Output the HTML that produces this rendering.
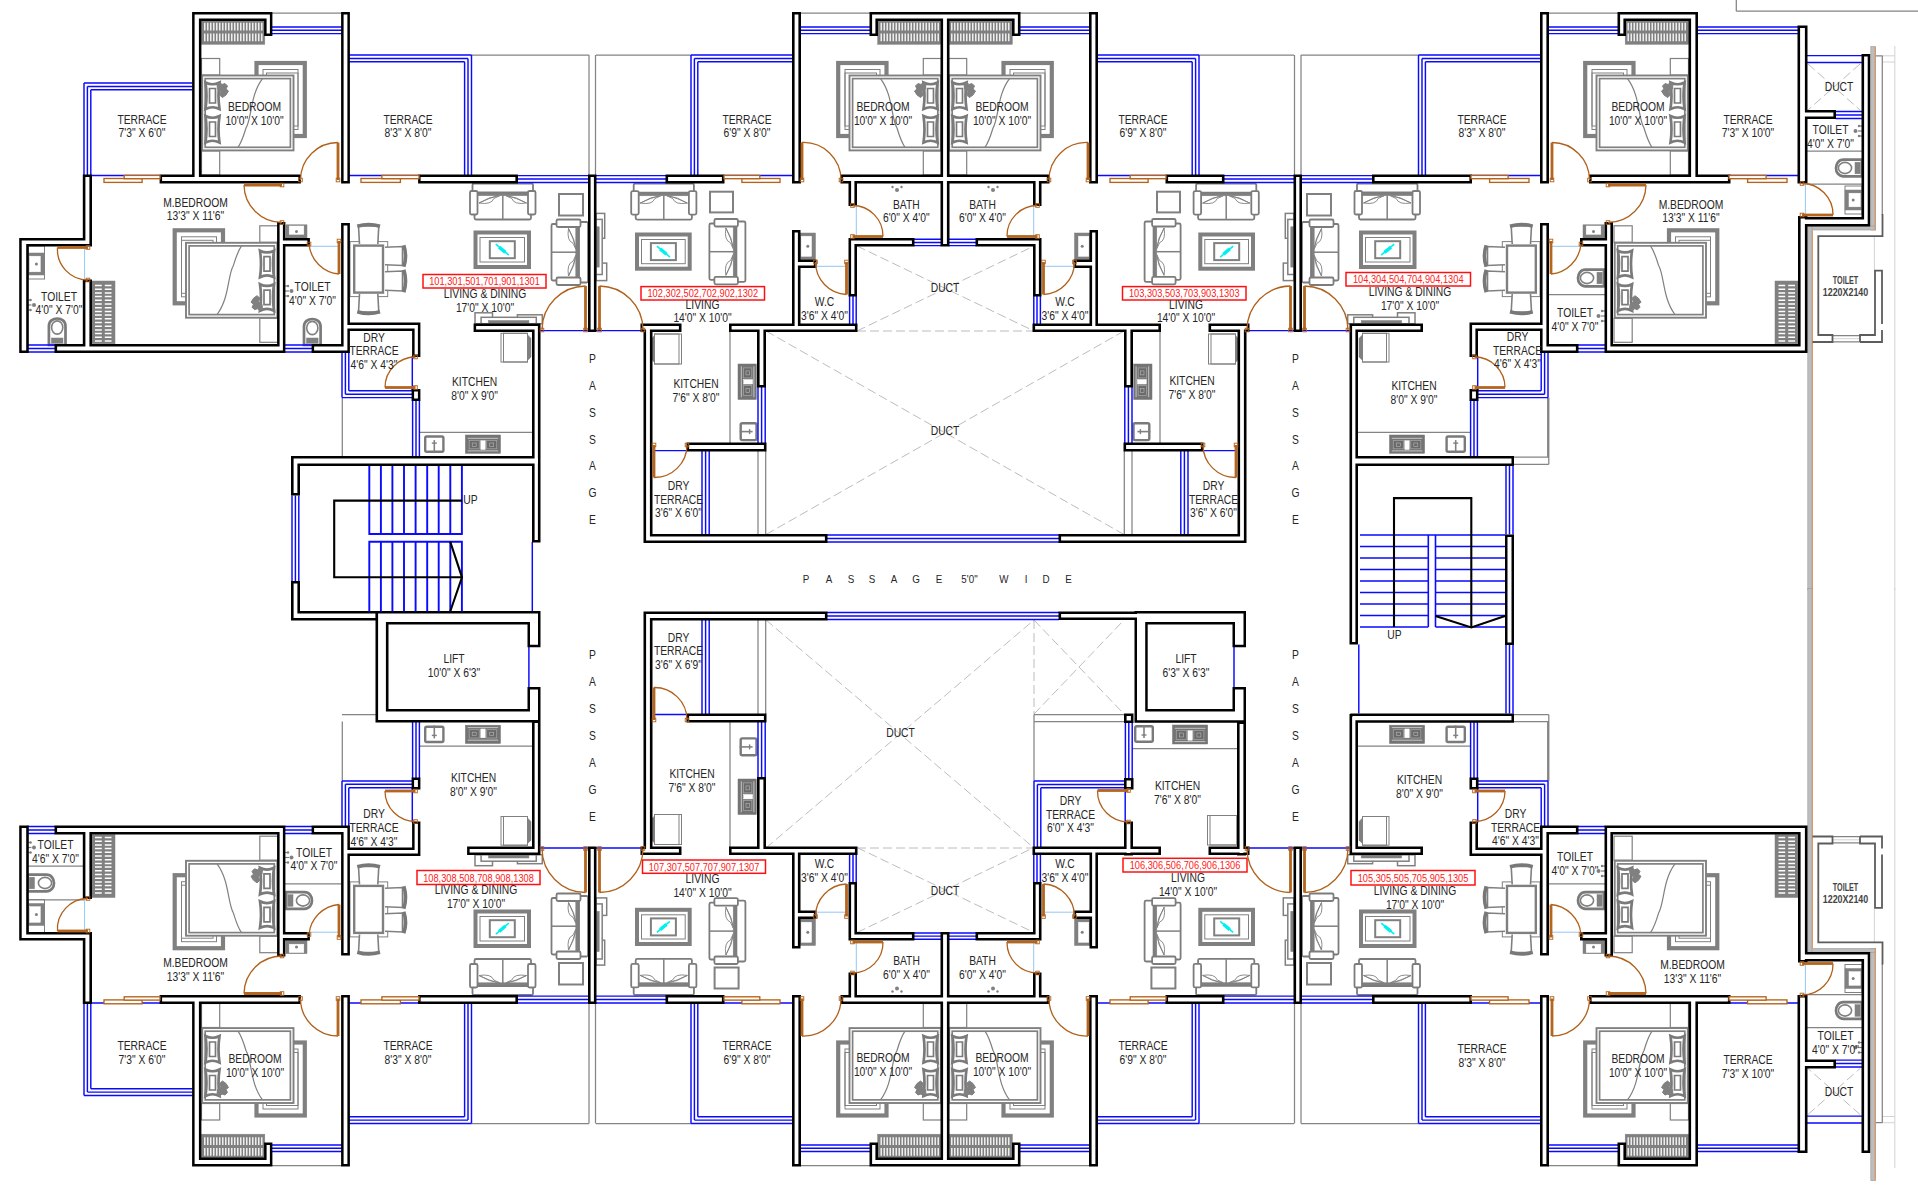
<!DOCTYPE html><html><head><meta charset="utf-8"><title>Floor Plan</title>
<style>html,body{margin:0;padding:0;background:#fff;overflow:hidden}svg{display:block}text{font-family:"Liberation Sans",Arial,Helvetica,sans-serif}</style></head><body>
<svg width="1918" height="1200" viewBox="0 0 1918 1200">
<rect width="1918" height="1200" fill="#fff"/>
<path d="M1882 55.8L1894.6 55.8M1882 62L1894.6 62M1894.8 46L1894.8 590M1874.4 236L1874.4 270M1832.5 338.7L1860 338.7M1882 1122.7L1894.6 1122.7M1882 1116.5L1894.6 1116.5M1894.8 1168L1894.8 588.5M1874.4 942.5L1874.4 908.5M1832.5 839.8L1860 839.8" fill="none" stroke="#c8c8c8" stroke-width="0.8"/>
<path d="M272 13L342 13M471.5 55L589 55M589 55L589 175M595.5 55L595.5 175M342.3 397.6L342.3 457M419.5 432.3L532.5 432.3M272 1165.5L342 1165.5M471.5 1123.5L589 1123.5M589 1123.5L589 1003.5M595.5 1123.5L595.5 1003.5M342.3 780.9L342.3 721.5M419.5 746.2L532.5 746.2M1618 13L1548 13M1418.5 55L1301 55M1301 55L1301 175M1294.5 55L1294.5 175M1547.7 397.6L1547.7 457M1470.5 432.3L1357.5 432.3M1862 151L1807 151M1862 184L1807 184M1618 1165.5L1548 1165.5M1418.5 1123.5L1301 1123.5M1301 1123.5L1301 1003.5M1294.5 1123.5L1294.5 1003.5M1547.7 780.9L1547.7 721.5M1470.5 746.2L1357.5 746.2M1862 1027.5L1807 1027.5M1862 994.5L1807 994.5M596 55L691 55M800 13L870 13M758 451L758 534.5M765.7 451L765.7 534.5M730 331L730 443M1294 55L1199 55M1090 13L1020 13M1132 451L1132 534.5M1124.3 451L1124.3 534.5M1160 331L1160 443M596 1123.5L691 1123.5M800 1165.5L870 1165.5M758 714L758 620M765.7 714L765.7 620M730 847.5L730 722M1294 1123.5L1199 1123.5M1090 1165.5L1020 1165.5M342 714.5L376 714.5M1514 457.2L1548.8 457.2M1514 464.3L1548.8 464.3M1548.8 397.6L1548.8 464.3M1514 714.7L1548.8 714.7M1514 721.7L1548.8 721.7M1548.8 714.7L1548.8 781M1034 714.5L1125 714.5M1034 721.5L1125 721.5M1034 714.5L1034 781M1132.5 748.5L1237.5 748.5M1874.5 55.8L1882.3 55.8M1882.3 55.8L1882.3 215M1832.5 335.6L1860 335.6M1832.5 341.9L1860 341.9M1874.5 1122.7L1882.3 1122.7M1882.3 1122.7L1882.3 963.5M1832.5 842.9L1860 842.9M1832.5 836.6L1860 836.6M1736.3 0L1736.3 11.2M1736.3 11.2L1918 11.2M285 883.8L341.5 883.8M27.5 866L84 866M27.5 899.8L84 899.8M1605 294.7L1548.5 294.7M1605 883.8L1548.5 883.8" fill="none" stroke="#848484" stroke-width="1.25"/>
<g><path d="M1860 64L1808 110" stroke="#b4b4b4" stroke-width="0.9" stroke-dasharray="9 4" fill="none"/><path d="M1808 64L1860 110" stroke="#b4b4b4" stroke-width="0.9" stroke-dasharray="9 4" fill="none"/><path d="M1860 1114.5L1808 1068.5" stroke="#b4b4b4" stroke-width="0.9" stroke-dasharray="9 4" fill="none"/><path d="M1808 1114.5L1860 1068.5" stroke="#b4b4b4" stroke-width="0.9" stroke-dasharray="9 4" fill="none"/><path d="M857 246L1034 331" stroke="#b4b4b4" stroke-width="0.9" stroke-dasharray="9 4" fill="none"/><path d="M857 331L1034 246" stroke="#b4b4b4" stroke-width="0.9" stroke-dasharray="9 4" fill="none"/><path d="M857 932.5L1034 847.5" stroke="#b4b4b4" stroke-width="0.9" stroke-dasharray="9 4" fill="none"/><path d="M857 847.5L1034 932.5" stroke="#b4b4b4" stroke-width="0.9" stroke-dasharray="9 4" fill="none"/><path d="M766 331L1124 534.5" stroke="#b4b4b4" stroke-width="0.9" stroke-dasharray="9 4" fill="none"/><path d="M766 534.5L1124 331" stroke="#b4b4b4" stroke-width="0.9" stroke-dasharray="9 4" fill="none"/><path d="M766 620L1034 848" stroke="#b4b4b4" stroke-width="0.9" stroke-dasharray="9 4" fill="none"/><path d="M766 848L1034 620" stroke="#b4b4b4" stroke-width="0.9" stroke-dasharray="9 4" fill="none"/><path d="M1034 620L1034 714" stroke="#b4b4b4" stroke-width="0.9" stroke-dasharray="9 4" fill="none"/><path d="M1034 620L1124 714" stroke="#b4b4b4" stroke-width="0.9" stroke-dasharray="9 4" fill="none"/><path d="M1034 714L1124 620" stroke="#b4b4b4" stroke-width="0.9" stroke-dasharray="9 4" fill="none"/><path d="M857 331L1034 331" stroke="#b4b4b4" stroke-width="0.9" stroke-dasharray="9 4" fill="none"/><path d="M857 848L1034 848" stroke="#b4b4b4" stroke-width="0.9" stroke-dasharray="9 4" fill="none"/><rect x="1870.8" y="46.5" width="4.2" height="183.5" fill="#bdbdbd" stroke="#9a9a9a" stroke-width="0.6"/><rect x="1811" y="226" width="64" height="4" fill="#bdbdbd" stroke="#9a9a9a" stroke-width="0.6"/><rect x="1807.8" y="226" width="4.2" height="364" fill="#bdbdbd" stroke="#9a9a9a" stroke-width="0.6"/><path d="M1875.5 46.5L1875.5 230.5" stroke="#e09050" stroke-width="0.9"/><path d="M1812.5 230.5L1812.5 590" stroke="#e09050" stroke-width="0.9"/><path d="M1882.5 214L1882.5 236.2L1818.3 236.2L1818.3 335L1832.5 335L1832.5 342L1812.5 342" fill="none" stroke="#5c5c5c" stroke-width="1.8"/><path d="M1860 342L1860 335L1875 335L1875 270.6L1882 270.6L1882 324" fill="none" stroke="#5c5c5c" stroke-width="1.8"/><path d="M1860 342L1882 342L1882 330" fill="none" stroke="#5c5c5c" stroke-width="1.8"/><rect x="1870.8" y="948.5" width="4.2" height="232.2" fill="#bdbdbd" stroke="#9a9a9a" stroke-width="0.6"/><rect x="1811" y="948.5" width="64" height="4" fill="#bdbdbd" stroke="#9a9a9a" stroke-width="0.6"/><rect x="1807.8" y="588.5" width="4.2" height="364" fill="#bdbdbd" stroke="#9a9a9a" stroke-width="0.6"/><path d="M1875.5 1180.7L1875.5 948" stroke="#e09050" stroke-width="0.9"/><path d="M1812.5 948L1812.5 588.5" stroke="#e09050" stroke-width="0.9"/><path d="M1882.5 964.5L1882.5 942.3L1818.3 942.3L1818.3 843.5L1832.5 843.5L1832.5 836.5L1812.5 836.5" fill="none" stroke="#5c5c5c" stroke-width="1.8"/><path d="M1860 836.5L1860 843.5L1875 843.5L1875 907.9L1882 907.9L1882 854.5" fill="none" stroke="#5c5c5c" stroke-width="1.8"/><path d="M1860 836.5L1882 836.5L1882 848.5" fill="none" stroke="#5c5c5c" stroke-width="1.8"/><rect x="256.5" y="63" width="48.3" height="73" fill="#fff" stroke="#808080" stroke-width="4.2"/><rect x="263" y="69.5" width="35" height="60" fill="none" stroke="#808080" stroke-width="1"/><rect x="266.5" y="73" width="31.5" height="53" fill="none" stroke="#808080" stroke-width="1"/><rect x="201.5" y="58.5" width="18.2" height="16.5" fill="#fff" stroke="#808080" stroke-width="1.2"/><rect x="201.5" y="151" width="18.2" height="24" fill="#fff" stroke="#808080" stroke-width="1.2"/><rect x="202.2" y="75.5" width="91.3" height="74.9" fill="#fff" stroke="#808080" stroke-width="1.9"/><rect x="205.2" y="78.6" width="85.2" height="68.7" fill="none" stroke="#808080" stroke-width="1.7"/><path d="M262.5 78.6C250 95 252 118 246 128C243 138 241 143 238 147.3" fill="none" stroke="#808080" stroke-width="1.2" /><path d="M205.5 82.5Q212.5 86 219.5 82.5Q217.5 95.8 219.5 109Q212.5 105.5 205.5 109Q207.5 95.8 205.5 82.5Z" fill="#fff" stroke="#7a7a7a" stroke-width="2.7" /><path d="M209.5 88.5L215.5 88.5 215.5 103 209.5 103Z" fill="#fff" stroke="#7a7a7a" stroke-width="1.7" /><path d="M205.5 116Q212.5 119.5 219.5 116Q217.5 129.2 219.5 142.5Q212.5 139 205.5 142.5Q207.5 129.2 205.5 116Z" fill="#fff" stroke="#7a7a7a" stroke-width="2.7" /><path d="M209.5 122L215.5 122 215.5 136.5 209.5 136.5Z" fill="#fff" stroke="#7a7a7a" stroke-width="1.7" /><path d="M217 84L220 82.5 222 84.5 225 83.5 227.5 86 226 89 228.5 91 226 95 222.5 97.5 219.5 95 221 91.5 217.5 89Z" fill="#808080" stroke="#808080" stroke-width="1" /><rect x="201.3" y="19.7" width="63.5" height="24.6" fill="#808080" stroke="#808080" stroke-width="0.5"/><path d="M204.8 22.7L204.8 30.5M207.8 22.7L207.8 30.5M210.8 22.7L210.8 30.5M213.8 22.7L213.8 30.5M216.8 22.7L216.8 30.5M219.8 22.7L219.8 30.5M222.8 22.7L222.8 30.5M225.8 22.7L225.8 30.5M228.8 22.7L228.8 30.5M231.8 22.7L231.8 30.5M234.8 22.7L234.8 30.5M237.8 22.7L237.8 30.5M240.8 22.7L240.8 30.5M243.8 22.7L243.8 30.5M246.8 22.7L246.8 30.5M249.8 22.7L249.8 30.5M252.8 22.7L252.8 30.5M255.8 22.7L255.8 30.5M258.8 22.7L258.8 30.5M261.8 22.7L261.8 30.5" stroke="#fff" stroke-width="1.3"/><path d="M204.8 33.5L204.8 41.3M207.8 33.5L207.8 41.3M210.8 33.5L210.8 41.3M213.8 33.5L213.8 41.3M216.8 33.5L216.8 41.3M219.8 33.5L219.8 41.3M222.8 33.5L222.8 41.3M225.8 33.5L225.8 41.3M228.8 33.5L228.8 41.3M231.8 33.5L231.8 41.3M234.8 33.5L234.8 41.3M237.8 33.5L237.8 41.3M240.8 33.5L240.8 41.3M243.8 33.5L243.8 41.3M246.8 33.5L246.8 41.3M249.8 33.5L249.8 41.3M252.8 33.5L252.8 41.3M255.8 33.5L255.8 41.3M258.8 33.5L258.8 41.3M261.8 33.5L261.8 41.3" stroke="#fff" stroke-width="1.3"/><rect x="174.7" y="230.3" width="48.3" height="73" fill="#fff" stroke="#808080" stroke-width="4.2"/><rect x="181.5" y="236.8" width="35" height="60" fill="none" stroke="#808080" stroke-width="1"/><rect x="181.5" y="240.3" width="31.5" height="53" fill="none" stroke="#808080" stroke-width="1"/><rect x="259.8" y="225.8" width="18.2" height="16.5" fill="#fff" stroke="#808080" stroke-width="1.2"/><rect x="259.8" y="318.3" width="18.2" height="24" fill="#fff" stroke="#808080" stroke-width="1.2"/><rect x="186" y="242.8" width="91.3" height="74.9" fill="#fff" stroke="#808080" stroke-width="1.9"/><rect x="189.1" y="245.9" width="85.2" height="68.7" fill="none" stroke="#808080" stroke-width="1.7"/><path d="M217 314.6C229.5 298.2 227.5 275.2 233.5 265.2C236.5 255.2 238.5 250.2 241.5 245.9" fill="none" stroke="#808080" stroke-width="1.2" /><path d="M274 310.7Q267 307.2 260 310.7Q262 297.5 260 284.2Q267 287.7 274 284.2Q272 297.5 274 310.7Z" fill="#fff" stroke="#7a7a7a" stroke-width="2.7" /><path d="M270 304.7L264 304.7 264 290.2 270 290.2Z" fill="#fff" stroke="#7a7a7a" stroke-width="1.7" /><path d="M274 277.2Q267 273.7 260 277.2Q262 264 260 250.7Q267 254.2 274 250.7Q272 264 274 277.2Z" fill="#fff" stroke="#7a7a7a" stroke-width="2.7" /><path d="M270 271.2L264 271.2 264 256.7 270 256.7Z" fill="#fff" stroke="#7a7a7a" stroke-width="1.7" /><path d="M262.5 309.2L259.5 310.7 257.5 308.7 254.5 309.7 252 307.2 253.5 304.2 251 302.2 253.5 298.2 257 295.7 260 298.2 258.5 301.7 262 304.2Z" fill="#808080" stroke="#808080" stroke-width="1" /><rect x="91.5" y="281" width="23.5" height="62.8" fill="#808080" stroke="#808080" stroke-width="0.5"/><path d="M95 285.5L101.8 285.5M95 289.2L101.8 289.2M95 292.9L101.8 292.9M95 296.6L101.8 296.6M95 300.3L101.8 300.3M95 304L101.8 304M95 307.7L101.8 307.7M95 311.4L101.8 311.4M95 315.1L101.8 315.1M95 318.8L101.8 318.8M95 322.5L101.8 322.5M95 326.2L101.8 326.2M95 329.9L101.8 329.9M95 333.6L101.8 333.6M95 337.3L101.8 337.3M95 341L101.8 341" stroke="#fff" stroke-width="1.5"/><path d="M104.8 285.5L111.5 285.5M104.8 289.2L111.5 289.2M104.8 292.9L111.5 292.9M104.8 296.6L111.5 296.6M104.8 300.3L111.5 300.3M104.8 304L111.5 304M104.8 307.7L111.5 307.7M104.8 311.4L111.5 311.4M104.8 315.1L111.5 315.1M104.8 318.8L111.5 318.8M104.8 322.5L111.5 322.5M104.8 326.2L111.5 326.2M104.8 329.9L111.5 329.9M104.8 333.6L111.5 333.6M104.8 337.3L111.5 337.3M104.8 341L111.5 341" stroke="#fff" stroke-width="1.5"/><rect x="350" y="241.6" width="37.7" height="55" fill="#fff" stroke="#808080" stroke-width="1"/><path d="M359.5 244L358.5 226 378.8 226 377.8 244" fill="#fff" stroke="#808080" stroke-width="1.6" /><path d="M357.3 226.2Q368.6 222.7 380 226.2" fill="none" stroke="#787878" stroke-width="3.6" /><path d="M359.5 294L358.5 312 378.8 312 377.8 294" fill="#fff" stroke="#808080" stroke-width="1.6" /><path d="M357.3 311.8Q368.6 315.3 380 311.8" fill="none" stroke="#787878" stroke-width="3.6" /><path d="M385 247.3L402.5 246.5 402.5 265.5 385 264.7" fill="#fff" stroke="#808080" stroke-width="1.6" /><path d="M403.8 245.3Q407.3 256 403.8 266.7" fill="none" stroke="#787878" stroke-width="3.6" /><path d="M385 271.8L402.5 271 402.5 291 385 290.2" fill="#fff" stroke="#808080" stroke-width="1.6" /><path d="M403.8 269.8Q407.3 281 403.8 292.2" fill="none" stroke="#787878" stroke-width="3.6" /><rect x="354.2" y="245.6" width="28.8" height="47" fill="#fff" stroke="#808080" stroke-width="2.4"/><rect x="286" y="224.8" width="21" height="13.5" fill="#808080" stroke="#808080" stroke-width="0.5"/><rect x="289.2" y="226" width="14.6" height="8.3" fill="#fff" stroke="#fff" stroke-width="0.5"/><circle cx="296.5" cy="231.6" r="1.5" fill="#808080"/><path d="M304 345L304 326.5C304 316.5 320.6 316.5 320.6 326.5L320.6 345Z" fill="#fff" stroke="#7a7a7a" stroke-width="2.7" /><ellipse cx="312.3" cy="328" rx="5.6" ry="6.6" fill="#fff" stroke="#808080" stroke-width="1.6"/><rect x="306.5" y="338" width="11.6" height="5.2" fill="#808080" stroke="#808080" stroke-width="0.5"/><circle cx="288" cy="286" r="1.2" fill="#808080"/><circle cx="291.5" cy="291" r="2" fill="#808080"/><circle cx="288" cy="296" r="1.2" fill="#808080"/><path d="M285 286L289 286" stroke="#808080" stroke-width="1.2"/><path d="M285 291L289 291" stroke="#808080" stroke-width="1.2"/><path d="M285 296L289 296" stroke="#808080" stroke-width="1.2"/><rect x="474.5" y="191.5" width="56.5" height="28" rx="1.5" fill="#fff" stroke="#7c7c7c" stroke-width="1.8"/><path d="M502.8 195.5L502.8 219.5" fill="none" stroke="#808080" stroke-width="1.5"/><rect x="477.5" y="192.5" width="50.5" height="3.2" fill="#808080" stroke="#7c7c7c" stroke-width="0.5"/><path d="M499.8 195.7Q489.4 196.5 479 203Q491.4 205 493.8 198.5L499.8 195.7Z" fill="#fff" stroke="#808080" stroke-width="0.9"/><path d="M497.8 195.7Q489.4 198 479 203" fill="none" stroke="#808080" stroke-width="0.9"/><path d="M505.8 195.7Q516.1 196.5 526.5 203Q514.1 205 511.8 198.5L505.8 195.7Z" fill="#fff" stroke="#808080" stroke-width="0.9"/><path d="M507.8 195.7Q516.1 198 526.5 203" fill="none" stroke="#808080" stroke-width="0.9"/><rect x="472.5" y="183.5" width="60.5" height="9" rx="1.5" fill="#fff" stroke="#7c7c7c" stroke-width="1.8"/><rect x="470" y="191" width="7.5" height="23.5" rx="1.5" fill="#fff" stroke="#7c7c7c" stroke-width="1.8"/><rect x="528" y="191" width="7.5" height="23.5" rx="1.5" fill="#fff" stroke="#7c7c7c" stroke-width="1.8"/><rect x="559" y="194" width="24" height="21.5" fill="#fff" stroke="#808080" stroke-width="2"/><rect x="551.5" y="224" width="28.5" height="56.5" rx="1.5" fill="#fff" stroke="#7c7c7c" stroke-width="1.8"/><path d="M576 252.2L551.5 252.2" fill="none" stroke="#808080" stroke-width="1.5"/><rect x="575.8" y="227" width="3.2" height="50.5" fill="#808080" stroke="#7c7c7c" stroke-width="0.5"/><path d="M575.8 249.2Q575 238.9 568.5 228.5Q566.5 240.9 573 243.2L575.8 249.2Z" fill="#fff" stroke="#808080" stroke-width="0.9"/><path d="M575.8 247.2Q573.5 238.9 568.5 228.5" fill="none" stroke="#808080" stroke-width="0.9"/><path d="M575.8 255.2Q575 265.6 568.5 276Q566.5 263.6 573 261.2L575.8 255.2Z" fill="#fff" stroke="#808080" stroke-width="0.9"/><path d="M575.8 257.2Q573.5 265.6 568.5 276" fill="none" stroke="#808080" stroke-width="0.9"/><rect x="579" y="222" width="9" height="60.5" rx="1.5" fill="#fff" stroke="#7c7c7c" stroke-width="1.8"/><rect x="556.5" y="219.5" width="24" height="7.5" rx="1.5" fill="#fff" stroke="#7c7c7c" stroke-width="1.8"/><rect x="556.5" y="277.5" width="24" height="7.5" rx="1.5" fill="#fff" stroke="#7c7c7c" stroke-width="1.8"/><rect x="475.5" y="232.5" width="53.5" height="34.5" fill="#fff" stroke="#808080" stroke-width="4"/><rect x="480" y="237.5" width="44.5" height="24.5" fill="none" stroke="#808080" stroke-width="1"/><rect x="489.8" y="241.2" width="25" height="17" fill="none" stroke="#808080" stroke-width="2"/><path d="M495.8 244.2L508.8 255.2" stroke="#00f0f0" stroke-width="1.6"/><path d="M499.1 247.1L505.4 252.4" stroke="#00f0f0" stroke-width="3.4"/><rect x="475" y="312.8" width="17.5" height="10.9" fill="#fff" stroke="#808080" stroke-width="1.5"/><rect x="517.4" y="314.8" width="24.9" height="8.9" fill="#fff" stroke="#808080" stroke-width="1.5"/><rect x="481.1" y="317.3" width="55.2" height="6.4" fill="#fff" stroke="#808080" stroke-width="1.5"/><rect x="488.5" y="320.5" width="40.4" height="3.2" fill="#808080" stroke="#808080" stroke-width="0.5"/><rect x="425.2" y="436.5" width="18.2" height="15.2" rx="1.5" fill="#fff" stroke="#7a7a7a" stroke-width="2.4"/><path d="M434.3 440.1L434.3 453.1" fill="none" stroke="#808080" stroke-width="1.6" /><path d="M431.8 443.1L436.8 443.1" fill="none" stroke="#808080" stroke-width="1.4" /><rect x="465.4" y="435" width="35.1" height="18.3" fill="#747474" stroke="#747474" stroke-width="0.5"/><path d="M467.7 438.3L498.2 438.3" fill="none" stroke="#e8e8e8" stroke-width="0.7" /><path d="M467.7 450.9L498.2 450.9" fill="none" stroke="#e8e8e8" stroke-width="0.7" /><rect x="469.2" y="440.5" width="10" height="8.3" fill="#6a6a6a" stroke="#a8a8a8" stroke-width="0.7"/><rect x="472.2" y="443" width="4" height="3.3" fill="#6a6a6a" stroke="#b8b8b8" stroke-width="0.6"/><rect x="486.7" y="440.5" width="10" height="8.3" fill="#6a6a6a" stroke="#a8a8a8" stroke-width="0.7"/><rect x="489.7" y="443" width="4" height="3.3" fill="#6a6a6a" stroke="#b8b8b8" stroke-width="0.6"/><rect x="480.8" y="440.7" width="4.4" height="8.8" fill="#fff" stroke="#fff" stroke-width="0.5"/><rect x="501" y="333.3" width="26.5" height="28.7" fill="#fff" stroke="#808080" stroke-width="1"/><rect x="503.5" y="333.3" width="24" height="28.7" fill="none" stroke="#808080" stroke-width="1"/><path d="M527.5 334.8L531 338.3 531 357 527.5 360.5Z" fill="#808080" stroke="#808080" stroke-width="0.5" /><rect x="28" y="246" width="16.5" height="33" fill="none" stroke="#808080" stroke-width="1"/><rect x="28.5" y="253" width="15.8" height="22" fill="#808080" stroke="#808080" stroke-width="0.5"/><rect x="29.7" y="256.2" width="10.6" height="15.6" fill="#fff" stroke="#fff" stroke-width="0.5"/><circle cx="36.4" cy="264" r="1.5" fill="#808080"/><path d="M48.9 345L48.9 326C48.9 316 65.5 316 65.5 326L65.5 345Z" fill="#fff" stroke="#7a7a7a" stroke-width="2.7" /><ellipse cx="57.2" cy="327.5" rx="5.6" ry="6.6" fill="#fff" stroke="#808080" stroke-width="1.6"/><rect x="51.4" y="338" width="11.6" height="5.2" fill="#808080" stroke="#808080" stroke-width="0.5"/><circle cx="30.5" cy="300" r="1.2" fill="#808080"/><circle cx="34" cy="305" r="2" fill="#808080"/><circle cx="30.5" cy="310" r="1.2" fill="#808080"/><path d="M27.5 300L31.5 300" stroke="#808080" stroke-width="1.2"/><path d="M27.5 305L31.5 305" stroke="#808080" stroke-width="1.2"/><path d="M27.5 310L31.5 310" stroke="#808080" stroke-width="1.2"/><rect x="256.5" y="1042.5" width="48.3" height="73" fill="#fff" stroke="#808080" stroke-width="4.2"/><rect x="263" y="1049" width="35" height="60" fill="none" stroke="#808080" stroke-width="1"/><rect x="266.5" y="1052.5" width="31.5" height="53" fill="none" stroke="#808080" stroke-width="1"/><rect x="201.5" y="1103.5" width="18.2" height="16.5" fill="#fff" stroke="#808080" stroke-width="1.2"/><rect x="201.5" y="1003.5" width="18.2" height="24" fill="#fff" stroke="#808080" stroke-width="1.2"/><rect x="202.2" y="1028.1" width="91.3" height="74.9" fill="#fff" stroke="#808080" stroke-width="1.9"/><rect x="205.2" y="1031.2" width="85.2" height="68.7" fill="none" stroke="#808080" stroke-width="1.7"/><path d="M262.5 1099.9C250 1083.5 252 1060.5 246 1050.5C243 1040.5 241 1035.5 238 1031.2" fill="none" stroke="#808080" stroke-width="1.2" /><path d="M205.5 1096Q212.5 1092.5 219.5 1096Q217.5 1082.8 219.5 1069.5Q212.5 1073 205.5 1069.5Q207.5 1082.8 205.5 1096Z" fill="#fff" stroke="#7a7a7a" stroke-width="2.7" /><path d="M209.5 1090L215.5 1090 215.5 1075.5 209.5 1075.5Z" fill="#fff" stroke="#7a7a7a" stroke-width="1.7" /><path d="M205.5 1062.5Q212.5 1059 219.5 1062.5Q217.5 1049.2 219.5 1036Q212.5 1039.5 205.5 1036Q207.5 1049.2 205.5 1062.5Z" fill="#fff" stroke="#7a7a7a" stroke-width="2.7" /><path d="M209.5 1056.5L215.5 1056.5 215.5 1042 209.5 1042Z" fill="#fff" stroke="#7a7a7a" stroke-width="1.7" /><path d="M217 1094.5L220 1096 222 1094 225 1095 227.5 1092.5 226 1089.5 228.5 1087.5 226 1083.5 222.5 1081 219.5 1083.5 221 1087 217.5 1089.5Z" fill="#808080" stroke="#808080" stroke-width="1" /><rect x="201.3" y="1134.2" width="63.5" height="24.6" fill="#808080" stroke="#808080" stroke-width="0.5"/><path d="M204.8 1155.8L204.8 1148M207.8 1155.8L207.8 1148M210.8 1155.8L210.8 1148M213.8 1155.8L213.8 1148M216.8 1155.8L216.8 1148M219.8 1155.8L219.8 1148M222.8 1155.8L222.8 1148M225.8 1155.8L225.8 1148M228.8 1155.8L228.8 1148M231.8 1155.8L231.8 1148M234.8 1155.8L234.8 1148M237.8 1155.8L237.8 1148M240.8 1155.8L240.8 1148M243.8 1155.8L243.8 1148M246.8 1155.8L246.8 1148M249.8 1155.8L249.8 1148M252.8 1155.8L252.8 1148M255.8 1155.8L255.8 1148M258.8 1155.8L258.8 1148M261.8 1155.8L261.8 1148" stroke="#fff" stroke-width="1.3"/><path d="M204.8 1145L204.8 1137.2M207.8 1145L207.8 1137.2M210.8 1145L210.8 1137.2M213.8 1145L213.8 1137.2M216.8 1145L216.8 1137.2M219.8 1145L219.8 1137.2M222.8 1145L222.8 1137.2M225.8 1145L225.8 1137.2M228.8 1145L228.8 1137.2M231.8 1145L231.8 1137.2M234.8 1145L234.8 1137.2M237.8 1145L237.8 1137.2M240.8 1145L240.8 1137.2M243.8 1145L243.8 1137.2M246.8 1145L246.8 1137.2M249.8 1145L249.8 1137.2M252.8 1145L252.8 1137.2M255.8 1145L255.8 1137.2M258.8 1145L258.8 1137.2M261.8 1145L261.8 1137.2" stroke="#fff" stroke-width="1.3"/><rect x="174.7" y="875.2" width="48.3" height="73" fill="#fff" stroke="#808080" stroke-width="4.2"/><rect x="181.5" y="881.7" width="35" height="60" fill="none" stroke="#808080" stroke-width="1"/><rect x="181.5" y="885.2" width="31.5" height="53" fill="none" stroke="#808080" stroke-width="1"/><rect x="259.8" y="936.2" width="18.2" height="16.5" fill="#fff" stroke="#808080" stroke-width="1.2"/><rect x="259.8" y="836.2" width="18.2" height="24" fill="#fff" stroke="#808080" stroke-width="1.2"/><rect x="186" y="860.8" width="91.3" height="74.9" fill="#fff" stroke="#808080" stroke-width="1.9"/><rect x="189.1" y="863.9" width="85.2" height="68.7" fill="none" stroke="#808080" stroke-width="1.7"/><path d="M217 863.9C229.5 880.3 227.5 903.3 233.5 913.3C236.5 923.3 238.5 928.3 241.5 932.6" fill="none" stroke="#808080" stroke-width="1.2" /><path d="M274 867.8Q267 871.3 260 867.8Q262 881.1 260 894.3Q267 890.8 274 894.3Q272 881.1 274 867.8Z" fill="#fff" stroke="#7a7a7a" stroke-width="2.7" /><path d="M270 873.8L264 873.8 264 888.3 270 888.3Z" fill="#fff" stroke="#7a7a7a" stroke-width="1.7" /><path d="M274 901.3Q267 904.8 260 901.3Q262 914.6 260 927.8Q267 924.3 274 927.8Q272 914.6 274 901.3Z" fill="#fff" stroke="#7a7a7a" stroke-width="2.7" /><path d="M270 907.3L264 907.3 264 921.8 270 921.8Z" fill="#fff" stroke="#7a7a7a" stroke-width="1.7" /><path d="M262.5 869.3L259.5 867.8 257.5 869.8 254.5 868.8 252 871.3 253.5 874.3 251 876.3 253.5 880.3 257 882.8 260 880.3 258.5 876.8 262 874.3Z" fill="#808080" stroke="#808080" stroke-width="1" /><rect x="91.5" y="834.7" width="23.5" height="62.8" fill="#808080" stroke="#808080" stroke-width="0.5"/><path d="M95 893L101.8 893M95 889.3L101.8 889.3M95 885.6L101.8 885.6M95 881.9L101.8 881.9M95 878.2L101.8 878.2M95 874.5L101.8 874.5M95 870.8L101.8 870.8M95 867.1L101.8 867.1M95 863.4L101.8 863.4M95 859.7L101.8 859.7M95 856L101.8 856M95 852.3L101.8 852.3M95 848.6L101.8 848.6M95 844.9L101.8 844.9M95 841.2L101.8 841.2M95 837.5L101.8 837.5" stroke="#fff" stroke-width="1.5"/><path d="M104.8 893L111.5 893M104.8 889.3L111.5 889.3M104.8 885.6L111.5 885.6M104.8 881.9L111.5 881.9M104.8 878.2L111.5 878.2M104.8 874.5L111.5 874.5M104.8 870.8L111.5 870.8M104.8 867.1L111.5 867.1M104.8 863.4L111.5 863.4M104.8 859.7L111.5 859.7M104.8 856L111.5 856M104.8 852.3L111.5 852.3M104.8 848.6L111.5 848.6M104.8 844.9L111.5 844.9M104.8 841.2L111.5 841.2M104.8 837.5L111.5 837.5" stroke="#fff" stroke-width="1.5"/><rect x="350" y="881.9" width="37.7" height="55" fill="#fff" stroke="#808080" stroke-width="1"/><path d="M359.5 934.5L358.5 952.5 378.8 952.5 377.8 934.5" fill="#fff" stroke="#808080" stroke-width="1.6" /><path d="M357.3 952.3Q368.6 955.8 380 952.3" fill="none" stroke="#787878" stroke-width="3.6" /><path d="M359.5 884.5L358.5 866.5 378.8 866.5 377.8 884.5" fill="#fff" stroke="#808080" stroke-width="1.6" /><path d="M357.3 866.7Q368.6 863.2 380 866.7" fill="none" stroke="#787878" stroke-width="3.6" /><path d="M385 931.2L402.5 932 402.5 913 385 913.8" fill="#fff" stroke="#808080" stroke-width="1.6" /><path d="M403.8 933.2Q407.3 922.5 403.8 911.8" fill="none" stroke="#787878" stroke-width="3.6" /><path d="M385 906.7L402.5 907.5 402.5 887.5 385 888.3" fill="#fff" stroke="#808080" stroke-width="1.6" /><path d="M403.8 908.7Q407.3 897.5 403.8 886.3" fill="none" stroke="#787878" stroke-width="3.6" /><rect x="354.2" y="885.9" width="28.8" height="47" fill="#fff" stroke="#808080" stroke-width="2.4"/><rect x="286" y="940.2" width="21" height="13.5" fill="#808080" stroke="#808080" stroke-width="0.5"/><rect x="289.2" y="944.2" width="14.6" height="8.3" fill="#fff" stroke="#fff" stroke-width="0.5"/><circle cx="296.5" cy="947" r="1.5" fill="#808080"/><path d="M286 908.8L304.5 908.8C314.5 908.8 314.5 892.2 304.5 892.2L286 892.2Z" fill="#fff" stroke="#7a7a7a" stroke-width="2.7" /><ellipse cx="303" cy="900.5" rx="6.6" ry="5.6" fill="#fff" stroke="#808080" stroke-width="1.6"/><rect x="287.8" y="894.7" width="5.2" height="11.6" fill="#808080" stroke="#808080" stroke-width="0.5"/><circle cx="288" cy="862.5" r="1.2" fill="#808080"/><circle cx="291.5" cy="857.5" r="2" fill="#808080"/><circle cx="288" cy="852.5" r="1.2" fill="#808080"/><path d="M285 862.5L289 862.5" stroke="#808080" stroke-width="1.2"/><path d="M285 857.5L289 857.5" stroke="#808080" stroke-width="1.2"/><path d="M285 852.5L289 852.5" stroke="#808080" stroke-width="1.2"/><rect x="474.5" y="959" width="56.5" height="28" rx="1.5" fill="#fff" stroke="#7c7c7c" stroke-width="1.8"/><path d="M502.8 983L502.8 959" fill="none" stroke="#808080" stroke-width="1.5"/><rect x="477.5" y="982.8" width="50.5" height="3.2" fill="#808080" stroke="#7c7c7c" stroke-width="0.5"/><path d="M499.8 982.8Q489.4 982 479 975.5Q491.4 973.5 493.8 980L499.8 982.8Z" fill="#fff" stroke="#808080" stroke-width="0.9"/><path d="M497.8 982.8Q489.4 980.5 479 975.5" fill="none" stroke="#808080" stroke-width="0.9"/><path d="M505.8 982.8Q516.1 982 526.5 975.5Q514.1 973.5 511.8 980L505.8 982.8Z" fill="#fff" stroke="#808080" stroke-width="0.9"/><path d="M507.8 982.8Q516.1 980.5 526.5 975.5" fill="none" stroke="#808080" stroke-width="0.9"/><rect x="472.5" y="986" width="60.5" height="9" rx="1.5" fill="#fff" stroke="#7c7c7c" stroke-width="1.8"/><rect x="470" y="964" width="7.5" height="23.5" rx="1.5" fill="#fff" stroke="#7c7c7c" stroke-width="1.8"/><rect x="528" y="964" width="7.5" height="23.5" rx="1.5" fill="#fff" stroke="#7c7c7c" stroke-width="1.8"/><rect x="559" y="963" width="24" height="21.5" fill="#fff" stroke="#808080" stroke-width="2"/><rect x="551.5" y="898" width="28.5" height="56.5" rx="1.5" fill="#fff" stroke="#7c7c7c" stroke-width="1.8"/><path d="M576 926.2L551.5 926.2" fill="none" stroke="#808080" stroke-width="1.5"/><rect x="575.8" y="901" width="3.2" height="50.5" fill="#808080" stroke="#7c7c7c" stroke-width="0.5"/><path d="M575.8 929.2Q575 939.6 568.5 950Q566.5 937.6 573 935.2L575.8 929.2Z" fill="#fff" stroke="#808080" stroke-width="0.9"/><path d="M575.8 931.2Q573.5 939.6 568.5 950" fill="none" stroke="#808080" stroke-width="0.9"/><path d="M575.8 923.2Q575 912.9 568.5 902.5Q566.5 914.9 573 917.2L575.8 923.2Z" fill="#fff" stroke="#808080" stroke-width="0.9"/><path d="M575.8 921.2Q573.5 912.9 568.5 902.5" fill="none" stroke="#808080" stroke-width="0.9"/><rect x="579" y="896" width="9" height="60.5" rx="1.5" fill="#fff" stroke="#7c7c7c" stroke-width="1.8"/><rect x="556.5" y="951.5" width="24" height="7.5" rx="1.5" fill="#fff" stroke="#7c7c7c" stroke-width="1.8"/><rect x="556.5" y="893.5" width="24" height="7.5" rx="1.5" fill="#fff" stroke="#7c7c7c" stroke-width="1.8"/><rect x="475.5" y="911.5" width="53.5" height="34.5" fill="#fff" stroke="#808080" stroke-width="4"/><rect x="480" y="916.5" width="44.5" height="24.5" fill="none" stroke="#808080" stroke-width="1"/><rect x="489.8" y="920.2" width="25" height="17" fill="none" stroke="#808080" stroke-width="2"/><path d="M495.8 934.2L508.8 923.2" stroke="#00f0f0" stroke-width="1.6"/><path d="M499.1 931.5L505.4 926" stroke="#00f0f0" stroke-width="3.4"/><rect x="475" y="854.8" width="17.5" height="10.9" fill="#fff" stroke="#808080" stroke-width="1.5"/><rect x="517.4" y="854.8" width="24.9" height="8.9" fill="#fff" stroke="#808080" stroke-width="1.5"/><rect x="481.1" y="854.8" width="55.2" height="6.4" fill="#fff" stroke="#808080" stroke-width="1.5"/><rect x="488.5" y="854.8" width="40.4" height="3.2" fill="#808080" stroke="#808080" stroke-width="0.5"/><rect x="425.2" y="726.8" width="18.2" height="15.2" rx="1.5" fill="#fff" stroke="#7a7a7a" stroke-width="2.4"/><path d="M434.3 738.4L434.3 725.4" fill="none" stroke="#808080" stroke-width="1.6" /><path d="M431.8 735.4L436.8 735.4" fill="none" stroke="#808080" stroke-width="1.4" /><rect x="465.4" y="725.2" width="35.1" height="18.3" fill="#747474" stroke="#747474" stroke-width="0.5"/><path d="M467.7 740.2L498.2 740.2" fill="none" stroke="#e8e8e8" stroke-width="0.7" /><path d="M467.7 727.6L498.2 727.6" fill="none" stroke="#e8e8e8" stroke-width="0.7" /><rect x="469.2" y="729.7" width="10" height="8.3" fill="#6a6a6a" stroke="#a8a8a8" stroke-width="0.7"/><rect x="472.2" y="732.2" width="4" height="3.3" fill="#6a6a6a" stroke="#b8b8b8" stroke-width="0.6"/><rect x="486.7" y="729.7" width="10" height="8.3" fill="#6a6a6a" stroke="#a8a8a8" stroke-width="0.7"/><rect x="489.7" y="732.2" width="4" height="3.3" fill="#6a6a6a" stroke="#b8b8b8" stroke-width="0.6"/><rect x="480.8" y="729" width="4.4" height="8.8" fill="#fff" stroke="#fff" stroke-width="0.5"/><rect x="501" y="816.5" width="26.5" height="28.7" fill="#fff" stroke="#808080" stroke-width="1"/><rect x="503.5" y="816.5" width="24" height="28.7" fill="none" stroke="#808080" stroke-width="1"/><path d="M527.5 843.7L531 840.2 531 821.5 527.5 818Z" fill="#808080" stroke="#808080" stroke-width="0.5" /><rect x="28" y="899.5" width="16.5" height="33" fill="none" stroke="#808080" stroke-width="1"/><rect x="28.5" y="903.5" width="15.8" height="22" fill="#808080" stroke="#808080" stroke-width="0.5"/><rect x="29.7" y="906.7" width="10.6" height="15.6" fill="#fff" stroke="#fff" stroke-width="0.5"/><circle cx="36.4" cy="914.5" r="1.5" fill="#808080"/><path d="M27.5 891.3L46.5 891.3C56.5 891.3 56.5 874.7 46.5 874.7L27.5 874.7Z" fill="#fff" stroke="#7a7a7a" stroke-width="2.7" /><ellipse cx="45" cy="883" rx="6.6" ry="5.6" fill="#fff" stroke="#808080" stroke-width="1.6"/><rect x="29.3" y="877.2" width="5.2" height="11.6" fill="#808080" stroke="#808080" stroke-width="0.5"/><circle cx="30.5" cy="852.5" r="1.2" fill="#808080"/><circle cx="34" cy="847.5" r="2" fill="#808080"/><circle cx="30.5" cy="842.5" r="1.2" fill="#808080"/><path d="M27.5 852.5L31.5 852.5" stroke="#808080" stroke-width="1.2"/><path d="M27.5 847.5L31.5 847.5" stroke="#808080" stroke-width="1.2"/><path d="M27.5 842.5L31.5 842.5" stroke="#808080" stroke-width="1.2"/><rect x="1585.2" y="63" width="48.3" height="73" fill="#fff" stroke="#808080" stroke-width="4.2"/><rect x="1592" y="69.5" width="35" height="60" fill="none" stroke="#808080" stroke-width="1"/><rect x="1592" y="73" width="31.5" height="53" fill="none" stroke="#808080" stroke-width="1"/><rect x="1670.3" y="58.5" width="18.2" height="16.5" fill="#fff" stroke="#808080" stroke-width="1.2"/><rect x="1670.3" y="151" width="18.2" height="24" fill="#fff" stroke="#808080" stroke-width="1.2"/><rect x="1596.5" y="75.5" width="91.3" height="74.9" fill="#fff" stroke="#808080" stroke-width="1.9"/><rect x="1599.6" y="78.6" width="85.2" height="68.7" fill="none" stroke="#808080" stroke-width="1.7"/><path d="M1627.5 78.6C1640 95 1638 118 1644 128C1647 138 1649 143 1652 147.3" fill="none" stroke="#808080" stroke-width="1.2" /><path d="M1684.5 82.5Q1677.5 86 1670.5 82.5Q1672.5 95.8 1670.5 109Q1677.5 105.5 1684.5 109Q1682.5 95.8 1684.5 82.5Z" fill="#fff" stroke="#7a7a7a" stroke-width="2.7" /><path d="M1680.5 88.5L1674.5 88.5 1674.5 103 1680.5 103Z" fill="#fff" stroke="#7a7a7a" stroke-width="1.7" /><path d="M1684.5 116Q1677.5 119.5 1670.5 116Q1672.5 129.2 1670.5 142.5Q1677.5 139 1684.5 142.5Q1682.5 129.2 1684.5 116Z" fill="#fff" stroke="#7a7a7a" stroke-width="2.7" /><path d="M1680.5 122L1674.5 122 1674.5 136.5 1680.5 136.5Z" fill="#fff" stroke="#7a7a7a" stroke-width="1.7" /><path d="M1673 84L1670 82.5 1668 84.5 1665 83.5 1662.5 86 1664 89 1661.5 91 1664 95 1667.5 97.5 1670.5 95 1669 91.5 1672.5 89Z" fill="#808080" stroke="#808080" stroke-width="1" /><rect x="1625.2" y="19.7" width="63.5" height="24.6" fill="#808080" stroke="#808080" stroke-width="0.5"/><path d="M1685.2 22.7L1685.2 30.5M1682.2 22.7L1682.2 30.5M1679.2 22.7L1679.2 30.5M1676.2 22.7L1676.2 30.5M1673.2 22.7L1673.2 30.5M1670.2 22.7L1670.2 30.5M1667.2 22.7L1667.2 30.5M1664.2 22.7L1664.2 30.5M1661.2 22.7L1661.2 30.5M1658.2 22.7L1658.2 30.5M1655.2 22.7L1655.2 30.5M1652.2 22.7L1652.2 30.5M1649.2 22.7L1649.2 30.5M1646.2 22.7L1646.2 30.5M1643.2 22.7L1643.2 30.5M1640.2 22.7L1640.2 30.5M1637.2 22.7L1637.2 30.5M1634.2 22.7L1634.2 30.5M1631.2 22.7L1631.2 30.5M1628.2 22.7L1628.2 30.5" stroke="#fff" stroke-width="1.3"/><path d="M1685.2 33.5L1685.2 41.3M1682.2 33.5L1682.2 41.3M1679.2 33.5L1679.2 41.3M1676.2 33.5L1676.2 41.3M1673.2 33.5L1673.2 41.3M1670.2 33.5L1670.2 41.3M1667.2 33.5L1667.2 41.3M1664.2 33.5L1664.2 41.3M1661.2 33.5L1661.2 41.3M1658.2 33.5L1658.2 41.3M1655.2 33.5L1655.2 41.3M1652.2 33.5L1652.2 41.3M1649.2 33.5L1649.2 41.3M1646.2 33.5L1646.2 41.3M1643.2 33.5L1643.2 41.3M1640.2 33.5L1640.2 41.3M1637.2 33.5L1637.2 41.3M1634.2 33.5L1634.2 41.3M1631.2 33.5L1631.2 41.3M1628.2 33.5L1628.2 41.3" stroke="#fff" stroke-width="1.3"/><rect x="1669" y="230.3" width="48.3" height="73" fill="#fff" stroke="#808080" stroke-width="4.2"/><rect x="1675.5" y="236.8" width="35" height="60" fill="none" stroke="#808080" stroke-width="1"/><rect x="1679" y="240.3" width="31.5" height="53" fill="none" stroke="#808080" stroke-width="1"/><rect x="1614" y="225.8" width="18.2" height="16.5" fill="#fff" stroke="#808080" stroke-width="1.2"/><rect x="1614" y="318.3" width="18.2" height="24" fill="#fff" stroke="#808080" stroke-width="1.2"/><rect x="1614.7" y="242.8" width="91.3" height="74.9" fill="#fff" stroke="#808080" stroke-width="1.9"/><rect x="1617.7" y="245.9" width="85.2" height="68.7" fill="none" stroke="#808080" stroke-width="1.7"/><path d="M1675 314.6C1662.5 298.2 1664.5 275.2 1658.5 265.2C1655.5 255.2 1653.5 250.2 1650.5 245.9" fill="none" stroke="#808080" stroke-width="1.2" /><path d="M1618 310.7Q1625 307.2 1632 310.7Q1630 297.5 1632 284.2Q1625 287.7 1618 284.2Q1620 297.5 1618 310.7Z" fill="#fff" stroke="#7a7a7a" stroke-width="2.7" /><path d="M1622 304.7L1628 304.7 1628 290.2 1622 290.2Z" fill="#fff" stroke="#7a7a7a" stroke-width="1.7" /><path d="M1618 277.2Q1625 273.7 1632 277.2Q1630 264 1632 250.7Q1625 254.2 1618 250.7Q1620 264 1618 277.2Z" fill="#fff" stroke="#7a7a7a" stroke-width="2.7" /><path d="M1622 271.2L1628 271.2 1628 256.7 1622 256.7Z" fill="#fff" stroke="#7a7a7a" stroke-width="1.7" /><path d="M1629.5 309.2L1632.5 310.7 1634.5 308.7 1637.5 309.7 1640 307.2 1638.5 304.2 1641 302.2 1638.5 298.2 1635 295.7 1632 298.2 1633.5 301.7 1630 304.2Z" fill="#808080" stroke="#808080" stroke-width="1" /><rect x="1775" y="281" width="23.5" height="62.8" fill="#808080" stroke="#808080" stroke-width="0.5"/><path d="M1795 285.5L1788.2 285.5M1795 289.2L1788.2 289.2M1795 292.9L1788.2 292.9M1795 296.6L1788.2 296.6M1795 300.3L1788.2 300.3M1795 304L1788.2 304M1795 307.7L1788.2 307.7M1795 311.4L1788.2 311.4M1795 315.1L1788.2 315.1M1795 318.8L1788.2 318.8M1795 322.5L1788.2 322.5M1795 326.2L1788.2 326.2M1795 329.9L1788.2 329.9M1795 333.6L1788.2 333.6M1795 337.3L1788.2 337.3M1795 341L1788.2 341" stroke="#fff" stroke-width="1.5"/><path d="M1785.2 285.5L1778.5 285.5M1785.2 289.2L1778.5 289.2M1785.2 292.9L1778.5 292.9M1785.2 296.6L1778.5 296.6M1785.2 300.3L1778.5 300.3M1785.2 304L1778.5 304M1785.2 307.7L1778.5 307.7M1785.2 311.4L1778.5 311.4M1785.2 315.1L1778.5 315.1M1785.2 318.8L1778.5 318.8M1785.2 322.5L1778.5 322.5M1785.2 326.2L1778.5 326.2M1785.2 329.9L1778.5 329.9M1785.2 333.6L1778.5 333.6M1785.2 337.3L1778.5 337.3M1785.2 341L1778.5 341" stroke="#fff" stroke-width="1.5"/><rect x="1502.3" y="241.6" width="37.7" height="55" fill="#fff" stroke="#808080" stroke-width="1"/><path d="M1530.5 244L1531.5 226 1511.2 226 1512.2 244" fill="#fff" stroke="#808080" stroke-width="1.6" /><path d="M1532.7 226.2Q1521.4 222.7 1510 226.2" fill="none" stroke="#787878" stroke-width="3.6" /><path d="M1530.5 294L1531.5 312 1511.2 312 1512.2 294" fill="#fff" stroke="#808080" stroke-width="1.6" /><path d="M1532.7 311.8Q1521.4 315.3 1510 311.8" fill="none" stroke="#787878" stroke-width="3.6" /><path d="M1505 247.3L1487.5 246.5 1487.5 265.5 1505 264.7" fill="#fff" stroke="#808080" stroke-width="1.6" /><path d="M1486.2 245.3Q1482.7 256 1486.2 266.7" fill="none" stroke="#787878" stroke-width="3.6" /><path d="M1505 271.8L1487.5 271 1487.5 291 1505 290.2" fill="#fff" stroke="#808080" stroke-width="1.6" /><path d="M1486.2 269.8Q1482.7 281 1486.2 292.2" fill="none" stroke="#787878" stroke-width="3.6" /><rect x="1507" y="245.6" width="28.8" height="47" fill="#fff" stroke="#808080" stroke-width="2.4"/><rect x="1583" y="224.8" width="21" height="13.5" fill="#808080" stroke="#808080" stroke-width="0.5"/><rect x="1586.2" y="226" width="14.6" height="8.3" fill="#fff" stroke="#fff" stroke-width="0.5"/><circle cx="1593.5" cy="231.6" r="1.5" fill="#808080"/><path d="M1604 269.7L1585.5 269.7C1575.5 269.7 1575.5 286.3 1585.5 286.3L1604 286.3Z" fill="#fff" stroke="#7a7a7a" stroke-width="2.7" /><ellipse cx="1587" cy="278" rx="6.6" ry="5.6" fill="#fff" stroke="#808080" stroke-width="1.6"/><rect x="1597" y="272.2" width="5.2" height="11.6" fill="#808080" stroke="#808080" stroke-width="0.5"/><circle cx="1602" cy="311" r="1.2" fill="#808080"/><circle cx="1598.5" cy="316" r="2" fill="#808080"/><circle cx="1602" cy="321" r="1.2" fill="#808080"/><path d="M1605 311L1601 311" stroke="#808080" stroke-width="1.2"/><path d="M1605 316L1601 316" stroke="#808080" stroke-width="1.2"/><path d="M1605 321L1601 321" stroke="#808080" stroke-width="1.2"/><rect x="1359" y="191.5" width="56.5" height="28" rx="1.5" fill="#fff" stroke="#7c7c7c" stroke-width="1.8"/><path d="M1387.2 195.5L1387.2 219.5" fill="none" stroke="#808080" stroke-width="1.5"/><rect x="1362" y="192.5" width="50.5" height="3.2" fill="#808080" stroke="#7c7c7c" stroke-width="0.5"/><path d="M1390.2 195.7Q1400.6 196.5 1411 203Q1398.6 205 1396.2 198.5L1390.2 195.7Z" fill="#fff" stroke="#808080" stroke-width="0.9"/><path d="M1392.2 195.7Q1400.6 198 1411 203" fill="none" stroke="#808080" stroke-width="0.9"/><path d="M1384.2 195.7Q1373.9 196.5 1363.5 203Q1375.9 205 1378.2 198.5L1384.2 195.7Z" fill="#fff" stroke="#808080" stroke-width="0.9"/><path d="M1382.2 195.7Q1373.9 198 1363.5 203" fill="none" stroke="#808080" stroke-width="0.9"/><rect x="1357" y="183.5" width="60.5" height="9" rx="1.5" fill="#fff" stroke="#7c7c7c" stroke-width="1.8"/><rect x="1412.5" y="191" width="7.5" height="23.5" rx="1.5" fill="#fff" stroke="#7c7c7c" stroke-width="1.8"/><rect x="1354.5" y="191" width="7.5" height="23.5" rx="1.5" fill="#fff" stroke="#7c7c7c" stroke-width="1.8"/><rect x="1307" y="194" width="24" height="21.5" fill="#fff" stroke="#808080" stroke-width="2"/><rect x="1310" y="224" width="28.5" height="56.5" rx="1.5" fill="#fff" stroke="#7c7c7c" stroke-width="1.8"/><path d="M1314 252.2L1338.5 252.2" fill="none" stroke="#808080" stroke-width="1.5"/><rect x="1311" y="227" width="3.2" height="50.5" fill="#808080" stroke="#7c7c7c" stroke-width="0.5"/><path d="M1314.2 249.2Q1315 238.9 1321.5 228.5Q1323.5 240.9 1317 243.2L1314.2 249.2Z" fill="#fff" stroke="#808080" stroke-width="0.9"/><path d="M1314.2 247.2Q1316.5 238.9 1321.5 228.5" fill="none" stroke="#808080" stroke-width="0.9"/><path d="M1314.2 255.2Q1315 265.6 1321.5 276Q1323.5 263.6 1317 261.2L1314.2 255.2Z" fill="#fff" stroke="#808080" stroke-width="0.9"/><path d="M1314.2 257.2Q1316.5 265.6 1321.5 276" fill="none" stroke="#808080" stroke-width="0.9"/><rect x="1302" y="222" width="9" height="60.5" rx="1.5" fill="#fff" stroke="#7c7c7c" stroke-width="1.8"/><rect x="1309.5" y="219.5" width="24" height="7.5" rx="1.5" fill="#fff" stroke="#7c7c7c" stroke-width="1.8"/><rect x="1309.5" y="277.5" width="24" height="7.5" rx="1.5" fill="#fff" stroke="#7c7c7c" stroke-width="1.8"/><rect x="1361" y="232.5" width="53.5" height="34.5" fill="#fff" stroke="#808080" stroke-width="4"/><rect x="1365.5" y="237.5" width="44.5" height="24.5" fill="none" stroke="#808080" stroke-width="1"/><rect x="1375.2" y="241.2" width="25" height="17" fill="none" stroke="#808080" stroke-width="2"/><path d="M1394.2 244.2L1381.2 255.2" stroke="#00f0f0" stroke-width="1.6"/><path d="M1391 247.1L1384.5 252.4" stroke="#00f0f0" stroke-width="3.4"/><rect x="1397.5" y="312.8" width="17.5" height="10.9" fill="#fff" stroke="#808080" stroke-width="1.5"/><rect x="1347.7" y="314.8" width="24.9" height="8.9" fill="#fff" stroke="#808080" stroke-width="1.5"/><rect x="1353.8" y="317.3" width="55.2" height="6.4" fill="#fff" stroke="#808080" stroke-width="1.5"/><rect x="1361.2" y="320.5" width="40.4" height="3.2" fill="#808080" stroke="#808080" stroke-width="0.5"/><rect x="1446.6" y="436.5" width="18.2" height="15.2" rx="1.5" fill="#fff" stroke="#7a7a7a" stroke-width="2.4"/><path d="M1455.7 440.1L1455.7 453.1" fill="none" stroke="#808080" stroke-width="1.6" /><path d="M1458.2 443.1L1453.2 443.1" fill="none" stroke="#808080" stroke-width="1.4" /><rect x="1389.5" y="435" width="35.1" height="18.3" fill="#747474" stroke="#747474" stroke-width="0.5"/><path d="M1422.3 438.3L1391.8 438.3" fill="none" stroke="#e8e8e8" stroke-width="0.7" /><path d="M1422.3 450.9L1391.8 450.9" fill="none" stroke="#e8e8e8" stroke-width="0.7" /><rect x="1410.8" y="440.5" width="10" height="8.3" fill="#6a6a6a" stroke="#a8a8a8" stroke-width="0.7"/><rect x="1413.8" y="443" width="4" height="3.3" fill="#6a6a6a" stroke="#b8b8b8" stroke-width="0.6"/><rect x="1393.3" y="440.5" width="10" height="8.3" fill="#6a6a6a" stroke="#a8a8a8" stroke-width="0.7"/><rect x="1396.3" y="443" width="4" height="3.3" fill="#6a6a6a" stroke="#b8b8b8" stroke-width="0.6"/><rect x="1404.8" y="440.7" width="4.4" height="8.8" fill="#fff" stroke="#fff" stroke-width="0.5"/><rect x="1362.5" y="333.3" width="26.5" height="28.7" fill="#fff" stroke="#808080" stroke-width="1"/><rect x="1362.5" y="333.3" width="24" height="28.7" fill="none" stroke="#808080" stroke-width="1"/><path d="M1362.5 334.8L1359 338.3 1359 357 1362.5 360.5Z" fill="#808080" stroke="#808080" stroke-width="0.5" /><path d="M1862 159.7L1843.5 159.7C1833.5 159.7 1833.5 176.3 1843.5 176.3L1862 176.3Z" fill="#fff" stroke="#7a7a7a" stroke-width="2.7" /><ellipse cx="1845" cy="168" rx="6.6" ry="5.6" fill="#fff" stroke="#808080" stroke-width="1.6"/><rect x="1855" y="162.2" width="5.2" height="11.6" fill="#808080" stroke="#808080" stroke-width="0.5"/><rect x="1845" y="186" width="17" height="28" fill="none" stroke="#808080" stroke-width="1"/><rect x="1845" y="190" width="16.5" height="20" fill="#808080" stroke="#808080" stroke-width="0.5"/><rect x="1849" y="193.2" width="11.3" height="13.6" fill="#fff" stroke="#fff" stroke-width="0.5"/><circle cx="1853.2" cy="200" r="1.5" fill="#808080"/><circle cx="1859" cy="126" r="1.2" fill="#808080"/><circle cx="1855.5" cy="131" r="2" fill="#808080"/><circle cx="1859" cy="136" r="1.2" fill="#808080"/><path d="M1862 126L1858 126" stroke="#808080" stroke-width="1.2"/><path d="M1862 131L1858 131" stroke="#808080" stroke-width="1.2"/><path d="M1862 136L1858 136" stroke="#808080" stroke-width="1.2"/><rect x="1585.2" y="1042.5" width="48.3" height="73" fill="#fff" stroke="#808080" stroke-width="4.2"/><rect x="1592" y="1049" width="35" height="60" fill="none" stroke="#808080" stroke-width="1"/><rect x="1592" y="1052.5" width="31.5" height="53" fill="none" stroke="#808080" stroke-width="1"/><rect x="1670.3" y="1103.5" width="18.2" height="16.5" fill="#fff" stroke="#808080" stroke-width="1.2"/><rect x="1670.3" y="1003.5" width="18.2" height="24" fill="#fff" stroke="#808080" stroke-width="1.2"/><rect x="1596.5" y="1028.1" width="91.3" height="74.9" fill="#fff" stroke="#808080" stroke-width="1.9"/><rect x="1599.6" y="1031.2" width="85.2" height="68.7" fill="none" stroke="#808080" stroke-width="1.7"/><path d="M1627.5 1099.9C1640 1083.5 1638 1060.5 1644 1050.5C1647 1040.5 1649 1035.5 1652 1031.2" fill="none" stroke="#808080" stroke-width="1.2" /><path d="M1684.5 1096Q1677.5 1092.5 1670.5 1096Q1672.5 1082.8 1670.5 1069.5Q1677.5 1073 1684.5 1069.5Q1682.5 1082.8 1684.5 1096Z" fill="#fff" stroke="#7a7a7a" stroke-width="2.7" /><path d="M1680.5 1090L1674.5 1090 1674.5 1075.5 1680.5 1075.5Z" fill="#fff" stroke="#7a7a7a" stroke-width="1.7" /><path d="M1684.5 1062.5Q1677.5 1059 1670.5 1062.5Q1672.5 1049.2 1670.5 1036Q1677.5 1039.5 1684.5 1036Q1682.5 1049.2 1684.5 1062.5Z" fill="#fff" stroke="#7a7a7a" stroke-width="2.7" /><path d="M1680.5 1056.5L1674.5 1056.5 1674.5 1042 1680.5 1042Z" fill="#fff" stroke="#7a7a7a" stroke-width="1.7" /><path d="M1673 1094.5L1670 1096 1668 1094 1665 1095 1662.5 1092.5 1664 1089.5 1661.5 1087.5 1664 1083.5 1667.5 1081 1670.5 1083.5 1669 1087 1672.5 1089.5Z" fill="#808080" stroke="#808080" stroke-width="1" /><rect x="1625.2" y="1134.2" width="63.5" height="24.6" fill="#808080" stroke="#808080" stroke-width="0.5"/><path d="M1685.2 1155.8L1685.2 1148M1682.2 1155.8L1682.2 1148M1679.2 1155.8L1679.2 1148M1676.2 1155.8L1676.2 1148M1673.2 1155.8L1673.2 1148M1670.2 1155.8L1670.2 1148M1667.2 1155.8L1667.2 1148M1664.2 1155.8L1664.2 1148M1661.2 1155.8L1661.2 1148M1658.2 1155.8L1658.2 1148M1655.2 1155.8L1655.2 1148M1652.2 1155.8L1652.2 1148M1649.2 1155.8L1649.2 1148M1646.2 1155.8L1646.2 1148M1643.2 1155.8L1643.2 1148M1640.2 1155.8L1640.2 1148M1637.2 1155.8L1637.2 1148M1634.2 1155.8L1634.2 1148M1631.2 1155.8L1631.2 1148M1628.2 1155.8L1628.2 1148" stroke="#fff" stroke-width="1.3"/><path d="M1685.2 1145L1685.2 1137.2M1682.2 1145L1682.2 1137.2M1679.2 1145L1679.2 1137.2M1676.2 1145L1676.2 1137.2M1673.2 1145L1673.2 1137.2M1670.2 1145L1670.2 1137.2M1667.2 1145L1667.2 1137.2M1664.2 1145L1664.2 1137.2M1661.2 1145L1661.2 1137.2M1658.2 1145L1658.2 1137.2M1655.2 1145L1655.2 1137.2M1652.2 1145L1652.2 1137.2M1649.2 1145L1649.2 1137.2M1646.2 1145L1646.2 1137.2M1643.2 1145L1643.2 1137.2M1640.2 1145L1640.2 1137.2M1637.2 1145L1637.2 1137.2M1634.2 1145L1634.2 1137.2M1631.2 1145L1631.2 1137.2M1628.2 1145L1628.2 1137.2" stroke="#fff" stroke-width="1.3"/><rect x="1669" y="875.2" width="48.3" height="73" fill="#fff" stroke="#808080" stroke-width="4.2"/><rect x="1675.5" y="881.7" width="35" height="60" fill="none" stroke="#808080" stroke-width="1"/><rect x="1679" y="885.2" width="31.5" height="53" fill="none" stroke="#808080" stroke-width="1"/><rect x="1614" y="936.2" width="18.2" height="16.5" fill="#fff" stroke="#808080" stroke-width="1.2"/><rect x="1614" y="836.2" width="18.2" height="24" fill="#fff" stroke="#808080" stroke-width="1.2"/><rect x="1614.7" y="860.8" width="91.3" height="74.9" fill="#fff" stroke="#808080" stroke-width="1.9"/><rect x="1617.7" y="863.9" width="85.2" height="68.7" fill="none" stroke="#808080" stroke-width="1.7"/><path d="M1675 863.9C1662.5 880.3 1664.5 903.3 1658.5 913.3C1655.5 923.3 1653.5 928.3 1650.5 932.6" fill="none" stroke="#808080" stroke-width="1.2" /><path d="M1618 867.8Q1625 871.3 1632 867.8Q1630 881.1 1632 894.3Q1625 890.8 1618 894.3Q1620 881.1 1618 867.8Z" fill="#fff" stroke="#7a7a7a" stroke-width="2.7" /><path d="M1622 873.8L1628 873.8 1628 888.3 1622 888.3Z" fill="#fff" stroke="#7a7a7a" stroke-width="1.7" /><path d="M1618 901.3Q1625 904.8 1632 901.3Q1630 914.6 1632 927.8Q1625 924.3 1618 927.8Q1620 914.6 1618 901.3Z" fill="#fff" stroke="#7a7a7a" stroke-width="2.7" /><path d="M1622 907.3L1628 907.3 1628 921.8 1622 921.8Z" fill="#fff" stroke="#7a7a7a" stroke-width="1.7" /><path d="M1629.5 869.3L1632.5 867.8 1634.5 869.8 1637.5 868.8 1640 871.3 1638.5 874.3 1641 876.3 1638.5 880.3 1635 882.8 1632 880.3 1633.5 876.8 1630 874.3Z" fill="#808080" stroke="#808080" stroke-width="1" /><rect x="1775" y="834.7" width="23.5" height="62.8" fill="#808080" stroke="#808080" stroke-width="0.5"/><path d="M1795 893L1788.2 893M1795 889.3L1788.2 889.3M1795 885.6L1788.2 885.6M1795 881.9L1788.2 881.9M1795 878.2L1788.2 878.2M1795 874.5L1788.2 874.5M1795 870.8L1788.2 870.8M1795 867.1L1788.2 867.1M1795 863.4L1788.2 863.4M1795 859.7L1788.2 859.7M1795 856L1788.2 856M1795 852.3L1788.2 852.3M1795 848.6L1788.2 848.6M1795 844.9L1788.2 844.9M1795 841.2L1788.2 841.2M1795 837.5L1788.2 837.5" stroke="#fff" stroke-width="1.5"/><path d="M1785.2 893L1778.5 893M1785.2 889.3L1778.5 889.3M1785.2 885.6L1778.5 885.6M1785.2 881.9L1778.5 881.9M1785.2 878.2L1778.5 878.2M1785.2 874.5L1778.5 874.5M1785.2 870.8L1778.5 870.8M1785.2 867.1L1778.5 867.1M1785.2 863.4L1778.5 863.4M1785.2 859.7L1778.5 859.7M1785.2 856L1778.5 856M1785.2 852.3L1778.5 852.3M1785.2 848.6L1778.5 848.6M1785.2 844.9L1778.5 844.9M1785.2 841.2L1778.5 841.2M1785.2 837.5L1778.5 837.5" stroke="#fff" stroke-width="1.5"/><rect x="1502.3" y="881.9" width="37.7" height="55" fill="#fff" stroke="#808080" stroke-width="1"/><path d="M1530.5 934.5L1531.5 952.5 1511.2 952.5 1512.2 934.5" fill="#fff" stroke="#808080" stroke-width="1.6" /><path d="M1532.7 952.3Q1521.4 955.8 1510 952.3" fill="none" stroke="#787878" stroke-width="3.6" /><path d="M1530.5 884.5L1531.5 866.5 1511.2 866.5 1512.2 884.5" fill="#fff" stroke="#808080" stroke-width="1.6" /><path d="M1532.7 866.7Q1521.4 863.2 1510 866.7" fill="none" stroke="#787878" stroke-width="3.6" /><path d="M1505 931.2L1487.5 932 1487.5 913 1505 913.8" fill="#fff" stroke="#808080" stroke-width="1.6" /><path d="M1486.2 933.2Q1482.7 922.5 1486.2 911.8" fill="none" stroke="#787878" stroke-width="3.6" /><path d="M1505 906.7L1487.5 907.5 1487.5 887.5 1505 888.3" fill="#fff" stroke="#808080" stroke-width="1.6" /><path d="M1486.2 908.7Q1482.7 897.5 1486.2 886.3" fill="none" stroke="#787878" stroke-width="3.6" /><rect x="1507" y="885.9" width="28.8" height="47" fill="#fff" stroke="#808080" stroke-width="2.4"/><rect x="1583" y="940.2" width="21" height="13.5" fill="#808080" stroke="#808080" stroke-width="0.5"/><rect x="1586.2" y="944.2" width="14.6" height="8.3" fill="#fff" stroke="#fff" stroke-width="0.5"/><circle cx="1593.5" cy="947" r="1.5" fill="#808080"/><path d="M1604 908.8L1585.5 908.8C1575.5 908.8 1575.5 892.2 1585.5 892.2L1604 892.2Z" fill="#fff" stroke="#7a7a7a" stroke-width="2.7" /><ellipse cx="1587" cy="900.5" rx="6.6" ry="5.6" fill="#fff" stroke="#808080" stroke-width="1.6"/><rect x="1597" y="894.7" width="5.2" height="11.6" fill="#808080" stroke="#808080" stroke-width="0.5"/><circle cx="1602" cy="876" r="1.2" fill="#808080"/><circle cx="1598.5" cy="871" r="2" fill="#808080"/><circle cx="1602" cy="866" r="1.2" fill="#808080"/><path d="M1605 876L1601 876" stroke="#808080" stroke-width="1.2"/><path d="M1605 871L1601 871" stroke="#808080" stroke-width="1.2"/><path d="M1605 866L1601 866" stroke="#808080" stroke-width="1.2"/><rect x="1359" y="959" width="56.5" height="28" rx="1.5" fill="#fff" stroke="#7c7c7c" stroke-width="1.8"/><path d="M1387.2 983L1387.2 959" fill="none" stroke="#808080" stroke-width="1.5"/><rect x="1362" y="982.8" width="50.5" height="3.2" fill="#808080" stroke="#7c7c7c" stroke-width="0.5"/><path d="M1390.2 982.8Q1400.6 982 1411 975.5Q1398.6 973.5 1396.2 980L1390.2 982.8Z" fill="#fff" stroke="#808080" stroke-width="0.9"/><path d="M1392.2 982.8Q1400.6 980.5 1411 975.5" fill="none" stroke="#808080" stroke-width="0.9"/><path d="M1384.2 982.8Q1373.9 982 1363.5 975.5Q1375.9 973.5 1378.2 980L1384.2 982.8Z" fill="#fff" stroke="#808080" stroke-width="0.9"/><path d="M1382.2 982.8Q1373.9 980.5 1363.5 975.5" fill="none" stroke="#808080" stroke-width="0.9"/><rect x="1357" y="986" width="60.5" height="9" rx="1.5" fill="#fff" stroke="#7c7c7c" stroke-width="1.8"/><rect x="1412.5" y="964" width="7.5" height="23.5" rx="1.5" fill="#fff" stroke="#7c7c7c" stroke-width="1.8"/><rect x="1354.5" y="964" width="7.5" height="23.5" rx="1.5" fill="#fff" stroke="#7c7c7c" stroke-width="1.8"/><rect x="1307" y="963" width="24" height="21.5" fill="#fff" stroke="#808080" stroke-width="2"/><rect x="1310" y="898" width="28.5" height="56.5" rx="1.5" fill="#fff" stroke="#7c7c7c" stroke-width="1.8"/><path d="M1314 926.2L1338.5 926.2" fill="none" stroke="#808080" stroke-width="1.5"/><rect x="1311" y="901" width="3.2" height="50.5" fill="#808080" stroke="#7c7c7c" stroke-width="0.5"/><path d="M1314.2 929.2Q1315 939.6 1321.5 950Q1323.5 937.6 1317 935.2L1314.2 929.2Z" fill="#fff" stroke="#808080" stroke-width="0.9"/><path d="M1314.2 931.2Q1316.5 939.6 1321.5 950" fill="none" stroke="#808080" stroke-width="0.9"/><path d="M1314.2 923.2Q1315 912.9 1321.5 902.5Q1323.5 914.9 1317 917.2L1314.2 923.2Z" fill="#fff" stroke="#808080" stroke-width="0.9"/><path d="M1314.2 921.2Q1316.5 912.9 1321.5 902.5" fill="none" stroke="#808080" stroke-width="0.9"/><rect x="1302" y="896" width="9" height="60.5" rx="1.5" fill="#fff" stroke="#7c7c7c" stroke-width="1.8"/><rect x="1309.5" y="951.5" width="24" height="7.5" rx="1.5" fill="#fff" stroke="#7c7c7c" stroke-width="1.8"/><rect x="1309.5" y="893.5" width="24" height="7.5" rx="1.5" fill="#fff" stroke="#7c7c7c" stroke-width="1.8"/><rect x="1361" y="911.5" width="53.5" height="34.5" fill="#fff" stroke="#808080" stroke-width="4"/><rect x="1365.5" y="916.5" width="44.5" height="24.5" fill="none" stroke="#808080" stroke-width="1"/><rect x="1375.2" y="920.2" width="25" height="17" fill="none" stroke="#808080" stroke-width="2"/><path d="M1394.2 934.2L1381.2 923.2" stroke="#00f0f0" stroke-width="1.6"/><path d="M1391 931.5L1384.5 926" stroke="#00f0f0" stroke-width="3.4"/><rect x="1397.5" y="854.8" width="17.5" height="10.9" fill="#fff" stroke="#808080" stroke-width="1.5"/><rect x="1347.7" y="854.8" width="24.9" height="8.9" fill="#fff" stroke="#808080" stroke-width="1.5"/><rect x="1353.8" y="854.8" width="55.2" height="6.4" fill="#fff" stroke="#808080" stroke-width="1.5"/><rect x="1361.2" y="854.8" width="40.4" height="3.2" fill="#808080" stroke="#808080" stroke-width="0.5"/><rect x="1446.6" y="726.8" width="18.2" height="15.2" rx="1.5" fill="#fff" stroke="#7a7a7a" stroke-width="2.4"/><path d="M1455.7 738.4L1455.7 725.4" fill="none" stroke="#808080" stroke-width="1.6" /><path d="M1458.2 735.4L1453.2 735.4" fill="none" stroke="#808080" stroke-width="1.4" /><rect x="1389.5" y="725.2" width="35.1" height="18.3" fill="#747474" stroke="#747474" stroke-width="0.5"/><path d="M1422.3 740.2L1391.8 740.2" fill="none" stroke="#e8e8e8" stroke-width="0.7" /><path d="M1422.3 727.6L1391.8 727.6" fill="none" stroke="#e8e8e8" stroke-width="0.7" /><rect x="1410.8" y="729.7" width="10" height="8.3" fill="#6a6a6a" stroke="#a8a8a8" stroke-width="0.7"/><rect x="1413.8" y="732.2" width="4" height="3.3" fill="#6a6a6a" stroke="#b8b8b8" stroke-width="0.6"/><rect x="1393.3" y="729.7" width="10" height="8.3" fill="#6a6a6a" stroke="#a8a8a8" stroke-width="0.7"/><rect x="1396.3" y="732.2" width="4" height="3.3" fill="#6a6a6a" stroke="#b8b8b8" stroke-width="0.6"/><rect x="1404.8" y="729" width="4.4" height="8.8" fill="#fff" stroke="#fff" stroke-width="0.5"/><rect x="1362.5" y="816.5" width="26.5" height="28.7" fill="#fff" stroke="#808080" stroke-width="1"/><rect x="1362.5" y="816.5" width="24" height="28.7" fill="none" stroke="#808080" stroke-width="1"/><path d="M1362.5 843.7L1359 840.2 1359 821.5 1362.5 818Z" fill="#808080" stroke="#808080" stroke-width="0.5" /><path d="M1862 1018.8L1843.5 1018.8C1833.5 1018.8 1833.5 1002.2 1843.5 1002.2L1862 1002.2Z" fill="#fff" stroke="#7a7a7a" stroke-width="2.7" /><ellipse cx="1845" cy="1010.5" rx="6.6" ry="5.6" fill="#fff" stroke="#808080" stroke-width="1.6"/><rect x="1855" y="1004.7" width="5.2" height="11.6" fill="#808080" stroke="#808080" stroke-width="0.5"/><rect x="1845" y="964.5" width="17" height="28" fill="none" stroke="#808080" stroke-width="1"/><rect x="1845" y="968.5" width="16.5" height="20" fill="#808080" stroke="#808080" stroke-width="0.5"/><rect x="1849" y="971.7" width="11.3" height="13.6" fill="#fff" stroke="#fff" stroke-width="0.5"/><circle cx="1853.2" cy="978.5" r="1.5" fill="#808080"/><circle cx="1859" cy="1052.5" r="1.2" fill="#808080"/><circle cx="1855.5" cy="1047.5" r="2" fill="#808080"/><circle cx="1859" cy="1042.5" r="1.2" fill="#808080"/><path d="M1862 1052.5L1858 1052.5" stroke="#808080" stroke-width="1.2"/><path d="M1862 1047.5L1858 1047.5" stroke="#808080" stroke-width="1.2"/><path d="M1862 1042.5L1858 1042.5" stroke="#808080" stroke-width="1.2"/><rect x="838.2" y="63" width="48.3" height="73" fill="#fff" stroke="#808080" stroke-width="4.2"/><rect x="845" y="69.5" width="35" height="60" fill="none" stroke="#808080" stroke-width="1"/><rect x="845" y="73" width="31.5" height="53" fill="none" stroke="#808080" stroke-width="1"/><rect x="923.3" y="58.5" width="18.2" height="16.5" fill="#fff" stroke="#808080" stroke-width="1.2"/><rect x="923.3" y="151" width="18.2" height="24" fill="#fff" stroke="#808080" stroke-width="1.2"/><rect x="849.5" y="75.5" width="91.3" height="74.9" fill="#fff" stroke="#808080" stroke-width="1.9"/><rect x="852.6" y="78.6" width="85.2" height="68.7" fill="none" stroke="#808080" stroke-width="1.7"/><path d="M880.5 78.6C893 95 891 118 897 128C900 138 902 143 905 147.3" fill="none" stroke="#808080" stroke-width="1.2" /><path d="M937.5 82.5Q930.5 86 923.5 82.5Q925.5 95.8 923.5 109Q930.5 105.5 937.5 109Q935.5 95.8 937.5 82.5Z" fill="#fff" stroke="#7a7a7a" stroke-width="2.7" /><path d="M933.5 88.5L927.5 88.5 927.5 103 933.5 103Z" fill="#fff" stroke="#7a7a7a" stroke-width="1.7" /><path d="M937.5 116Q930.5 119.5 923.5 116Q925.5 129.2 923.5 142.5Q930.5 139 937.5 142.5Q935.5 129.2 937.5 116Z" fill="#fff" stroke="#7a7a7a" stroke-width="2.7" /><path d="M933.5 122L927.5 122 927.5 136.5 933.5 136.5Z" fill="#fff" stroke="#7a7a7a" stroke-width="1.7" /><path d="M926 84L923 82.5 921 84.5 918 83.5 915.5 86 917 89 914.5 91 917 95 920.5 97.5 923.5 95 922 91.5 925.5 89Z" fill="#808080" stroke="#808080" stroke-width="1" /><rect x="877.7" y="19.7" width="63" height="24.6" fill="#808080" stroke="#808080" stroke-width="0.5"/><path d="M881.2 22.7L881.2 30.5M884.2 22.7L884.2 30.5M887.2 22.7L887.2 30.5M890.2 22.7L890.2 30.5M893.2 22.7L893.2 30.5M896.2 22.7L896.2 30.5M899.2 22.7L899.2 30.5M902.2 22.7L902.2 30.5M905.2 22.7L905.2 30.5M908.2 22.7L908.2 30.5M911.2 22.7L911.2 30.5M914.2 22.7L914.2 30.5M917.2 22.7L917.2 30.5M920.2 22.7L920.2 30.5M923.2 22.7L923.2 30.5M926.2 22.7L926.2 30.5M929.2 22.7L929.2 30.5M932.2 22.7L932.2 30.5M935.2 22.7L935.2 30.5M938.2 22.7L938.2 30.5" stroke="#fff" stroke-width="1.3"/><path d="M881.2 33.5L881.2 41.3M884.2 33.5L884.2 41.3M887.2 33.5L887.2 41.3M890.2 33.5L890.2 41.3M893.2 33.5L893.2 41.3M896.2 33.5L896.2 41.3M899.2 33.5L899.2 41.3M902.2 33.5L902.2 41.3M905.2 33.5L905.2 41.3M908.2 33.5L908.2 41.3M911.2 33.5L911.2 41.3M914.2 33.5L914.2 41.3M917.2 33.5L917.2 41.3M920.2 33.5L920.2 41.3M923.2 33.5L923.2 41.3M926.2 33.5L926.2 41.3M929.2 33.5L929.2 41.3M932.2 33.5L932.2 41.3M935.2 33.5L935.2 41.3M938.2 33.5L938.2 41.3" stroke="#fff" stroke-width="1.3"/><rect x="635.7" y="191.6" width="56.2" height="28" rx="1.5" fill="#fff" stroke="#7c7c7c" stroke-width="1.8"/><path d="M663.8 195.6L663.8 219.6" fill="none" stroke="#808080" stroke-width="1.5"/><rect x="638.7" y="192.6" width="50.2" height="3.2" fill="#808080" stroke="#7c7c7c" stroke-width="0.5"/><path d="M660.8 195.8Q650.5 196.6 640.2 203.1Q652.5 205.1 654.8 198.6L660.8 195.8Z" fill="#fff" stroke="#808080" stroke-width="0.9"/><path d="M658.8 195.8Q650.5 198.1 640.2 203.1" fill="none" stroke="#808080" stroke-width="0.9"/><path d="M666.8 195.8Q677.1 196.6 687.4 203.1Q675.1 205.1 672.8 198.6L666.8 195.8Z" fill="#fff" stroke="#808080" stroke-width="0.9"/><path d="M668.8 195.8Q677.1 198.1 687.4 203.1" fill="none" stroke="#808080" stroke-width="0.9"/><rect x="633.7" y="183.6" width="60.2" height="9" rx="1.5" fill="#fff" stroke="#7c7c7c" stroke-width="1.8"/><rect x="631.2" y="191.1" width="7.5" height="23.5" rx="1.5" fill="#fff" stroke="#7c7c7c" stroke-width="1.8"/><rect x="688.9" y="191.1" width="7.5" height="23.5" rx="1.5" fill="#fff" stroke="#7c7c7c" stroke-width="1.8"/><rect x="710" y="191.7" width="23" height="20.7" fill="#fff" stroke="#808080" stroke-width="2"/><rect x="709.4" y="223.5" width="28" height="56.3" rx="1.5" fill="#fff" stroke="#7c7c7c" stroke-width="1.8"/><path d="M733.4 251.7L709.4 251.7" fill="none" stroke="#808080" stroke-width="1.5"/><rect x="733.2" y="226.5" width="3.2" height="50.3" fill="#808080" stroke="#7c7c7c" stroke-width="0.5"/><path d="M733.2 248.7Q732.4 238.3 725.9 228Q723.9 240.3 730.4 242.7L733.2 248.7Z" fill="#fff" stroke="#808080" stroke-width="0.9"/><path d="M733.2 246.7Q730.9 238.3 725.9 228" fill="none" stroke="#808080" stroke-width="0.9"/><path d="M733.2 254.7Q732.4 265 725.9 275.3Q723.9 263 730.4 260.6L733.2 254.7Z" fill="#fff" stroke="#808080" stroke-width="0.9"/><path d="M733.2 256.6Q730.9 265 725.9 275.3" fill="none" stroke="#808080" stroke-width="0.9"/><rect x="736.4" y="221.5" width="9" height="60.3" rx="1.5" fill="#fff" stroke="#7c7c7c" stroke-width="1.8"/><rect x="714.4" y="219" width="23.5" height="7.5" rx="1.5" fill="#fff" stroke="#7c7c7c" stroke-width="1.8"/><rect x="714.4" y="276.8" width="23.5" height="7.5" rx="1.5" fill="#fff" stroke="#7c7c7c" stroke-width="1.8"/><rect x="637" y="234.5" width="52.7" height="34.2" fill="#fff" stroke="#808080" stroke-width="4"/><rect x="641.5" y="239.5" width="43.7" height="24.2" fill="none" stroke="#808080" stroke-width="1"/><rect x="650.9" y="243.1" width="25" height="17" fill="none" stroke="#808080" stroke-width="2"/><path d="M656.9 246.1L669.9 257.1" stroke="#00f0f0" stroke-width="1.6"/><path d="M660.1 248.9L666.6 254.3" stroke="#00f0f0" stroke-width="3.4"/><rect x="596" y="213.4" width="8.7" height="24.9" fill="#fff" stroke="#808080" stroke-width="1.5"/><rect x="596" y="263.1" width="10.7" height="17.5" fill="#fff" stroke="#808080" stroke-width="1.5"/><rect x="596" y="219.4" width="6.2" height="55.1" fill="#fff" stroke="#808080" stroke-width="1.5"/><rect x="596" y="226.8" width="3.2" height="40.3" fill="#808080" stroke="#808080" stroke-width="0.5"/><rect x="800" y="233" width="15.5" height="26.5" fill="#808080" stroke="#808080" stroke-width="0.5"/><rect x="801.2" y="236.2" width="10.3" height="20.1" fill="#fff" stroke="#fff" stroke-width="0.5"/><circle cx="807.8" cy="246.2" r="1.5" fill="#808080"/><circle cx="892.5" cy="187" r="1.2" fill="#808080"/><circle cx="897" cy="190" r="2" fill="#808080"/><circle cx="901.5" cy="187" r="1.2" fill="#808080"/><rect x="738" y="364" width="18.3" height="35.5" fill="#747474" stroke="#747474" stroke-width="0.5"/><path d="M741.3 366.3L741.3 397.2" fill="none" stroke="#e8e8e8" stroke-width="0.7" /><path d="M753.9 366.3L753.9 397.2" fill="none" stroke="#e8e8e8" stroke-width="0.7" /><rect x="743.5" y="367.9" width="8.3" height="10" fill="#6a6a6a" stroke="#a8a8a8" stroke-width="0.7"/><rect x="746" y="370.9" width="3.3" height="4" fill="#6a6a6a" stroke="#b8b8b8" stroke-width="0.6"/><rect x="743.5" y="385.6" width="8.3" height="10" fill="#6a6a6a" stroke="#a8a8a8" stroke-width="0.7"/><rect x="746" y="388.6" width="3.3" height="4" fill="#6a6a6a" stroke="#b8b8b8" stroke-width="0.6"/><rect x="743.7" y="379.6" width="8.8" height="4.4" fill="#fff" stroke="#fff" stroke-width="0.5"/><rect x="740.7" y="423.2" width="15.8" height="16.9" rx="1.5" fill="#fff" stroke="#7a7a7a" stroke-width="2.4"/><path d="M752.6 431.6L739.6 431.6" fill="none" stroke="#808080" stroke-width="1.6" /><path d="M749.6 429.1L749.6 434.1" fill="none" stroke="#808080" stroke-width="1.4" /><rect x="654.5" y="334" width="27" height="30" fill="#fff" stroke="#808080" stroke-width="1"/><rect x="654.5" y="334" width="24.5" height="30" fill="none" stroke="#808080" stroke-width="1"/><path d="M654.5 335.5L651 339 651 359 654.5 362.5Z" fill="#808080" stroke="#808080" stroke-width="0.5" /><rect x="1003.5" y="63" width="48.3" height="73" fill="#fff" stroke="#808080" stroke-width="4.2"/><rect x="1010" y="69.5" width="35" height="60" fill="none" stroke="#808080" stroke-width="1"/><rect x="1013.5" y="73" width="31.5" height="53" fill="none" stroke="#808080" stroke-width="1"/><rect x="948.5" y="58.5" width="18.2" height="16.5" fill="#fff" stroke="#808080" stroke-width="1.2"/><rect x="948.5" y="151" width="18.2" height="24" fill="#fff" stroke="#808080" stroke-width="1.2"/><rect x="949.2" y="75.5" width="91.3" height="74.9" fill="#fff" stroke="#808080" stroke-width="1.9"/><rect x="952.2" y="78.6" width="85.2" height="68.7" fill="none" stroke="#808080" stroke-width="1.7"/><path d="M1009.5 78.6C997 95 999 118 993 128C990 138 988 143 985 147.3" fill="none" stroke="#808080" stroke-width="1.2" /><path d="M952.5 82.5Q959.5 86 966.5 82.5Q964.5 95.8 966.5 109Q959.5 105.5 952.5 109Q954.5 95.8 952.5 82.5Z" fill="#fff" stroke="#7a7a7a" stroke-width="2.7" /><path d="M956.5 88.5L962.5 88.5 962.5 103 956.5 103Z" fill="#fff" stroke="#7a7a7a" stroke-width="1.7" /><path d="M952.5 116Q959.5 119.5 966.5 116Q964.5 129.2 966.5 142.5Q959.5 139 952.5 142.5Q954.5 129.2 952.5 116Z" fill="#fff" stroke="#7a7a7a" stroke-width="2.7" /><path d="M956.5 122L962.5 122 962.5 136.5 956.5 136.5Z" fill="#fff" stroke="#7a7a7a" stroke-width="1.7" /><path d="M964 84L967 82.5 969 84.5 972 83.5 974.5 86 973 89 975.5 91 973 95 969.5 97.5 966.5 95 968 91.5 964.5 89Z" fill="#808080" stroke="#808080" stroke-width="1" /><rect x="949.3" y="19.7" width="63" height="24.6" fill="#808080" stroke="#808080" stroke-width="0.5"/><path d="M1008.8 22.7L1008.8 30.5M1005.8 22.7L1005.8 30.5M1002.8 22.7L1002.8 30.5M999.8 22.7L999.8 30.5M996.8 22.7L996.8 30.5M993.8 22.7L993.8 30.5M990.8 22.7L990.8 30.5M987.8 22.7L987.8 30.5M984.8 22.7L984.8 30.5M981.8 22.7L981.8 30.5M978.8 22.7L978.8 30.5M975.8 22.7L975.8 30.5M972.8 22.7L972.8 30.5M969.8 22.7L969.8 30.5M966.8 22.7L966.8 30.5M963.8 22.7L963.8 30.5M960.8 22.7L960.8 30.5M957.8 22.7L957.8 30.5M954.8 22.7L954.8 30.5M951.8 22.7L951.8 30.5" stroke="#fff" stroke-width="1.3"/><path d="M1008.8 33.5L1008.8 41.3M1005.8 33.5L1005.8 41.3M1002.8 33.5L1002.8 41.3M999.8 33.5L999.8 41.3M996.8 33.5L996.8 41.3M993.8 33.5L993.8 41.3M990.8 33.5L990.8 41.3M987.8 33.5L987.8 41.3M984.8 33.5L984.8 41.3M981.8 33.5L981.8 41.3M978.8 33.5L978.8 41.3M975.8 33.5L975.8 41.3M972.8 33.5L972.8 41.3M969.8 33.5L969.8 41.3M966.8 33.5L966.8 41.3M963.8 33.5L963.8 41.3M960.8 33.5L960.8 41.3M957.8 33.5L957.8 41.3M954.8 33.5L954.8 41.3M951.8 33.5L951.8 41.3" stroke="#fff" stroke-width="1.3"/><rect x="1198.1" y="191.6" width="56.2" height="28" rx="1.5" fill="#fff" stroke="#7c7c7c" stroke-width="1.8"/><path d="M1226.2 195.6L1226.2 219.6" fill="none" stroke="#808080" stroke-width="1.5"/><rect x="1201.1" y="192.6" width="50.2" height="3.2" fill="#808080" stroke="#7c7c7c" stroke-width="0.5"/><path d="M1229.2 195.8Q1239.5 196.6 1249.8 203.1Q1237.5 205.1 1235.2 198.6L1229.2 195.8Z" fill="#fff" stroke="#808080" stroke-width="0.9"/><path d="M1231.2 195.8Q1239.5 198.1 1249.8 203.1" fill="none" stroke="#808080" stroke-width="0.9"/><path d="M1223.2 195.8Q1212.9 196.6 1202.6 203.1Q1214.9 205.1 1217.2 198.6L1223.2 195.8Z" fill="#fff" stroke="#808080" stroke-width="0.9"/><path d="M1221.2 195.8Q1212.9 198.1 1202.6 203.1" fill="none" stroke="#808080" stroke-width="0.9"/><rect x="1196.1" y="183.6" width="60.2" height="9" rx="1.5" fill="#fff" stroke="#7c7c7c" stroke-width="1.8"/><rect x="1251.3" y="191.1" width="7.5" height="23.5" rx="1.5" fill="#fff" stroke="#7c7c7c" stroke-width="1.8"/><rect x="1193.6" y="191.1" width="7.5" height="23.5" rx="1.5" fill="#fff" stroke="#7c7c7c" stroke-width="1.8"/><rect x="1157" y="191.7" width="23" height="20.7" fill="#fff" stroke="#808080" stroke-width="2"/><rect x="1152.6" y="223.5" width="28" height="56.3" rx="1.5" fill="#fff" stroke="#7c7c7c" stroke-width="1.8"/><path d="M1156.6 251.7L1180.6 251.7" fill="none" stroke="#808080" stroke-width="1.5"/><rect x="1153.6" y="226.5" width="3.2" height="50.3" fill="#808080" stroke="#7c7c7c" stroke-width="0.5"/><path d="M1156.8 248.7Q1157.6 238.3 1164.1 228Q1166.1 240.3 1159.6 242.7L1156.8 248.7Z" fill="#fff" stroke="#808080" stroke-width="0.9"/><path d="M1156.8 246.7Q1159.1 238.3 1164.1 228" fill="none" stroke="#808080" stroke-width="0.9"/><path d="M1156.8 254.7Q1157.6 265 1164.1 275.3Q1166.1 263 1159.6 260.6L1156.8 254.7Z" fill="#fff" stroke="#808080" stroke-width="0.9"/><path d="M1156.8 256.6Q1159.1 265 1164.1 275.3" fill="none" stroke="#808080" stroke-width="0.9"/><rect x="1144.6" y="221.5" width="9" height="60.3" rx="1.5" fill="#fff" stroke="#7c7c7c" stroke-width="1.8"/><rect x="1152.1" y="219" width="23.5" height="7.5" rx="1.5" fill="#fff" stroke="#7c7c7c" stroke-width="1.8"/><rect x="1152.1" y="276.8" width="23.5" height="7.5" rx="1.5" fill="#fff" stroke="#7c7c7c" stroke-width="1.8"/><rect x="1200.3" y="234.5" width="52.7" height="34.2" fill="#fff" stroke="#808080" stroke-width="4"/><rect x="1204.8" y="239.5" width="43.7" height="24.2" fill="none" stroke="#808080" stroke-width="1"/><rect x="1214.2" y="243.1" width="25" height="17" fill="none" stroke="#808080" stroke-width="2"/><path d="M1233.2 246.1L1220.2 257.1" stroke="#00f0f0" stroke-width="1.6"/><path d="M1229.8 248.9L1223.4 254.3" stroke="#00f0f0" stroke-width="3.4"/><rect x="1285.3" y="213.4" width="8.7" height="24.9" fill="#fff" stroke="#808080" stroke-width="1.5"/><rect x="1283.3" y="263.1" width="10.7" height="17.5" fill="#fff" stroke="#808080" stroke-width="1.5"/><rect x="1287.8" y="219.4" width="6.2" height="55.1" fill="#fff" stroke="#808080" stroke-width="1.5"/><rect x="1290.8" y="226.8" width="3.2" height="40.3" fill="#808080" stroke="#808080" stroke-width="0.5"/><rect x="1074.5" y="233" width="15.5" height="26.5" fill="#808080" stroke="#808080" stroke-width="0.5"/><rect x="1078.5" y="236.2" width="10.3" height="20.1" fill="#fff" stroke="#fff" stroke-width="0.5"/><circle cx="1082.2" cy="246.2" r="1.5" fill="#808080"/><circle cx="997.5" cy="187" r="1.2" fill="#808080"/><circle cx="993" cy="190" r="2" fill="#808080"/><circle cx="988.5" cy="187" r="1.2" fill="#808080"/><rect x="1133.7" y="364" width="18.3" height="35.5" fill="#747474" stroke="#747474" stroke-width="0.5"/><path d="M1148.7 366.3L1148.7 397.2" fill="none" stroke="#e8e8e8" stroke-width="0.7" /><path d="M1136.1 366.3L1136.1 397.2" fill="none" stroke="#e8e8e8" stroke-width="0.7" /><rect x="1138.2" y="367.9" width="8.3" height="10" fill="#6a6a6a" stroke="#a8a8a8" stroke-width="0.7"/><rect x="1140.7" y="370.9" width="3.3" height="4" fill="#6a6a6a" stroke="#b8b8b8" stroke-width="0.6"/><rect x="1138.2" y="385.6" width="8.3" height="10" fill="#6a6a6a" stroke="#a8a8a8" stroke-width="0.7"/><rect x="1140.7" y="388.6" width="3.3" height="4" fill="#6a6a6a" stroke="#b8b8b8" stroke-width="0.6"/><rect x="1137.5" y="379.6" width="8.8" height="4.4" fill="#fff" stroke="#fff" stroke-width="0.5"/><rect x="1133.5" y="423.2" width="15.8" height="16.9" rx="1.5" fill="#fff" stroke="#7a7a7a" stroke-width="2.4"/><path d="M1137.4 431.6L1150.4 431.6" fill="none" stroke="#808080" stroke-width="1.6" /><path d="M1140.4 429.1L1140.4 434.1" fill="none" stroke="#808080" stroke-width="1.4" /><rect x="1208.5" y="334" width="27" height="30" fill="#fff" stroke="#808080" stroke-width="1"/><rect x="1211" y="334" width="24.5" height="30" fill="none" stroke="#808080" stroke-width="1"/><path d="M1235.5 335.5L1239 339 1239 359 1235.5 362.5Z" fill="#808080" stroke="#808080" stroke-width="0.5" /><rect x="838.2" y="1042.5" width="48.3" height="73" fill="#fff" stroke="#808080" stroke-width="4.2"/><rect x="845" y="1049" width="35" height="60" fill="none" stroke="#808080" stroke-width="1"/><rect x="845" y="1052.5" width="31.5" height="53" fill="none" stroke="#808080" stroke-width="1"/><rect x="923.3" y="1103.5" width="18.2" height="16.5" fill="#fff" stroke="#808080" stroke-width="1.2"/><rect x="923.3" y="1003.5" width="18.2" height="24" fill="#fff" stroke="#808080" stroke-width="1.2"/><rect x="849.5" y="1028.1" width="91.3" height="74.9" fill="#fff" stroke="#808080" stroke-width="1.9"/><rect x="852.6" y="1031.2" width="85.2" height="68.7" fill="none" stroke="#808080" stroke-width="1.7"/><path d="M880.5 1099.9C893 1083.5 891 1060.5 897 1050.5C900 1040.5 902 1035.5 905 1031.2" fill="none" stroke="#808080" stroke-width="1.2" /><path d="M937.5 1096Q930.5 1092.5 923.5 1096Q925.5 1082.8 923.5 1069.5Q930.5 1073 937.5 1069.5Q935.5 1082.8 937.5 1096Z" fill="#fff" stroke="#7a7a7a" stroke-width="2.7" /><path d="M933.5 1090L927.5 1090 927.5 1075.5 933.5 1075.5Z" fill="#fff" stroke="#7a7a7a" stroke-width="1.7" /><path d="M937.5 1062.5Q930.5 1059 923.5 1062.5Q925.5 1049.2 923.5 1036Q930.5 1039.5 937.5 1036Q935.5 1049.2 937.5 1062.5Z" fill="#fff" stroke="#7a7a7a" stroke-width="2.7" /><path d="M933.5 1056.5L927.5 1056.5 927.5 1042 933.5 1042Z" fill="#fff" stroke="#7a7a7a" stroke-width="1.7" /><path d="M926 1094.5L923 1096 921 1094 918 1095 915.5 1092.5 917 1089.5 914.5 1087.5 917 1083.5 920.5 1081 923.5 1083.5 922 1087 925.5 1089.5Z" fill="#808080" stroke="#808080" stroke-width="1" /><rect x="877.7" y="1134.2" width="63" height="24.6" fill="#808080" stroke="#808080" stroke-width="0.5"/><path d="M881.2 1155.8L881.2 1148M884.2 1155.8L884.2 1148M887.2 1155.8L887.2 1148M890.2 1155.8L890.2 1148M893.2 1155.8L893.2 1148M896.2 1155.8L896.2 1148M899.2 1155.8L899.2 1148M902.2 1155.8L902.2 1148M905.2 1155.8L905.2 1148M908.2 1155.8L908.2 1148M911.2 1155.8L911.2 1148M914.2 1155.8L914.2 1148M917.2 1155.8L917.2 1148M920.2 1155.8L920.2 1148M923.2 1155.8L923.2 1148M926.2 1155.8L926.2 1148M929.2 1155.8L929.2 1148M932.2 1155.8L932.2 1148M935.2 1155.8L935.2 1148M938.2 1155.8L938.2 1148" stroke="#fff" stroke-width="1.3"/><path d="M881.2 1145L881.2 1137.2M884.2 1145L884.2 1137.2M887.2 1145L887.2 1137.2M890.2 1145L890.2 1137.2M893.2 1145L893.2 1137.2M896.2 1145L896.2 1137.2M899.2 1145L899.2 1137.2M902.2 1145L902.2 1137.2M905.2 1145L905.2 1137.2M908.2 1145L908.2 1137.2M911.2 1145L911.2 1137.2M914.2 1145L914.2 1137.2M917.2 1145L917.2 1137.2M920.2 1145L920.2 1137.2M923.2 1145L923.2 1137.2M926.2 1145L926.2 1137.2M929.2 1145L929.2 1137.2M932.2 1145L932.2 1137.2M935.2 1145L935.2 1137.2M938.2 1145L938.2 1137.2" stroke="#fff" stroke-width="1.3"/><rect x="635.7" y="958.9" width="56.2" height="28" rx="1.5" fill="#fff" stroke="#7c7c7c" stroke-width="1.8"/><path d="M663.8 982.9L663.8 958.9" fill="none" stroke="#808080" stroke-width="1.5"/><rect x="638.7" y="982.7" width="50.2" height="3.2" fill="#808080" stroke="#7c7c7c" stroke-width="0.5"/><path d="M660.8 982.7Q650.5 981.9 640.2 975.4Q652.5 973.4 654.8 979.9L660.8 982.7Z" fill="#fff" stroke="#808080" stroke-width="0.9"/><path d="M658.8 982.7Q650.5 980.4 640.2 975.4" fill="none" stroke="#808080" stroke-width="0.9"/><path d="M666.8 982.7Q677.1 981.9 687.4 975.4Q675.1 973.4 672.8 979.9L666.8 982.7Z" fill="#fff" stroke="#808080" stroke-width="0.9"/><path d="M668.8 982.7Q677.1 980.4 687.4 975.4" fill="none" stroke="#808080" stroke-width="0.9"/><rect x="633.7" y="985.9" width="60.2" height="9" rx="1.5" fill="#fff" stroke="#7c7c7c" stroke-width="1.8"/><rect x="631.2" y="963.9" width="7.5" height="23.5" rx="1.5" fill="#fff" stroke="#7c7c7c" stroke-width="1.8"/><rect x="688.9" y="963.9" width="7.5" height="23.5" rx="1.5" fill="#fff" stroke="#7c7c7c" stroke-width="1.8"/><rect x="714.6" y="967.5" width="24" height="21" fill="#fff" stroke="#808080" stroke-width="2"/><rect x="709.4" y="902.7" width="28" height="56.8" rx="1.5" fill="#fff" stroke="#7c7c7c" stroke-width="1.8"/><path d="M733.4 931.1L709.4 931.1" fill="none" stroke="#808080" stroke-width="1.5"/><rect x="733.2" y="905.7" width="3.2" height="50.8" fill="#808080" stroke="#7c7c7c" stroke-width="0.5"/><path d="M733.2 934.1Q732.4 944.5 725.9 955Q723.9 942.5 730.4 940.1L733.2 934.1Z" fill="#fff" stroke="#808080" stroke-width="0.9"/><path d="M733.2 936.1Q730.9 944.5 725.9 955" fill="none" stroke="#808080" stroke-width="0.9"/><path d="M733.2 928.1Q732.4 917.6 725.9 907.2Q723.9 919.6 730.4 922.1L733.2 928.1Z" fill="#fff" stroke="#808080" stroke-width="0.9"/><path d="M733.2 926.1Q730.9 917.6 725.9 907.2" fill="none" stroke="#808080" stroke-width="0.9"/><rect x="736.4" y="900.7" width="9" height="60.8" rx="1.5" fill="#fff" stroke="#7c7c7c" stroke-width="1.8"/><rect x="714.4" y="956.5" width="23.5" height="7.5" rx="1.5" fill="#fff" stroke="#7c7c7c" stroke-width="1.8"/><rect x="714.4" y="898.2" width="23.5" height="7.5" rx="1.5" fill="#fff" stroke="#7c7c7c" stroke-width="1.8"/><rect x="637" y="909.8" width="52.7" height="34.2" fill="#fff" stroke="#808080" stroke-width="4"/><rect x="641.5" y="914.8" width="43.7" height="24.2" fill="none" stroke="#808080" stroke-width="1"/><rect x="650.9" y="918.4" width="25" height="17" fill="none" stroke="#808080" stroke-width="2"/><path d="M656.9 932.4L669.9 921.4" stroke="#00f0f0" stroke-width="1.6"/><path d="M660.1 929.6L666.6 924.2" stroke="#00f0f0" stroke-width="3.4"/><rect x="596" y="940.2" width="8.7" height="24.9" fill="#fff" stroke="#808080" stroke-width="1.5"/><rect x="596" y="897.9" width="10.7" height="17.5" fill="#fff" stroke="#808080" stroke-width="1.5"/><rect x="596" y="903.9" width="6.2" height="55.1" fill="#fff" stroke="#808080" stroke-width="1.5"/><rect x="596" y="911.3" width="3.2" height="40.3" fill="#808080" stroke="#808080" stroke-width="0.5"/><rect x="800" y="919" width="15.5" height="26.5" fill="#808080" stroke="#808080" stroke-width="0.5"/><rect x="801.2" y="922.2" width="10.3" height="20.1" fill="#fff" stroke="#fff" stroke-width="0.5"/><circle cx="807.8" cy="932.2" r="1.5" fill="#808080"/><circle cx="892.5" cy="991.5" r="1.2" fill="#808080"/><circle cx="897" cy="988.5" r="2" fill="#808080"/><circle cx="901.5" cy="991.5" r="1.2" fill="#808080"/><rect x="738" y="779" width="18.3" height="35.5" fill="#747474" stroke="#747474" stroke-width="0.5"/><path d="M741.3 812.2L741.3 781.3" fill="none" stroke="#e8e8e8" stroke-width="0.7" /><path d="M753.9 812.2L753.9 781.3" fill="none" stroke="#e8e8e8" stroke-width="0.7" /><rect x="743.5" y="800.6" width="8.3" height="10" fill="#6a6a6a" stroke="#a8a8a8" stroke-width="0.7"/><rect x="746" y="803.6" width="3.3" height="4" fill="#6a6a6a" stroke="#b8b8b8" stroke-width="0.6"/><rect x="743.5" y="782.9" width="8.3" height="10" fill="#6a6a6a" stroke="#a8a8a8" stroke-width="0.7"/><rect x="746" y="785.9" width="3.3" height="4" fill="#6a6a6a" stroke="#b8b8b8" stroke-width="0.6"/><rect x="743.7" y="794.5" width="8.8" height="4.4" fill="#fff" stroke="#fff" stroke-width="0.5"/><rect x="740.7" y="738.4" width="15.8" height="16.9" rx="1.5" fill="#fff" stroke="#7a7a7a" stroke-width="2.4"/><path d="M752.6 746.9L739.6 746.9" fill="none" stroke="#808080" stroke-width="1.6" /><path d="M749.6 749.4L749.6 744.4" fill="none" stroke="#808080" stroke-width="1.4" /><rect x="654.5" y="814.5" width="27" height="30" fill="#fff" stroke="#808080" stroke-width="1"/><rect x="654.5" y="814.5" width="24.5" height="30" fill="none" stroke="#808080" stroke-width="1"/><path d="M654.5 843L651 839.5 651 819.5 654.5 816Z" fill="#808080" stroke="#808080" stroke-width="0.5" /><rect x="1003.5" y="1042.5" width="48.3" height="73" fill="#fff" stroke="#808080" stroke-width="4.2"/><rect x="1010" y="1049" width="35" height="60" fill="none" stroke="#808080" stroke-width="1"/><rect x="1013.5" y="1052.5" width="31.5" height="53" fill="none" stroke="#808080" stroke-width="1"/><rect x="948.5" y="1103.5" width="18.2" height="16.5" fill="#fff" stroke="#808080" stroke-width="1.2"/><rect x="948.5" y="1003.5" width="18.2" height="24" fill="#fff" stroke="#808080" stroke-width="1.2"/><rect x="949.2" y="1028.1" width="91.3" height="74.9" fill="#fff" stroke="#808080" stroke-width="1.9"/><rect x="952.2" y="1031.2" width="85.2" height="68.7" fill="none" stroke="#808080" stroke-width="1.7"/><path d="M1009.5 1099.9C997 1083.5 999 1060.5 993 1050.5C990 1040.5 988 1035.5 985 1031.2" fill="none" stroke="#808080" stroke-width="1.2" /><path d="M952.5 1096Q959.5 1092.5 966.5 1096Q964.5 1082.8 966.5 1069.5Q959.5 1073 952.5 1069.5Q954.5 1082.8 952.5 1096Z" fill="#fff" stroke="#7a7a7a" stroke-width="2.7" /><path d="M956.5 1090L962.5 1090 962.5 1075.5 956.5 1075.5Z" fill="#fff" stroke="#7a7a7a" stroke-width="1.7" /><path d="M952.5 1062.5Q959.5 1059 966.5 1062.5Q964.5 1049.2 966.5 1036Q959.5 1039.5 952.5 1036Q954.5 1049.2 952.5 1062.5Z" fill="#fff" stroke="#7a7a7a" stroke-width="2.7" /><path d="M956.5 1056.5L962.5 1056.5 962.5 1042 956.5 1042Z" fill="#fff" stroke="#7a7a7a" stroke-width="1.7" /><path d="M964 1094.5L967 1096 969 1094 972 1095 974.5 1092.5 973 1089.5 975.5 1087.5 973 1083.5 969.5 1081 966.5 1083.5 968 1087 964.5 1089.5Z" fill="#808080" stroke="#808080" stroke-width="1" /><rect x="949.3" y="1134.2" width="63" height="24.6" fill="#808080" stroke="#808080" stroke-width="0.5"/><path d="M1008.8 1155.8L1008.8 1148M1005.8 1155.8L1005.8 1148M1002.8 1155.8L1002.8 1148M999.8 1155.8L999.8 1148M996.8 1155.8L996.8 1148M993.8 1155.8L993.8 1148M990.8 1155.8L990.8 1148M987.8 1155.8L987.8 1148M984.8 1155.8L984.8 1148M981.8 1155.8L981.8 1148M978.8 1155.8L978.8 1148M975.8 1155.8L975.8 1148M972.8 1155.8L972.8 1148M969.8 1155.8L969.8 1148M966.8 1155.8L966.8 1148M963.8 1155.8L963.8 1148M960.8 1155.8L960.8 1148M957.8 1155.8L957.8 1148M954.8 1155.8L954.8 1148M951.8 1155.8L951.8 1148" stroke="#fff" stroke-width="1.3"/><path d="M1008.8 1145L1008.8 1137.2M1005.8 1145L1005.8 1137.2M1002.8 1145L1002.8 1137.2M999.8 1145L999.8 1137.2M996.8 1145L996.8 1137.2M993.8 1145L993.8 1137.2M990.8 1145L990.8 1137.2M987.8 1145L987.8 1137.2M984.8 1145L984.8 1137.2M981.8 1145L981.8 1137.2M978.8 1145L978.8 1137.2M975.8 1145L975.8 1137.2M972.8 1145L972.8 1137.2M969.8 1145L969.8 1137.2M966.8 1145L966.8 1137.2M963.8 1145L963.8 1137.2M960.8 1145L960.8 1137.2M957.8 1145L957.8 1137.2M954.8 1145L954.8 1137.2M951.8 1145L951.8 1137.2" stroke="#fff" stroke-width="1.3"/><rect x="1198.1" y="958.9" width="56.2" height="28" rx="1.5" fill="#fff" stroke="#7c7c7c" stroke-width="1.8"/><path d="M1226.2 982.9L1226.2 958.9" fill="none" stroke="#808080" stroke-width="1.5"/><rect x="1201.1" y="982.7" width="50.2" height="3.2" fill="#808080" stroke="#7c7c7c" stroke-width="0.5"/><path d="M1229.2 982.7Q1239.5 981.9 1249.8 975.4Q1237.5 973.4 1235.2 979.9L1229.2 982.7Z" fill="#fff" stroke="#808080" stroke-width="0.9"/><path d="M1231.2 982.7Q1239.5 980.4 1249.8 975.4" fill="none" stroke="#808080" stroke-width="0.9"/><path d="M1223.2 982.7Q1212.9 981.9 1202.6 975.4Q1214.9 973.4 1217.2 979.9L1223.2 982.7Z" fill="#fff" stroke="#808080" stroke-width="0.9"/><path d="M1221.2 982.7Q1212.9 980.4 1202.6 975.4" fill="none" stroke="#808080" stroke-width="0.9"/><rect x="1196.1" y="985.9" width="60.2" height="9" rx="1.5" fill="#fff" stroke="#7c7c7c" stroke-width="1.8"/><rect x="1251.3" y="963.9" width="7.5" height="23.5" rx="1.5" fill="#fff" stroke="#7c7c7c" stroke-width="1.8"/><rect x="1193.6" y="963.9" width="7.5" height="23.5" rx="1.5" fill="#fff" stroke="#7c7c7c" stroke-width="1.8"/><rect x="1151.4" y="967.5" width="24" height="21" fill="#fff" stroke="#808080" stroke-width="2"/><rect x="1152.6" y="902.7" width="28" height="56.8" rx="1.5" fill="#fff" stroke="#7c7c7c" stroke-width="1.8"/><path d="M1156.6 931.1L1180.6 931.1" fill="none" stroke="#808080" stroke-width="1.5"/><rect x="1153.6" y="905.7" width="3.2" height="50.8" fill="#808080" stroke="#7c7c7c" stroke-width="0.5"/><path d="M1156.8 934.1Q1157.6 944.5 1164.1 955Q1166.1 942.5 1159.6 940.1L1156.8 934.1Z" fill="#fff" stroke="#808080" stroke-width="0.9"/><path d="M1156.8 936.1Q1159.1 944.5 1164.1 955" fill="none" stroke="#808080" stroke-width="0.9"/><path d="M1156.8 928.1Q1157.6 917.6 1164.1 907.2Q1166.1 919.6 1159.6 922.1L1156.8 928.1Z" fill="#fff" stroke="#808080" stroke-width="0.9"/><path d="M1156.8 926.1Q1159.1 917.6 1164.1 907.2" fill="none" stroke="#808080" stroke-width="0.9"/><rect x="1144.6" y="900.7" width="9" height="60.8" rx="1.5" fill="#fff" stroke="#7c7c7c" stroke-width="1.8"/><rect x="1152.1" y="956.5" width="23.5" height="7.5" rx="1.5" fill="#fff" stroke="#7c7c7c" stroke-width="1.8"/><rect x="1152.1" y="898.2" width="23.5" height="7.5" rx="1.5" fill="#fff" stroke="#7c7c7c" stroke-width="1.8"/><rect x="1200.3" y="909.8" width="52.7" height="34.2" fill="#fff" stroke="#808080" stroke-width="4"/><rect x="1204.8" y="914.8" width="43.7" height="24.2" fill="none" stroke="#808080" stroke-width="1"/><rect x="1214.2" y="918.4" width="25" height="17" fill="none" stroke="#808080" stroke-width="2"/><path d="M1233.2 932.4L1220.2 921.4" stroke="#00f0f0" stroke-width="1.6"/><path d="M1229.8 929.6L1223.4 924.2" stroke="#00f0f0" stroke-width="3.4"/><rect x="1285.3" y="940.2" width="8.7" height="24.9" fill="#fff" stroke="#808080" stroke-width="1.5"/><rect x="1283.3" y="897.9" width="10.7" height="17.5" fill="#fff" stroke="#808080" stroke-width="1.5"/><rect x="1287.8" y="903.9" width="6.2" height="55.1" fill="#fff" stroke="#808080" stroke-width="1.5"/><rect x="1290.8" y="911.3" width="3.2" height="40.3" fill="#808080" stroke="#808080" stroke-width="0.5"/><rect x="1074.5" y="919" width="15.5" height="26.5" fill="#808080" stroke="#808080" stroke-width="0.5"/><rect x="1078.5" y="922.2" width="10.3" height="20.1" fill="#fff" stroke="#fff" stroke-width="0.5"/><circle cx="1082.2" cy="932.2" r="1.5" fill="#808080"/><circle cx="997.5" cy="991.5" r="1.2" fill="#808080"/><circle cx="993" cy="988.5" r="2" fill="#808080"/><circle cx="988.5" cy="991.5" r="1.2" fill="#808080"/><rect x="1135.2" y="726.2" width="17.6" height="15.6" rx="1.5" fill="#fff" stroke="#7a7a7a" stroke-width="2.4"/><path d="M1144 738L1144 725" fill="none" stroke="#808080" stroke-width="1.6" /><path d="M1141.5 735L1146.5 735" fill="none" stroke="#808080" stroke-width="1.4" /><rect x="1172.5" y="725" width="35.2" height="19" fill="#747474" stroke="#747474" stroke-width="0.5"/><path d="M1174.8 728.3L1205.4 728.3" fill="none" stroke="#e8e8e8" stroke-width="0.7" /><path d="M1174.8 741.6L1205.4 741.6" fill="none" stroke="#e8e8e8" stroke-width="0.7" /><rect x="1176.3" y="730.5" width="10" height="9" fill="#6a6a6a" stroke="#a8a8a8" stroke-width="0.7"/><rect x="1179.3" y="733" width="4" height="4" fill="#6a6a6a" stroke="#b8b8b8" stroke-width="0.6"/><rect x="1193.9" y="730.5" width="10" height="9" fill="#6a6a6a" stroke="#a8a8a8" stroke-width="0.7"/><rect x="1196.9" y="733" width="4" height="4" fill="#6a6a6a" stroke="#b8b8b8" stroke-width="0.6"/><rect x="1187.9" y="730.7" width="4.4" height="9.5" fill="#fff" stroke="#fff" stroke-width="0.5"/><rect x="1207.5" y="815.5" width="29.5" height="29.5" fill="#fff" stroke="#808080" stroke-width="1"/><rect x="1210" y="815.5" width="27" height="29.5" fill="none" stroke="#808080" stroke-width="1"/><path d="M1237 817L1240.5 820.5 1240.5 840 1237 843.5Z" fill="#808080" stroke="#808080" stroke-width="0.5" /></g>
<path d="M272 27L342 27M272 30.3L342 30.3M272 33.6L342 33.6M517.5 175.6L589 175.6M517.5 179L589 179M517.5 182.4L589 182.4M349 55L471.5 55M349 58.4L468 58.4M349 61.8L464.6 61.8M471.5 55L471.5 175M468 58.4L468 175M464.6 61.8L464.6 175M349 175.5L419 175.5M285 345L312 345M285 348.5L312 348.5M285 352L312 352M342 352L342 397.6M345.4 352L345.4 394.2M348.8 352L348.8 390.8M342 397.6L412.5 397.6M345.4 394.2L412.5 394.2M348.8 390.8L412.5 390.8M412.3 356L412.3 390M412.6 400L412.6 457M416 400L416 457M419.4 400L419.4 457M540 330.6L589 330.6M27 345L55 345M27 348.5L55 348.5M27 352L55 352M84 83L84 175M87.4 86.4L87.4 175M90.8 89.8L90.8 175M84 83L192.5 83M87.4 86.4L192.5 86.4M90.8 89.8L192.5 89.8M91 175.5L160 175.5M272 1151.5L342 1151.5M272 1148.2L342 1148.2M272 1144.9L342 1144.9M517.5 1002.9L589 1002.9M517.5 999.5L589 999.5M517.5 996.1L589 996.1M349 1123.5L471.5 1123.5M349 1120.1L468 1120.1M349 1116.7L464.6 1116.7M471.5 1123.5L471.5 1003.5M468 1120.1L468 1003.5M464.6 1116.7L464.6 1003.5M349 1003L419 1003M285 833.5L312 833.5M285 830L312 830M285 826.5L312 826.5M342 826.5L342 780.9M345.4 826.5L345.4 784.3M348.8 826.5L348.8 787.7M342 780.9L412.5 780.9M345.4 784.3L412.5 784.3M348.8 787.7L412.5 787.7M412.3 822.5L412.3 788.5M412.6 778.5L412.6 721.5M416 778.5L416 721.5M419.4 778.5L419.4 721.5M540 847.9L589 847.9M27 833.5L55 833.5M27 830L55 830M27 826.5L55 826.5M84 1095.5L84 1003.5M87.4 1092.1L87.4 1003.5M90.8 1088.7L90.8 1003.5M84 1095.5L192.5 1095.5M87.4 1092.1L192.5 1092.1M90.8 1088.7L192.5 1088.7M91 1003L160 1003M1618 27L1548 27M1618 30.3L1548 30.3M1618 33.6L1548 33.6M1372.5 175.6L1301 175.6M1372.5 179L1301 179M1372.5 182.4L1301 182.4M1541 55L1418.5 55M1541 58.4L1422 58.4M1541 61.8L1425.4 61.8M1418.5 55L1418.5 175M1422 58.4L1422 175M1425.4 61.8L1425.4 175M1541 175.5L1471 175.5M1605 345L1578 345M1605 348.5L1578 348.5M1605 352L1578 352M1548 352L1548 397.6M1544.6 352L1544.6 394.2M1541.2 352L1541.2 390.8M1548 397.6L1477.5 397.6M1544.6 394.2L1477.5 394.2M1541.2 390.8L1477.5 390.8M1477.7 356L1477.7 390M1477.4 400L1477.4 457M1474 400L1474 457M1470.6 400L1470.6 457M1350 330.6L1301 330.6M1798 27L1697.5 27M1798 30.3L1697.5 30.3M1798 33.6L1697.5 33.6M1798 175.5L1729 175.5M1862 55.6L1807 55.6M1862 62.4L1807 62.4M1862 111.5L1835.5 111.5M1862 115L1835.5 115M1862 118.4L1835.5 118.4M1618 1151.5L1548 1151.5M1618 1148.2L1548 1148.2M1618 1144.9L1548 1144.9M1372.5 1002.9L1301 1002.9M1372.5 999.5L1301 999.5M1372.5 996.1L1301 996.1M1541 1123.5L1418.5 1123.5M1541 1120.1L1422 1120.1M1541 1116.7L1425.4 1116.7M1418.5 1123.5L1418.5 1003.5M1422 1120.1L1422 1003.5M1425.4 1116.7L1425.4 1003.5M1541 1003L1471 1003M1605 833.5L1578 833.5M1605 830L1578 830M1605 826.5L1578 826.5M1548 826.5L1548 780.9M1544.6 826.5L1544.6 784.3M1541.2 826.5L1541.2 787.7M1548 780.9L1477.5 780.9M1544.6 784.3L1477.5 784.3M1541.2 787.7L1477.5 787.7M1477.7 822.5L1477.7 788.5M1477.4 778.5L1477.4 721.5M1474 778.5L1474 721.5M1470.6 778.5L1470.6 721.5M1350 847.9L1301 847.9M1798 1151.5L1697.5 1151.5M1798 1148.2L1697.5 1148.2M1798 1144.9L1697.5 1144.9M1798 1003L1729 1003M1862 1122.9L1807 1122.9M1862 1116.1L1807 1116.1M1862 1067L1835.5 1067M1862 1063.5L1835.5 1063.5M1862 1060.1L1835.5 1060.1M596 175.6L666 175.6M596 179L666 179M596 182.4L666 182.4M691 55L691 175M694.4 58.4L694.4 175M697.8 61.8L697.8 175M691 55L792.5 55M694.4 58.4L792.5 58.4M697.8 61.8L792.5 61.8M724 175.5L792.5 175.5M800.5 27L870 27M800.5 30.3L870 30.3M800.5 33.6L870 33.6M914 239.2L941 239.2M914 242.4L941 242.4M914 245.6L941 245.6M849.6 296L849.6 324M853 296L853 324M856.2 296L856.2 324M596 330.6L644 330.6M758 387L758 443M761.6 387L761.6 443M765.2 387L765.2 443M827 535L945 535M827 538.5L945 538.5M827 542L945 542M702 451L702 534.5M705.6 451L705.6 534.5M709.2 451L709.2 534.5M654 450.6L687 450.6M1294 175.6L1224 175.6M1294 179L1224 179M1294 182.4L1224 182.4M1199 55L1199 175M1195.6 58.4L1195.6 175M1192.2 61.8L1192.2 175M1199 55L1097.5 55M1195.6 58.4L1097.5 58.4M1192.2 61.8L1097.5 61.8M1166 175.5L1097.5 175.5M1089.5 27L1020 27M1089.5 30.3L1020 30.3M1089.5 33.6L1020 33.6M976 239.2L949 239.2M976 242.4L949 242.4M976 245.6L949 245.6M1040.4 296L1040.4 324M1037 296L1037 324M1033.8 296L1033.8 324M1294 330.6L1246 330.6M1132 387L1132 443M1128.4 387L1128.4 443M1124.8 387L1124.8 443M1059 535L945 535M1059 538.5L945 538.5M1059 542L945 542M1188 451L1188 534.5M1184.4 451L1184.4 534.5M1180.8 451L1180.8 534.5M1236 450.6L1203 450.6M596 1002.9L666 1002.9M596 999.5L666 999.5M596 996.1L666 996.1M691 1123.5L691 1003.5M694.4 1120.1L694.4 1003.5M697.8 1116.7L697.8 1003.5M691 1123.5L792.5 1123.5M694.4 1120.1L792.5 1120.1M697.8 1116.7L792.5 1116.7M724 1003L792.5 1003M800.5 1151.5L870 1151.5M800.5 1148.2L870 1148.2M800.5 1144.9L870 1144.9M914 939.3L941 939.3M914 936.1L941 936.1M914 932.9L941 932.9M849.6 882.5L849.6 854.5M853 882.5L853 854.5M856.2 882.5L856.2 854.5M596 847.9L644 847.9M758 778L758 722M761.6 778L761.6 722M765.2 778L765.2 722M827 619.5L945 619.5M827 616L945 616M827 612.5L945 612.5M702 714L702 620M705.6 714L705.6 620M709.2 714L709.2 620M654 714.4L687 714.4M1294 1002.9L1224 1002.9M1294 999.5L1224 999.5M1294 996.1L1224 996.1M1199 1123.5L1199 1003.5M1195.6 1120.1L1195.6 1003.5M1192.2 1116.7L1192.2 1003.5M1199 1123.5L1097.5 1123.5M1195.6 1120.1L1097.5 1120.1M1192.2 1116.7L1097.5 1116.7M1166 1003L1097.5 1003M1089.5 1151.5L1020 1151.5M1089.5 1148.2L1020 1148.2M1089.5 1144.9L1020 1144.9M976 939.3L949 939.3M976 936.1L949 936.1M976 932.9L949 932.9M1040.4 882.5L1040.4 854.5M1037 882.5L1037 854.5M1033.8 882.5L1033.8 854.5M1294 847.9L1246 847.9M292 495.5L292 581M295.4 495.5L295.4 581M298.8 495.5L298.8 581M532.3 542L532.3 611M528.9 647L528.9 687M1506 466L1506 534.6M1509.5 466L1509.5 534.6M1513 466L1513 534.6M1506 645L1506 713.5M1509.5 645L1509.5 713.5M1513 645L1513 713.5M1358.8 644.5L1358.8 713.5M1234 647L1234 687M1125.4 722L1125.4 779M1128.8 722L1128.8 779M1132.2 722L1132.2 779M1125.2 788L1125.2 822.5M1034 781L1125 781M1037.4 784.4L1125 784.4M1040.8 787.8L1125 787.8M1034 781L1034 847.5M1037.4 784.4L1037.4 847.5M1040.8 787.8L1040.8 847.5M945 612.5L1059 612.5M945 616L1059 616M945 619.4L1059 619.4" fill="none" stroke="#0a0aff" stroke-width="1.45"/>
<path d="M192.1 12.1H272.4V20.9H192.1ZM264.1 12.1H272.4V36H264.1ZM192.1 12.1H201.4V183.4H192.1ZM341.1 12.1H349.9V183.4H341.1ZM159.6 174.6H300.9V183.4H159.6ZM418.1 174.6H518V183.4H418.1ZM588 174.6H596.5V331.9H588ZM277.1 222.1H285.4V352.9H277.1ZM277.1 238.1H309.9V246.4H277.1ZM311.6 344.1H349.9V352.9H311.6ZM341.1 223.1H349.9V352.9H341.1ZM341.1 322.6H420.4V330.9H341.1ZM412.1 322.6H420.4V356.9H412.1ZM411.6 389.1H420.4V400.9H411.6ZM473.6 323.6H540.5V331.9H473.6ZM532 323.6H540.5V542.5H532ZM82.8 174.6H92V246.4H82.8ZM19.2 238.1H92V246.4H19.2ZM19.2 238.1H28.8V352.9H19.2ZM54.5 344.1H285.4V352.9H54.5ZM82.8 279.6H92V352.9H82.8ZM192.1 1157.5H272.4V1166.5H192.1ZM264.1 1142.5H272.4V1166.5H264.1ZM192.1 995H201.4V1166.5H192.1ZM341.1 995H349.9V1166.5H341.1ZM159.6 995H300.9V1004H159.6ZM418.1 995H518V1004H418.1ZM588 846.5H596.5V1004H588ZM277.1 825.5H285.4V956.5H277.1ZM277.1 932H309.9V940.5H277.1ZM311.6 825.5H349.9V834.5H311.6ZM341.1 825.5H349.9V955.5H341.1ZM341.1 847.5H420.4V856H341.1ZM412.1 821.5H420.4V856H412.1ZM411.6 777.5H420.4V789.5H411.6ZM467.1 846.5H540.5V855H467.1ZM532 720.5H540.5V855H532ZM82.8 932H92V1004H82.8ZM19.2 932H92V940.5H19.2ZM19.2 825.5H28.8V940.5H19.2ZM54.5 825.5H285.4V834.5H54.5ZM82.8 825.5H92V899H82.8ZM1617.5 12.1H1698V20.9H1617.5ZM1617.5 12.1H1626V36H1617.5ZM1688.5 12.1H1698V183.4H1688.5ZM1540 12.1H1549V183.4H1540ZM1589 174.6H1730.5V183.4H1589ZM1372 174.6H1472V183.4H1372ZM1293.5 174.6H1302V331.9H1293.5ZM1604.5 222.1H1613V352.9H1604.5ZM1580 238.1H1613V246.4H1580ZM1540 344.1H1578.5V352.9H1540ZM1540 223.1H1549V352.9H1540ZM1469.5 322.6H1549V330.9H1469.5ZM1469.5 322.6H1478V356.9H1469.5ZM1469.5 389.1H1478.5V400.9H1469.5ZM1349.5 323.6H1423V331.9H1349.5ZM1349.5 323.6H1358V644.5H1349.5ZM1797.5 25.6H1807.5V183.4H1797.5ZM1798 216.1H1807.5V352.9H1798ZM1604.5 344.1H1807.5V352.9H1604.5ZM1798 217.1H1870.2V226.4H1798ZM1861.5 54H1870.2V226.4H1861.5ZM1797.5 110H1836V119H1797.5ZM1617.5 1157.5H1698V1166.5H1617.5ZM1617.5 1142.5H1626V1166.5H1617.5ZM1688.5 995H1698V1166.5H1688.5ZM1540 995H1549V1166.5H1540ZM1589 995H1730.5V1004H1589ZM1372 995H1472V1004H1372ZM1293.5 846.5H1302V1004H1293.5ZM1604.5 825.5H1613V956.5H1604.5ZM1580 932H1613V940.5H1580ZM1540 825.5H1578.5V834.5H1540ZM1540 825.5H1549V955.5H1540ZM1469.5 847.5H1549V856H1469.5ZM1469.5 821.5H1478V856H1469.5ZM1469.5 777.5H1478.5V789.5H1469.5ZM1349.5 846.5H1423V855H1349.5ZM1349.5 714H1358V855H1349.5ZM1797.5 995H1807.5V1153H1797.5ZM1798 825.5H1807.5V962.5H1798ZM1604.5 825.5H1807.5V834.5H1604.5ZM1798 952H1870.2V961.5H1798ZM1861.5 952H1870.2V1153H1861.5ZM1797.5 1059.5H1836V1068.5H1797.5ZM665.5 174.6H724.5V183.4H665.5ZM792 12.1H801V183.4H792ZM869.5 12.1H949.5V20.9H869.5ZM869.5 12.1H878V36H869.5ZM940.5 12.1H949.5V246.4H940.5ZM840.5 174.6H949.5V183.4H840.5ZM848.5 174.6H857V205.9H848.5ZM848.5 238.1H857V296.4H848.5ZM848.5 238.1H914.5V246.4H848.5ZM792 230.1H800.5V331.9H792ZM792 259.6H816.5V267.9H792ZM729 323.6H857.5V331.9H729ZM640.5 323.6H681.5V331.9H640.5ZM757 323.6H766V387.4H757ZM686.5 442.6H766.5V451.4H686.5ZM643.5 323.6H652.5V543H643.5ZM643.5 534H827.5V543H643.5ZM1165.5 174.6H1224.5V183.4H1165.5ZM1089 12.1H1098V183.4H1089ZM940.5 12.1H1020.5V20.9H940.5ZM1012 12.1H1020.5V36H1012ZM940.5 12.1H949.5V246.4H940.5ZM940.5 174.6H1049.5V183.4H940.5ZM1033 174.6H1041.5V205.9H1033ZM1033 238.1H1041.5V296.4H1033ZM975.5 238.1H1041.5V246.4H975.5ZM1089.5 230.1H1098V331.9H1089.5ZM1073.5 259.6H1098V267.9H1073.5ZM1032.5 323.6H1161V331.9H1032.5ZM1208.5 323.6H1249.5V331.9H1208.5ZM1124 323.6H1133V387.4H1124ZM1123.5 442.6H1203.5V451.4H1123.5ZM1237.5 323.6H1246.5V543H1237.5ZM1058.5 534H1246.5V543H1058.5ZM665.5 995H724.5V1004H665.5ZM792 995H801V1166.5H792ZM869.5 1157.5H949.5V1166.5H869.5ZM869.5 1142.5H878V1166.5H869.5ZM940.5 932H949.5V1166.5H940.5ZM840.5 995H949.5V1004H840.5ZM848.5 972.5H857V1004H848.5ZM848.5 882H857V940.5H848.5ZM848.5 932H914.5V940.5H848.5ZM792 846.5H800.5V948.5H792ZM792 910.5H816.5V919H792ZM729 846.5H857.5V855H729ZM640.5 846.5H681.5V855H640.5ZM757 777H766V855H757ZM686.5 713.5H766.5V722.5H686.5ZM643.5 611.5H652.5V855H643.5ZM643.5 611.5H827.5V620.5H643.5ZM1165.5 995H1224.5V1004H1165.5ZM1089 995H1098V1166.5H1089ZM940.5 1157.5H1020.5V1166.5H940.5ZM1012 1142.5H1020.5V1166.5H1012ZM940.5 932H949.5V1166.5H940.5ZM940.5 995H1049.5V1004H940.5ZM1033 972.5H1041.5V1004H1033ZM1033 882H1041.5V940.5H1033ZM975.5 932H1041.5V940.5H975.5ZM1089.5 846.5H1098V948.5H1089.5ZM1073.5 910.5H1098V919H1073.5ZM1032.5 846.5H1161V855H1032.5ZM1208.5 846.5H1249.5V855H1208.5ZM291 456H540.5V466H291ZM291 456H300V495.5H291ZM291 581H300V620.5H291ZM291 611H378V620.5H291ZM375.5 611H388.5V722.5H375.5ZM375.5 611H540.5V624.4H375.5ZM375.5 709H540.5V722.5H375.5ZM527.5 611H540.5V647.2H527.5ZM527.5 687H540.5V722.5H527.5ZM1350.3 456H1514V466H1350.3ZM1505 534.6H1514V645H1505ZM1350.3 713.5H1514V722.7H1350.3ZM1134.5 611H1147.7V722.7H1134.5ZM1134.5 611H1246V624.5H1134.5ZM1134.5 709H1246V722.7H1134.5ZM1232.5 611H1246V647.2H1232.5ZM1232.5 687H1246V722.7H1232.5ZM1237 721.5H1246V855.5H1237ZM1124 713.5H1133.5V723H1124ZM1124 778H1133.5V789.5H1124ZM1124 821.5H1133V855.5H1124ZM1058.5 611.5H1246V620H1058.5Z" fill="#000"/>
<path d="M194.6 14.6H269.9V18.4H194.6ZM266.6 14.6H269.9V33.4H266.6ZM194.6 14.6H198.9V180.9H194.6ZM343.6 14.6H347.4V180.9H343.6ZM162.1 177.1H298.4V180.9H162.1ZM420.6 177.1H515.4V180.9H420.6ZM590.6 177.1H593.9V329.4H590.6ZM279.6 224.6H282.9V350.4H279.6ZM279.6 240.6H307.4V243.9H279.6ZM314.1 346.6H347.4V350.4H314.1ZM343.6 225.6H347.4V350.4H343.6ZM343.6 325.1H417.9V328.4H343.6ZM414.6 325.1H417.9V354.4H414.6ZM414.1 391.6H417.9V398.4H414.1ZM476.1 326.1H537.9V329.4H476.1ZM534.6 326.1H537.9V539.9H534.6ZM85.4 177.1H89.4V243.9H85.4ZM21.7 240.6H89.4V243.9H21.7ZM21.7 240.6H26.2V350.4H21.7ZM57.1 346.6H282.9V350.4H57.1ZM85.4 282.1H89.4V350.4H85.4ZM194.6 1160.1H269.9V1163.9H194.6ZM266.6 1145.1H269.9V1163.9H266.6ZM194.6 997.6H198.9V1163.9H194.6ZM343.6 997.6H347.4V1163.9H343.6ZM162.1 997.6H298.4V1001.4H162.1ZM420.6 997.6H515.4V1001.4H420.6ZM590.6 849.1H593.9V1001.4H590.6ZM279.6 828.1H282.9V953.9H279.6ZM279.6 934.6H307.4V937.9H279.6ZM314.1 828.1H347.4V831.9H314.1ZM343.6 828.1H347.4V952.9H343.6ZM343.6 850.1H417.9V853.4H343.6ZM414.6 824.1H417.9V853.4H414.6ZM414.1 780.1H417.9V786.9H414.1ZM469.6 849.1H537.9V852.4H469.6ZM534.6 723.1H537.9V852.4H534.6ZM85.4 934.6H89.4V1001.4H85.4ZM21.7 934.6H89.4V937.9H21.7ZM21.7 828.1H26.2V937.9H21.7ZM57.1 828.1H282.9V831.9H57.1ZM85.4 828.1H89.4V896.4H85.4ZM1620.1 14.6H1695.4V18.4H1620.1ZM1620.1 14.6H1623.4V33.4H1620.1ZM1691.1 14.6H1695.4V180.9H1691.1ZM1542.6 14.6H1546.4V180.9H1542.6ZM1591.6 177.1H1727.9V180.9H1591.6ZM1374.6 177.1H1469.4V180.9H1374.6ZM1296.1 177.1H1299.4V329.4H1296.1ZM1607.1 224.6H1610.4V350.4H1607.1ZM1582.6 240.6H1610.4V243.9H1582.6ZM1542.6 346.6H1575.9V350.4H1542.6ZM1542.6 225.6H1546.4V350.4H1542.6ZM1472.1 325.1H1546.4V328.4H1472.1ZM1472.1 325.1H1475.4V354.4H1472.1ZM1472.1 391.6H1475.9V398.4H1472.1ZM1352.1 326.1H1420.4V329.4H1352.1ZM1352.1 326.1H1355.4V641.9H1352.1ZM1800.1 28.1H1804.9V180.9H1800.1ZM1800.6 218.6H1804.9V350.4H1800.6ZM1607.1 346.6H1804.9V350.4H1607.1ZM1800.6 219.6H1867.7V223.9H1800.6ZM1864.1 56.6H1867.7V223.9H1864.1ZM1800.1 112.6H1833.4V116.4H1800.1ZM1620.1 1160.1H1695.4V1163.9H1620.1ZM1620.1 1145.1H1623.4V1163.9H1620.1ZM1691.1 997.6H1695.4V1163.9H1691.1ZM1542.6 997.6H1546.4V1163.9H1542.6ZM1591.6 997.6H1727.9V1001.4H1591.6ZM1374.6 997.6H1469.4V1001.4H1374.6ZM1296.1 849.1H1299.4V1001.4H1296.1ZM1607.1 828.1H1610.4V953.9H1607.1ZM1582.6 934.6H1610.4V937.9H1582.6ZM1542.6 828.1H1575.9V831.9H1542.6ZM1542.6 828.1H1546.4V952.9H1542.6ZM1472.1 850.1H1546.4V853.4H1472.1ZM1472.1 824.1H1475.4V853.4H1472.1ZM1472.1 780.1H1475.9V786.9H1472.1ZM1352.1 849.1H1420.4V852.4H1352.1ZM1352.1 716.6H1355.4V852.4H1352.1ZM1800.1 997.6H1804.9V1150.4H1800.1ZM1800.6 828.1H1804.9V959.9H1800.6ZM1607.1 828.1H1804.9V831.9H1607.1ZM1800.6 954.6H1867.7V958.9H1800.6ZM1864.1 954.6H1867.7V1150.4H1864.1ZM1800.1 1062.1H1833.4V1065.9H1800.1ZM668.1 177.1H721.9V180.9H668.1ZM794.6 14.6H798.4V180.9H794.6ZM872.1 14.6H946.9V18.4H872.1ZM872.1 14.6H875.4V33.4H872.1ZM943.1 14.6H946.9V243.9H943.1ZM843.1 177.1H946.9V180.9H843.1ZM851.1 177.1H854.4V203.4H851.1ZM851.1 240.6H854.4V293.9H851.1ZM851.1 240.6H911.9V243.9H851.1ZM794.6 232.6H797.9V329.4H794.6ZM794.6 262.1H813.9V265.4H794.6ZM731.6 326.1H854.9V329.4H731.6ZM643.1 326.1H678.9V329.4H643.1ZM759.6 326.1H763.4V384.9H759.6ZM689.1 445.1H763.9V448.9H689.1ZM646.1 326.1H649.9V540.4H646.1ZM646.1 536.6H824.9V540.4H646.1ZM1168.1 177.1H1221.9V180.9H1168.1ZM1091.6 14.6H1095.4V180.9H1091.6ZM943.1 14.6H1017.9V18.4H943.1ZM1014.6 14.6H1017.9V33.4H1014.6ZM943.1 14.6H946.9V243.9H943.1ZM943.1 177.1H1046.9V180.9H943.1ZM1035.6 177.1H1038.9V203.4H1035.6ZM1035.6 240.6H1038.9V293.9H1035.6ZM978.1 240.6H1038.9V243.9H978.1ZM1092.1 232.6H1095.4V329.4H1092.1ZM1076.1 262.1H1095.4V265.4H1076.1ZM1035.1 326.1H1158.4V329.4H1035.1ZM1211.1 326.1H1246.9V329.4H1211.1ZM1126.6 326.1H1130.4V384.9H1126.6ZM1126.1 445.1H1200.9V448.9H1126.1ZM1240.1 326.1H1243.9V540.4H1240.1ZM1061.1 536.6H1243.9V540.4H1061.1ZM668.1 997.6H721.9V1001.4H668.1ZM794.6 997.6H798.4V1163.9H794.6ZM872.1 1160.1H946.9V1163.9H872.1ZM872.1 1145.1H875.4V1163.9H872.1ZM943.1 934.6H946.9V1163.9H943.1ZM843.1 997.6H946.9V1001.4H843.1ZM851.1 975.1H854.4V1001.4H851.1ZM851.1 884.6H854.4V937.9H851.1ZM851.1 934.6H911.9V937.9H851.1ZM794.6 849.1H797.9V945.9H794.6ZM794.6 913.1H813.9V916.4H794.6ZM731.6 849.1H854.9V852.4H731.6ZM643.1 849.1H678.9V852.4H643.1ZM759.6 779.6H763.4V852.4H759.6ZM689.1 716.1H763.9V719.9H689.1ZM646.1 614.1H649.9V852.4H646.1ZM646.1 614.1H824.9V617.9H646.1ZM1168.1 997.6H1221.9V1001.4H1168.1ZM1091.6 997.6H1095.4V1163.9H1091.6ZM943.1 1160.1H1017.9V1163.9H943.1ZM1014.6 1145.1H1017.9V1163.9H1014.6ZM943.1 934.6H946.9V1163.9H943.1ZM943.1 997.6H1046.9V1001.4H943.1ZM1035.6 975.1H1038.9V1001.4H1035.6ZM1035.6 884.6H1038.9V937.9H1035.6ZM978.1 934.6H1038.9V937.9H978.1ZM1092.1 849.1H1095.4V945.9H1092.1ZM1076.1 913.1H1095.4V916.4H1076.1ZM1035.1 849.1H1158.4V852.4H1035.1ZM1211.1 849.1H1246.9V852.4H1211.1ZM293.6 458.6H538V463.4H293.6ZM293.6 458.6H297.4V492.9H293.6ZM293.6 583.5H297.4V618H293.6ZM293.6 613.5H375.4V618H293.6ZM378.1 613.5H385.9V720H378.1ZM378.1 613.5H538V621.9H378.1ZM378.1 711.5H538V720H378.1ZM530 613.5H538V644.7H530ZM530 689.5H538V720H530ZM1352.8 458.6H1511.5V463.4H1352.8ZM1507.5 537.1H1511.5V642.5H1507.5ZM1352.8 716H1511.5V720.2H1352.8ZM1137 613.5H1145.2V720.2H1137ZM1137 613.5H1243.5V622H1137ZM1137 711.5H1243.5V720.2H1137ZM1235 613.5H1243.5V644.7H1235ZM1235 689.5H1243.5V720.2H1235ZM1239.6 724.1H1243.4V852.9H1239.6ZM1126.6 716.1H1130.9V720.4H1126.6ZM1126.6 780.6H1130.9V786.9H1126.6ZM1126.6 824.1H1130.4V852.9H1126.6ZM1061.1 614.1H1243.4V617.4H1061.1Z" fill="#fff"/>
<g><path d="M1360 535H1505M1360 546.5H1428.3M1435.5 546.5H1505M1360 558H1428.3M1435.5 558H1505M1360 569.5H1428.3M1435.5 569.5H1505M1360 581H1428.3M1435.5 581H1505M1360 592.5H1428.3M1435.5 592.5H1505M1360 604H1428.3M1435.5 604H1505M1360 615.5H1428.3M1435.5 615.5H1505M1360 627H1428.3M1435.5 627H1505M1428.3 535V627M1435.5 535V627" fill="none" stroke="#0a0aff" stroke-width="1.6"/><path d="M369.3 466V534M369.3 541.7V611.5M380.9 466V534M380.9 541.7V611.5M392.4 466V534M392.4 541.7V611.5M404 466V534M404 541.7V611.5M415.6 466V534M415.6 541.7V611.5M427.2 466V534M427.2 541.7V611.5M438.7 466V534M438.7 541.7V611.5M450.3 466V534M450.3 541.7V611.5M461.9 466V534M461.9 541.7V611.5M368.4 534H462.8M368.4 541.7H462.8" fill="none" stroke="#0a0aff" stroke-width="1.9"/><path d="M309 246.3L339 246.3" stroke="#7ab8f0" stroke-width="0.8" fill="none"/><path d="M84.6 247L84.6 280" stroke="#7ab8f0" stroke-width="0.8" fill="none"/><path d="M309 932.2L339 932.2" stroke="#7ab8f0" stroke-width="0.8" fill="none"/><path d="M84.6 931.5L84.6 898.5" stroke="#7ab8f0" stroke-width="0.8" fill="none"/><path d="M1581 246.3L1551 246.3" stroke="#7ab8f0" stroke-width="0.8" fill="none"/><path d="M1805.4 184L1805.4 215" stroke="#7ab8f0" stroke-width="0.8" fill="none"/><path d="M1581 932.2L1551 932.2" stroke="#7ab8f0" stroke-width="0.8" fill="none"/><path d="M1805.4 994.5L1805.4 963.5" stroke="#7ab8f0" stroke-width="0.8" fill="none"/><path d="M856.3 206L856.3 236" stroke="#7ab8f0" stroke-width="0.8" fill="none"/><path d="M816 266.3L846 266.3" stroke="#7ab8f0" stroke-width="0.8" fill="none"/><path d="M1033.7 206L1033.7 236" stroke="#7ab8f0" stroke-width="0.8" fill="none"/><path d="M1074 266.3L1044 266.3" stroke="#7ab8f0" stroke-width="0.8" fill="none"/><path d="M856.3 972.5L856.3 942.5" stroke="#7ab8f0" stroke-width="0.8" fill="none"/><path d="M816 912.2L846 912.2" stroke="#7ab8f0" stroke-width="0.8" fill="none"/><path d="M1033.7 972.5L1033.7 942.5" stroke="#7ab8f0" stroke-width="0.8" fill="none"/><path d="M1074 912.2L1044 912.2" stroke="#7ab8f0" stroke-width="0.8" fill="none"/><path d="M461.8 500.6H334.2V577.3H461.8M450.2 541.7L462 577.3L450.2 611.5" fill="none" stroke="#000" stroke-width="2.1"/><path d="M1394 627V498.1H1471.3V627M1435.5 616L1471.3 627.5L1505 616" fill="none" stroke="#000" stroke-width="2.1"/><rect x="423" y="274.5" width="123" height="13.5" fill="#fff" stroke="#ff1010" stroke-width="1.5"/><rect x="641" y="286.6" width="123.5" height="13.4" fill="#fff" stroke="#ff1010" stroke-width="1.5"/><rect x="1122.5" y="286.6" width="123.5" height="13.4" fill="#fff" stroke="#ff1010" stroke-width="1.5"/><rect x="1346" y="272.5" width="124.5" height="13.5" fill="#fff" stroke="#ff1010" stroke-width="1.5"/><rect x="417" y="870.5" width="123" height="14" fill="#fff" stroke="#ff1010" stroke-width="1.5"/><rect x="642.5" y="860" width="123" height="13.3" fill="#fff" stroke="#ff1010" stroke-width="1.5"/><rect x="1123" y="858.3" width="124" height="13.7" fill="#fff" stroke="#ff1010" stroke-width="1.5"/><rect x="1351" y="870.5" width="124" height="14.5" fill="#fff" stroke="#ff1010" stroke-width="1.5"/></g>
<g><rect x="361" y="178.5" width="39.4" height="3.9" fill="#fff" stroke="#b5621a" stroke-width="1.35"/><rect x="381.9" y="175.4" width="37.1" height="3.3" fill="#fff" stroke="#b5621a" stroke-width="1.35"/><path d="M385 387.5A30.5 30.5 0 0 1 415.5 357" fill="none" stroke="#b0601a" stroke-width="1.3"/><path d="M415.5 387.5L385 387.5" stroke="#b5651d" stroke-width="2.8" fill="none"/><rect x="413.7" y="385.7" width="3.6" height="3.6" fill="none" stroke="#b0601a" stroke-width="0.9"/><rect x="413.7" y="355.2" width="3.6" height="3.6" fill="none" stroke="#b0601a" stroke-width="0.9"/><path d="M338 142.5A37.5 37.5 0 0 0 300.5 180" fill="none" stroke="#b0601a" stroke-width="1.3"/><path d="M338 180L338 142.5" stroke="#b5651d" stroke-width="2.8" fill="none"/><rect x="336.2" y="178.2" width="3.6" height="3.6" fill="none" stroke="#b0601a" stroke-width="0.9"/><rect x="298.7" y="178.2" width="3.6" height="3.6" fill="none" stroke="#b0601a" stroke-width="0.9"/><path d="M339 274A33 33 0 0 1 309 244" fill="none" stroke="#b0601a" stroke-width="1.3"/><path d="M339 241L339 274" stroke="#b5651d" stroke-width="2.8" fill="none"/><rect x="337.2" y="239.2" width="3.6" height="3.6" fill="none" stroke="#b0601a" stroke-width="0.9"/><rect x="307.2" y="242.2" width="3.6" height="3.6" fill="none" stroke="#b0601a" stroke-width="0.9"/><path d="M585.5 286A44 44 0 0 0 542 330" fill="none" stroke="#b0601a" stroke-width="1.3"/><path d="M585.5 330L585.5 286" stroke="#b5651d" stroke-width="2.8" fill="none"/><rect x="583.7" y="328.2" width="3.6" height="3.6" fill="none" stroke="#b0601a" stroke-width="0.9"/><rect x="540.2" y="328.2" width="3.6" height="3.6" fill="none" stroke="#b0601a" stroke-width="0.9"/><rect x="104" y="178.5" width="38.1" height="3.9" fill="#fff" stroke="#b5621a" stroke-width="1.35"/><rect x="124.2" y="175.4" width="35.8" height="3.3" fill="#fff" stroke="#b5621a" stroke-width="1.35"/><path d="M244 185A38 38 0 0 0 282 222.5" fill="none" stroke="#b0601a" stroke-width="1.3"/><path d="M282 185L244 185" stroke="#b5651d" stroke-width="2.8" fill="none"/><rect x="280.2" y="183.2" width="3.6" height="3.6" fill="none" stroke="#b0601a" stroke-width="0.9"/><rect x="280.2" y="220.7" width="3.6" height="3.6" fill="none" stroke="#b0601a" stroke-width="0.9"/><path d="M57.5 247.5A30.5 30.5 0 0 0 88 280" fill="none" stroke="#b0601a" stroke-width="1.3"/><path d="M88 247.5L57.5 247.5" stroke="#b5651d" stroke-width="2.8" fill="none"/><rect x="86.2" y="245.7" width="3.6" height="3.6" fill="none" stroke="#b0601a" stroke-width="0.9"/><rect x="86.2" y="278.2" width="3.6" height="3.6" fill="none" stroke="#b0601a" stroke-width="0.9"/><rect x="361" y="999.9" width="39.4" height="3.9" fill="#fff" stroke="#b5621a" stroke-width="1.35"/><rect x="381.9" y="996.8" width="37.1" height="3.3" fill="#fff" stroke="#b5621a" stroke-width="1.35"/><path d="M385 791A30.5 30.5 0 0 0 415.5 821.5" fill="none" stroke="#b0601a" stroke-width="1.3"/><path d="M415.5 791L385 791" stroke="#b5651d" stroke-width="2.8" fill="none"/><rect x="413.7" y="789.2" width="3.6" height="3.6" fill="none" stroke="#b0601a" stroke-width="0.9"/><rect x="413.7" y="819.7" width="3.6" height="3.6" fill="none" stroke="#b0601a" stroke-width="0.9"/><path d="M338 1036A37.5 37.5 0 0 1 300.5 998.5" fill="none" stroke="#b0601a" stroke-width="1.3"/><path d="M338 998.5L338 1036" stroke="#b5651d" stroke-width="2.8" fill="none"/><rect x="336.2" y="996.7" width="3.6" height="3.6" fill="none" stroke="#b0601a" stroke-width="0.9"/><rect x="298.7" y="996.7" width="3.6" height="3.6" fill="none" stroke="#b0601a" stroke-width="0.9"/><path d="M339 904.5A33 33 0 0 0 309 934.5" fill="none" stroke="#b0601a" stroke-width="1.3"/><path d="M339 937.5L339 904.5" stroke="#b5651d" stroke-width="2.8" fill="none"/><rect x="337.2" y="935.7" width="3.6" height="3.6" fill="none" stroke="#b0601a" stroke-width="0.9"/><rect x="307.2" y="932.7" width="3.6" height="3.6" fill="none" stroke="#b0601a" stroke-width="0.9"/><path d="M585.5 892.5A44 44 0 0 1 542 848.5" fill="none" stroke="#b0601a" stroke-width="1.3"/><path d="M585.5 848.5L585.5 892.5" stroke="#b5651d" stroke-width="2.8" fill="none"/><rect x="583.7" y="846.7" width="3.6" height="3.6" fill="none" stroke="#b0601a" stroke-width="0.9"/><rect x="540.2" y="846.7" width="3.6" height="3.6" fill="none" stroke="#b0601a" stroke-width="0.9"/><rect x="104" y="999.9" width="38.1" height="3.9" fill="#fff" stroke="#b5621a" stroke-width="1.35"/><rect x="124.2" y="996.8" width="35.8" height="3.3" fill="#fff" stroke="#b5621a" stroke-width="1.35"/><path d="M244 993.5A38 38 0 0 1 282 956" fill="none" stroke="#b0601a" stroke-width="1.3"/><path d="M282 993.5L244 993.5" stroke="#b5651d" stroke-width="2.8" fill="none"/><rect x="280.2" y="991.7" width="3.6" height="3.6" fill="none" stroke="#b0601a" stroke-width="0.9"/><rect x="280.2" y="954.2" width="3.6" height="3.6" fill="none" stroke="#b0601a" stroke-width="0.9"/><path d="M57.5 931A30.5 30.5 0 0 1 88 898.5" fill="none" stroke="#b0601a" stroke-width="1.3"/><path d="M88 931L57.5 931" stroke="#b5651d" stroke-width="2.8" fill="none"/><rect x="86.2" y="929.2" width="3.6" height="3.6" fill="none" stroke="#b0601a" stroke-width="0.9"/><rect x="86.2" y="896.7" width="3.6" height="3.6" fill="none" stroke="#b0601a" stroke-width="0.9"/><rect x="1489.6" y="178.5" width="39.4" height="3.9" fill="#fff" stroke="#b5621a" stroke-width="1.35"/><rect x="1471" y="175.4" width="37.1" height="3.3" fill="#fff" stroke="#b5621a" stroke-width="1.35"/><path d="M1505 387.5A30.5 30.5 0 0 0 1474.5 357" fill="none" stroke="#b0601a" stroke-width="1.3"/><path d="M1474.5 387.5L1505 387.5" stroke="#b5651d" stroke-width="2.8" fill="none"/><rect x="1472.7" y="385.7" width="3.6" height="3.6" fill="none" stroke="#b0601a" stroke-width="0.9"/><rect x="1472.7" y="355.2" width="3.6" height="3.6" fill="none" stroke="#b0601a" stroke-width="0.9"/><path d="M1552 142.5A37.5 37.5 0 0 1 1589.5 180" fill="none" stroke="#b0601a" stroke-width="1.3"/><path d="M1552 180L1552 142.5" stroke="#b5651d" stroke-width="2.8" fill="none"/><rect x="1550.2" y="178.2" width="3.6" height="3.6" fill="none" stroke="#b0601a" stroke-width="0.9"/><rect x="1587.7" y="178.2" width="3.6" height="3.6" fill="none" stroke="#b0601a" stroke-width="0.9"/><path d="M1551 274A33 33 0 0 0 1581 244" fill="none" stroke="#b0601a" stroke-width="1.3"/><path d="M1551 241L1551 274" stroke="#b5651d" stroke-width="2.8" fill="none"/><rect x="1549.2" y="239.2" width="3.6" height="3.6" fill="none" stroke="#b0601a" stroke-width="0.9"/><rect x="1579.2" y="242.2" width="3.6" height="3.6" fill="none" stroke="#b0601a" stroke-width="0.9"/><path d="M1304.5 286A44 44 0 0 1 1348 330" fill="none" stroke="#b0601a" stroke-width="1.3"/><path d="M1304.5 330L1304.5 286" stroke="#b5651d" stroke-width="2.8" fill="none"/><rect x="1302.7" y="328.2" width="3.6" height="3.6" fill="none" stroke="#b0601a" stroke-width="0.9"/><rect x="1346.2" y="328.2" width="3.6" height="3.6" fill="none" stroke="#b0601a" stroke-width="0.9"/><rect x="1747.6" y="178.5" width="39.4" height="3.9" fill="#fff" stroke="#b5621a" stroke-width="1.35"/><rect x="1729" y="175.4" width="37.1" height="3.3" fill="#fff" stroke="#b5621a" stroke-width="1.35"/><path d="M1646 185A38 38 0 0 1 1608 222.5" fill="none" stroke="#b0601a" stroke-width="1.3"/><path d="M1608 185L1646 185" stroke="#b5651d" stroke-width="2.8" fill="none"/><rect x="1606.2" y="183.2" width="3.6" height="3.6" fill="none" stroke="#b0601a" stroke-width="0.9"/><rect x="1606.2" y="220.7" width="3.6" height="3.6" fill="none" stroke="#b0601a" stroke-width="0.9"/><path d="M1833 215A31 31 0 0 0 1802 183.5" fill="none" stroke="#b0601a" stroke-width="1.3"/><path d="M1802 215L1833 215" stroke="#b5651d" stroke-width="2.8" fill="none"/><rect x="1800.2" y="213.2" width="3.6" height="3.6" fill="none" stroke="#b0601a" stroke-width="0.9"/><rect x="1800.2" y="181.7" width="3.6" height="3.6" fill="none" stroke="#b0601a" stroke-width="0.9"/><rect x="1489.6" y="999.9" width="39.4" height="3.9" fill="#fff" stroke="#b5621a" stroke-width="1.35"/><rect x="1471" y="996.8" width="37.1" height="3.3" fill="#fff" stroke="#b5621a" stroke-width="1.35"/><path d="M1505 791A30.5 30.5 0 0 1 1474.5 821.5" fill="none" stroke="#b0601a" stroke-width="1.3"/><path d="M1474.5 791L1505 791" stroke="#b5651d" stroke-width="2.8" fill="none"/><rect x="1472.7" y="789.2" width="3.6" height="3.6" fill="none" stroke="#b0601a" stroke-width="0.9"/><rect x="1472.7" y="819.7" width="3.6" height="3.6" fill="none" stroke="#b0601a" stroke-width="0.9"/><path d="M1552 1036A37.5 37.5 0 0 0 1589.5 998.5" fill="none" stroke="#b0601a" stroke-width="1.3"/><path d="M1552 998.5L1552 1036" stroke="#b5651d" stroke-width="2.8" fill="none"/><rect x="1550.2" y="996.7" width="3.6" height="3.6" fill="none" stroke="#b0601a" stroke-width="0.9"/><rect x="1587.7" y="996.7" width="3.6" height="3.6" fill="none" stroke="#b0601a" stroke-width="0.9"/><path d="M1551 904.5A33 33 0 0 1 1581 934.5" fill="none" stroke="#b0601a" stroke-width="1.3"/><path d="M1551 937.5L1551 904.5" stroke="#b5651d" stroke-width="2.8" fill="none"/><rect x="1549.2" y="935.7" width="3.6" height="3.6" fill="none" stroke="#b0601a" stroke-width="0.9"/><rect x="1579.2" y="932.7" width="3.6" height="3.6" fill="none" stroke="#b0601a" stroke-width="0.9"/><path d="M1304.5 892.5A44 44 0 0 0 1348 848.5" fill="none" stroke="#b0601a" stroke-width="1.3"/><path d="M1304.5 848.5L1304.5 892.5" stroke="#b5651d" stroke-width="2.8" fill="none"/><rect x="1302.7" y="846.7" width="3.6" height="3.6" fill="none" stroke="#b0601a" stroke-width="0.9"/><rect x="1346.2" y="846.7" width="3.6" height="3.6" fill="none" stroke="#b0601a" stroke-width="0.9"/><rect x="1747.6" y="999.9" width="39.4" height="3.9" fill="#fff" stroke="#b5621a" stroke-width="1.35"/><rect x="1729" y="996.8" width="37.1" height="3.3" fill="#fff" stroke="#b5621a" stroke-width="1.35"/><path d="M1646 993.5A38 38 0 0 0 1608 956" fill="none" stroke="#b0601a" stroke-width="1.3"/><path d="M1608 993.5L1646 993.5" stroke="#b5651d" stroke-width="2.8" fill="none"/><rect x="1606.2" y="991.7" width="3.6" height="3.6" fill="none" stroke="#b0601a" stroke-width="0.9"/><rect x="1606.2" y="954.2" width="3.6" height="3.6" fill="none" stroke="#b0601a" stroke-width="0.9"/><path d="M1833 963.5A31 31 0 0 1 1802 995" fill="none" stroke="#b0601a" stroke-width="1.3"/><path d="M1802 963.5L1833 963.5" stroke="#b5651d" stroke-width="2.8" fill="none"/><rect x="1800.2" y="961.7" width="3.6" height="3.6" fill="none" stroke="#b0601a" stroke-width="0.9"/><rect x="1800.2" y="993.2" width="3.6" height="3.6" fill="none" stroke="#b0601a" stroke-width="0.9"/><rect x="741.9" y="178.5" width="38.1" height="3.9" fill="#fff" stroke="#b5621a" stroke-width="1.35"/><rect x="724" y="175.4" width="35.8" height="3.3" fill="#fff" stroke="#b5621a" stroke-width="1.35"/><path d="M802 142.5A37.5 37.5 0 0 1 841 180" fill="none" stroke="#b0601a" stroke-width="1.3"/><path d="M802 180L802 142.5" stroke="#b5651d" stroke-width="2.8" fill="none"/><rect x="800.2" y="178.2" width="3.6" height="3.6" fill="none" stroke="#b0601a" stroke-width="0.9"/><rect x="839.2" y="178.2" width="3.6" height="3.6" fill="none" stroke="#b0601a" stroke-width="0.9"/><path d="M883 236.5A30.5 30.5 0 0 0 852.5 205.5" fill="none" stroke="#b0601a" stroke-width="1.3"/><path d="M852.5 236.5L883 236.5" stroke="#b5651d" stroke-width="2.8" fill="none"/><rect x="850.7" y="234.7" width="3.6" height="3.6" fill="none" stroke="#b0601a" stroke-width="0.9"/><rect x="850.7" y="203.7" width="3.6" height="3.6" fill="none" stroke="#b0601a" stroke-width="0.9"/><path d="M846.5 294.5A32.5 32.5 0 0 1 815.5 262" fill="none" stroke="#b0601a" stroke-width="1.3"/><path d="M846.5 262L846.5 294.5" stroke="#b5651d" stroke-width="2.8" fill="none"/><rect x="844.7" y="260.2" width="3.6" height="3.6" fill="none" stroke="#b0601a" stroke-width="0.9"/><rect x="813.7" y="260.2" width="3.6" height="3.6" fill="none" stroke="#b0601a" stroke-width="0.9"/><path d="M599.5 286A44 44 0 0 1 643 330" fill="none" stroke="#b0601a" stroke-width="1.3"/><path d="M599.5 330L599.5 286" stroke="#b5651d" stroke-width="2.8" fill="none"/><rect x="597.7" y="328.2" width="3.6" height="3.6" fill="none" stroke="#b0601a" stroke-width="0.9"/><rect x="641.2" y="328.2" width="3.6" height="3.6" fill="none" stroke="#b0601a" stroke-width="0.9"/><path d="M654 477.5A32.5 32.5 0 0 0 687 445" fill="none" stroke="#b0601a" stroke-width="1.3"/><path d="M654 445L654 477.5" stroke="#b5651d" stroke-width="2.8" fill="none"/><rect x="652.2" y="443.2" width="3.6" height="3.6" fill="none" stroke="#b0601a" stroke-width="0.9"/><rect x="685.2" y="443.2" width="3.6" height="3.6" fill="none" stroke="#b0601a" stroke-width="0.9"/><rect x="1110" y="178.5" width="38.1" height="3.9" fill="#fff" stroke="#b5621a" stroke-width="1.35"/><rect x="1130.2" y="175.4" width="35.8" height="3.3" fill="#fff" stroke="#b5621a" stroke-width="1.35"/><path d="M1088 142.5A37.5 37.5 0 0 0 1049 180" fill="none" stroke="#b0601a" stroke-width="1.3"/><path d="M1088 180L1088 142.5" stroke="#b5651d" stroke-width="2.8" fill="none"/><rect x="1086.2" y="178.2" width="3.6" height="3.6" fill="none" stroke="#b0601a" stroke-width="0.9"/><rect x="1047.2" y="178.2" width="3.6" height="3.6" fill="none" stroke="#b0601a" stroke-width="0.9"/><path d="M1007 236.5A30.5 30.5 0 0 1 1037.5 205.5" fill="none" stroke="#b0601a" stroke-width="1.3"/><path d="M1037.5 236.5L1007 236.5" stroke="#b5651d" stroke-width="2.8" fill="none"/><rect x="1035.7" y="234.7" width="3.6" height="3.6" fill="none" stroke="#b0601a" stroke-width="0.9"/><rect x="1035.7" y="203.7" width="3.6" height="3.6" fill="none" stroke="#b0601a" stroke-width="0.9"/><path d="M1043.5 294.5A32.5 32.5 0 0 0 1074.5 262" fill="none" stroke="#b0601a" stroke-width="1.3"/><path d="M1043.5 262L1043.5 294.5" stroke="#b5651d" stroke-width="2.8" fill="none"/><rect x="1041.7" y="260.2" width="3.6" height="3.6" fill="none" stroke="#b0601a" stroke-width="0.9"/><rect x="1072.7" y="260.2" width="3.6" height="3.6" fill="none" stroke="#b0601a" stroke-width="0.9"/><path d="M1290.5 286A44 44 0 0 0 1247 330" fill="none" stroke="#b0601a" stroke-width="1.3"/><path d="M1290.5 330L1290.5 286" stroke="#b5651d" stroke-width="2.8" fill="none"/><rect x="1288.7" y="328.2" width="3.6" height="3.6" fill="none" stroke="#b0601a" stroke-width="0.9"/><rect x="1245.2" y="328.2" width="3.6" height="3.6" fill="none" stroke="#b0601a" stroke-width="0.9"/><path d="M1236 477.5A32.5 32.5 0 0 1 1203 445" fill="none" stroke="#b0601a" stroke-width="1.3"/><path d="M1236 445L1236 477.5" stroke="#b5651d" stroke-width="2.8" fill="none"/><rect x="1234.2" y="443.2" width="3.6" height="3.6" fill="none" stroke="#b0601a" stroke-width="0.9"/><rect x="1201.2" y="443.2" width="3.6" height="3.6" fill="none" stroke="#b0601a" stroke-width="0.9"/><rect x="741.9" y="999.9" width="38.1" height="3.9" fill="#fff" stroke="#b5621a" stroke-width="1.35"/><rect x="724" y="996.8" width="35.8" height="3.3" fill="#fff" stroke="#b5621a" stroke-width="1.35"/><path d="M802 1036A37.5 37.5 0 0 0 841 998.5" fill="none" stroke="#b0601a" stroke-width="1.3"/><path d="M802 998.5L802 1036" stroke="#b5651d" stroke-width="2.8" fill="none"/><rect x="800.2" y="996.7" width="3.6" height="3.6" fill="none" stroke="#b0601a" stroke-width="0.9"/><rect x="839.2" y="996.7" width="3.6" height="3.6" fill="none" stroke="#b0601a" stroke-width="0.9"/><path d="M883 942A30.5 30.5 0 0 1 852.5 973" fill="none" stroke="#b0601a" stroke-width="1.3"/><path d="M852.5 942L883 942" stroke="#b5651d" stroke-width="2.8" fill="none"/><rect x="850.7" y="940.2" width="3.6" height="3.6" fill="none" stroke="#b0601a" stroke-width="0.9"/><rect x="850.7" y="971.2" width="3.6" height="3.6" fill="none" stroke="#b0601a" stroke-width="0.9"/><path d="M846.5 884A32.5 32.5 0 0 0 815.5 916.5" fill="none" stroke="#b0601a" stroke-width="1.3"/><path d="M846.5 916.5L846.5 884" stroke="#b5651d" stroke-width="2.8" fill="none"/><rect x="844.7" y="914.7" width="3.6" height="3.6" fill="none" stroke="#b0601a" stroke-width="0.9"/><rect x="813.7" y="914.7" width="3.6" height="3.6" fill="none" stroke="#b0601a" stroke-width="0.9"/><path d="M599.5 892.5A44 44 0 0 0 643 848.5" fill="none" stroke="#b0601a" stroke-width="1.3"/><path d="M599.5 848.5L599.5 892.5" stroke="#b5651d" stroke-width="2.8" fill="none"/><rect x="597.7" y="846.7" width="3.6" height="3.6" fill="none" stroke="#b0601a" stroke-width="0.9"/><rect x="641.2" y="846.7" width="3.6" height="3.6" fill="none" stroke="#b0601a" stroke-width="0.9"/><path d="M654 687.5A32.5 32.5 0 0 1 687 720" fill="none" stroke="#b0601a" stroke-width="1.3"/><path d="M654 720L654 687.5" stroke="#b5651d" stroke-width="2.8" fill="none"/><rect x="652.2" y="718.2" width="3.6" height="3.6" fill="none" stroke="#b0601a" stroke-width="0.9"/><rect x="685.2" y="718.2" width="3.6" height="3.6" fill="none" stroke="#b0601a" stroke-width="0.9"/><rect x="1110" y="999.9" width="38.1" height="3.9" fill="#fff" stroke="#b5621a" stroke-width="1.35"/><rect x="1130.2" y="996.8" width="35.8" height="3.3" fill="#fff" stroke="#b5621a" stroke-width="1.35"/><path d="M1088 1036A37.5 37.5 0 0 1 1049 998.5" fill="none" stroke="#b0601a" stroke-width="1.3"/><path d="M1088 998.5L1088 1036" stroke="#b5651d" stroke-width="2.8" fill="none"/><rect x="1086.2" y="996.7" width="3.6" height="3.6" fill="none" stroke="#b0601a" stroke-width="0.9"/><rect x="1047.2" y="996.7" width="3.6" height="3.6" fill="none" stroke="#b0601a" stroke-width="0.9"/><path d="M1007 942A30.5 30.5 0 0 0 1037.5 973" fill="none" stroke="#b0601a" stroke-width="1.3"/><path d="M1037.5 942L1007 942" stroke="#b5651d" stroke-width="2.8" fill="none"/><rect x="1035.7" y="940.2" width="3.6" height="3.6" fill="none" stroke="#b0601a" stroke-width="0.9"/><rect x="1035.7" y="971.2" width="3.6" height="3.6" fill="none" stroke="#b0601a" stroke-width="0.9"/><path d="M1043.5 884A32.5 32.5 0 0 1 1074.5 916.5" fill="none" stroke="#b0601a" stroke-width="1.3"/><path d="M1043.5 916.5L1043.5 884" stroke="#b5651d" stroke-width="2.8" fill="none"/><rect x="1041.7" y="914.7" width="3.6" height="3.6" fill="none" stroke="#b0601a" stroke-width="0.9"/><rect x="1072.7" y="914.7" width="3.6" height="3.6" fill="none" stroke="#b0601a" stroke-width="0.9"/><path d="M1290.5 892.5A44 44 0 0 1 1247 848.5" fill="none" stroke="#b0601a" stroke-width="1.3"/><path d="M1290.5 848.5L1290.5 892.5" stroke="#b5651d" stroke-width="2.8" fill="none"/><rect x="1288.7" y="846.7" width="3.6" height="3.6" fill="none" stroke="#b0601a" stroke-width="0.9"/><rect x="1245.2" y="846.7" width="3.6" height="3.6" fill="none" stroke="#b0601a" stroke-width="0.9"/><path d="M1097.5 790.5A31 31 0 0 0 1128.5 822" fill="none" stroke="#b0601a" stroke-width="1.3"/><path d="M1128.5 790.5L1097.5 790.5" stroke="#b5651d" stroke-width="2.8" fill="none"/><rect x="1126.7" y="788.7" width="3.6" height="3.6" fill="none" stroke="#b0601a" stroke-width="0.9"/><rect x="1126.7" y="820.2" width="3.6" height="3.6" fill="none" stroke="#b0601a" stroke-width="0.9"/></g>
<g><text transform="translate(142 123.9) scale(0.832 1)" font-size="12.4" fill="#262626" text-anchor="middle" >TERRACE</text><text transform="translate(142 137.3) scale(0.832 1)" font-size="12.4" fill="#262626" text-anchor="middle" >7'3" X 6'0"</text><text transform="translate(254.5 111.4) scale(0.832 1)" font-size="12.4" fill="#262626" text-anchor="middle" >BEDROOM</text><text transform="translate(254.5 124.8) scale(0.832 1)" font-size="12.4" fill="#262626" text-anchor="middle" >10'0" X 10'0"</text><text transform="translate(408 123.9) scale(0.832 1)" font-size="12.4" fill="#262626" text-anchor="middle" >TERRACE</text><text transform="translate(408 137.3) scale(0.832 1)" font-size="12.4" fill="#262626" text-anchor="middle" >8'3" X 8'0"</text><text transform="translate(195.5 206.9) scale(0.832 1)" font-size="12.4" fill="#262626" text-anchor="middle" >M.BEDROOM</text><text transform="translate(195.5 220.3) scale(0.832 1)" font-size="12.4" fill="#262626" text-anchor="middle" >13'3" X 11'6"</text><text transform="translate(59 300.7) scale(0.832 1)" font-size="12.4" fill="#262626" text-anchor="middle" >TOILET</text><text transform="translate(59 314.4) scale(0.832 1)" font-size="12.4" fill="#262626" text-anchor="middle" >4'0" X 7'0"</text><text transform="translate(312.5 291.4) scale(0.832 1)" font-size="12.4" fill="#262626" text-anchor="middle" >TOILET</text><text transform="translate(312.5 305) scale(0.832 1)" font-size="12.4" fill="#262626" text-anchor="middle" >4'0" X 7'0"</text><text transform="translate(374 341.9) scale(0.832 1)" font-size="12.4" fill="#262626" text-anchor="middle" >DRY</text><text transform="translate(374 355.3) scale(0.832 1)" font-size="12.4" fill="#262626" text-anchor="middle" >TERRACE</text><text transform="translate(374 368.7) scale(0.832 1)" font-size="12.4" fill="#262626" text-anchor="middle" >4'6" X 4'3"</text><text transform="translate(484.5 285.3) scale(0.875 1)" font-size="10.6" fill="#ff2020" text-anchor="middle" >101,301,501,701,901,1301</text><text transform="translate(485 298.4) scale(0.832 1)" font-size="12.4" fill="#262626" text-anchor="middle" >LIVING &amp; DINING</text><text transform="translate(485 312.2) scale(0.832 1)" font-size="12.4" fill="#262626" text-anchor="middle" >17'0" X 10'0"</text><text transform="translate(474.6 386) scale(0.832 1)" font-size="12.4" fill="#262626" text-anchor="middle" >KITCHEN</text><text transform="translate(474.6 399.6) scale(0.832 1)" font-size="12.4" fill="#262626" text-anchor="middle" >8'0" X 9'0"</text><text transform="translate(747 123.9) scale(0.832 1)" font-size="12.4" fill="#262626" text-anchor="middle" >TERRACE</text><text transform="translate(747 137.3) scale(0.832 1)" font-size="12.4" fill="#262626" text-anchor="middle" >6'9" X 8'0"</text><text transform="translate(883 111.4) scale(0.832 1)" font-size="12.4" fill="#262626" text-anchor="middle" >BEDROOM</text><text transform="translate(883 124.8) scale(0.832 1)" font-size="12.4" fill="#262626" text-anchor="middle" >10'0" X 10'0"</text><text transform="translate(906.3 208.9) scale(0.832 1)" font-size="12.4" fill="#262626" text-anchor="middle" >BATH</text><text transform="translate(906.3 222.3) scale(0.832 1)" font-size="12.4" fill="#262626" text-anchor="middle" >6'0" X 4'0"</text><text transform="translate(702.8 297.4) scale(0.875 1)" font-size="10.6" fill="#ff2020" text-anchor="middle" >102,302,502,702,902,1302</text><text transform="translate(702.5 309.4) scale(0.832 1)" font-size="12.4" fill="#262626" text-anchor="middle" >LIVING</text><text transform="translate(702.5 322.2) scale(0.832 1)" font-size="12.4" fill="#262626" text-anchor="middle" >14'0" X 10'0"</text><text transform="translate(696 388.4) scale(0.832 1)" font-size="12.4" fill="#262626" text-anchor="middle" >KITCHEN</text><text transform="translate(696 401.7) scale(0.832 1)" font-size="12.4" fill="#262626" text-anchor="middle" >7'6" X 8'0"</text><text transform="translate(824.5 305.9) scale(0.832 1)" font-size="12.4" fill="#262626" text-anchor="middle" >W.C</text><text transform="translate(824.5 319.5) scale(0.832 1)" font-size="12.4" fill="#262626" text-anchor="middle" >3'6" X 4'0"</text><text transform="translate(945 291.9) scale(0.832 1)" font-size="12.4" fill="#262626" text-anchor="middle" >DUCT</text><text transform="translate(945 434.9) scale(0.832 1)" font-size="12.4" fill="#262626" text-anchor="middle" >DUCT</text><text transform="translate(678.5 490.4) scale(0.832 1)" font-size="12.4" fill="#262626" text-anchor="middle" >DRY</text><text transform="translate(678.5 503.9) scale(0.832 1)" font-size="12.4" fill="#262626" text-anchor="middle" >TERRACE</text><text transform="translate(678.5 517.4) scale(0.832 1)" font-size="12.4" fill="#262626" text-anchor="middle" >3'6" X 6'0"</text><text transform="translate(1002 111.4) scale(0.832 1)" font-size="12.4" fill="#262626" text-anchor="middle" >BEDROOM</text><text transform="translate(1002 124.8) scale(0.832 1)" font-size="12.4" fill="#262626" text-anchor="middle" >10'0" X 10'0"</text><text transform="translate(982.5 208.9) scale(0.832 1)" font-size="12.4" fill="#262626" text-anchor="middle" >BATH</text><text transform="translate(982.5 222.3) scale(0.832 1)" font-size="12.4" fill="#262626" text-anchor="middle" >6'0" X 4'0"</text><text transform="translate(1143 123.9) scale(0.832 1)" font-size="12.4" fill="#262626" text-anchor="middle" >TERRACE</text><text transform="translate(1143 137.3) scale(0.832 1)" font-size="12.4" fill="#262626" text-anchor="middle" >6'9" X 8'0"</text><text transform="translate(1065 305.9) scale(0.832 1)" font-size="12.4" fill="#262626" text-anchor="middle" >W.C</text><text transform="translate(1065 319.5) scale(0.832 1)" font-size="12.4" fill="#262626" text-anchor="middle" >3'6" X 4'0"</text><text transform="translate(1184.2 297.4) scale(0.875 1)" font-size="10.6" fill="#ff2020" text-anchor="middle" >103,303,503,703,903,1303</text><text transform="translate(1186 309.4) scale(0.832 1)" font-size="12.4" fill="#262626" text-anchor="middle" >LIVING</text><text transform="translate(1186 322.2) scale(0.832 1)" font-size="12.4" fill="#262626" text-anchor="middle" >14'0" X 10'0"</text><text transform="translate(1192 385.4) scale(0.832 1)" font-size="12.4" fill="#262626" text-anchor="middle" >KITCHEN</text><text transform="translate(1192 398.7) scale(0.832 1)" font-size="12.4" fill="#262626" text-anchor="middle" >7'6" X 8'0"</text><text transform="translate(1213.5 490.4) scale(0.832 1)" font-size="12.4" fill="#262626" text-anchor="middle" >DRY</text><text transform="translate(1213.5 503.9) scale(0.832 1)" font-size="12.4" fill="#262626" text-anchor="middle" >TERRACE</text><text transform="translate(1213.5 517.4) scale(0.832 1)" font-size="12.4" fill="#262626" text-anchor="middle" >3'6" X 6'0"</text><text transform="translate(1408.2 283.3) scale(0.875 1)" font-size="10.6" fill="#ff2020" text-anchor="middle" >104,304,504,704,904,1304</text><text transform="translate(1410 296.2) scale(0.832 1)" font-size="12.4" fill="#262626" text-anchor="middle" >LIVING &amp; DINING</text><text transform="translate(1410 309.7) scale(0.832 1)" font-size="12.4" fill="#262626" text-anchor="middle" >17'0" X 10'0"</text><text transform="translate(1414 390.4) scale(0.832 1)" font-size="12.4" fill="#262626" text-anchor="middle" >KITCHEN</text><text transform="translate(1414 403.7) scale(0.832 1)" font-size="12.4" fill="#262626" text-anchor="middle" >8'0" X 9'0"</text><text transform="translate(1482 123.9) scale(0.832 1)" font-size="12.4" fill="#262626" text-anchor="middle" >TERRACE</text><text transform="translate(1482 137.3) scale(0.832 1)" font-size="12.4" fill="#262626" text-anchor="middle" >8'3" X 8'0"</text><text transform="translate(1638 111.4) scale(0.832 1)" font-size="12.4" fill="#262626" text-anchor="middle" >BEDROOM</text><text transform="translate(1638 124.8) scale(0.832 1)" font-size="12.4" fill="#262626" text-anchor="middle" >10'0" X 10'0"</text><text transform="translate(1748 123.9) scale(0.832 1)" font-size="12.4" fill="#262626" text-anchor="middle" >TERRACE</text><text transform="translate(1748 137.3) scale(0.832 1)" font-size="12.4" fill="#262626" text-anchor="middle" >7'3" X 10'0"</text><text transform="translate(1839 91.1) scale(0.832 1)" font-size="12.4" fill="#262626" text-anchor="middle" >DUCT</text><text transform="translate(1830.5 134.4) scale(0.832 1)" font-size="12.4" fill="#262626" text-anchor="middle" >TOILET</text><text transform="translate(1830.5 147.9) scale(0.832 1)" font-size="12.4" fill="#262626" text-anchor="middle" >4'0" X 7'0"</text><text transform="translate(1691 208.9) scale(0.832 1)" font-size="12.4" fill="#262626" text-anchor="middle" >M.BEDROOM</text><text transform="translate(1691 222.3) scale(0.832 1)" font-size="12.4" fill="#262626" text-anchor="middle" >13'3" X 11'6"</text><text transform="translate(1575 317.4) scale(0.832 1)" font-size="12.4" fill="#262626" text-anchor="middle" >TOILET</text><text transform="translate(1575 331.1) scale(0.832 1)" font-size="12.4" fill="#262626" text-anchor="middle" >4'0" X 7'0"</text><text transform="translate(1517.5 341.4) scale(0.832 1)" font-size="12.4" fill="#262626" text-anchor="middle" >DRY</text><text transform="translate(1517.5 354.9) scale(0.832 1)" font-size="12.4" fill="#262626" text-anchor="middle" >TERRACE</text><text transform="translate(1517.5 368.4) scale(0.832 1)" font-size="12.4" fill="#262626" text-anchor="middle" >4'6" X 4'3"</text><text transform="translate(470.5 504.4) scale(0.832 1)" font-size="12.4" fill="#262626" text-anchor="middle" >UP</text><text transform="translate(1394.5 639.4) scale(0.832 1)" font-size="12.4" fill="#262626" text-anchor="middle" >UP</text><text transform="translate(454 663.4) scale(0.832 1)" font-size="12.4" fill="#262626" text-anchor="middle" >LIFT</text><text transform="translate(454 676.9) scale(0.832 1)" font-size="12.4" fill="#262626" text-anchor="middle" >10'0" X 6'3"</text><text transform="translate(1186 663.4) scale(0.832 1)" font-size="12.4" fill="#262626" text-anchor="middle" >LIFT</text><text transform="translate(1186 676.9) scale(0.832 1)" font-size="12.4" fill="#262626" text-anchor="middle" >6'3" X 6'3"</text><text transform="translate(592.5 362.9) scale(0.832 1)" font-size="12.4" fill="#262626" text-anchor="middle" >P</text><text transform="translate(592.5 389.9) scale(0.832 1)" font-size="12.4" fill="#262626" text-anchor="middle" >A</text><text transform="translate(592.5 416.9) scale(0.832 1)" font-size="12.4" fill="#262626" text-anchor="middle" >S</text><text transform="translate(592.5 443.7) scale(0.832 1)" font-size="12.4" fill="#262626" text-anchor="middle" >S</text><text transform="translate(592.5 470.4) scale(0.832 1)" font-size="12.4" fill="#262626" text-anchor="middle" >A</text><text transform="translate(592.5 497.4) scale(0.832 1)" font-size="12.4" fill="#262626" text-anchor="middle" >G</text><text transform="translate(592.5 524.4) scale(0.832 1)" font-size="12.4" fill="#262626" text-anchor="middle" >E</text><text transform="translate(592.5 659.4) scale(0.832 1)" font-size="12.4" fill="#262626" text-anchor="middle" >P</text><text transform="translate(592.5 686.4) scale(0.832 1)" font-size="12.4" fill="#262626" text-anchor="middle" >A</text><text transform="translate(592.5 713.4) scale(0.832 1)" font-size="12.4" fill="#262626" text-anchor="middle" >S</text><text transform="translate(592.5 740.4) scale(0.832 1)" font-size="12.4" fill="#262626" text-anchor="middle" >S</text><text transform="translate(592.5 767.4) scale(0.832 1)" font-size="12.4" fill="#262626" text-anchor="middle" >A</text><text transform="translate(592.5 794.4) scale(0.832 1)" font-size="12.4" fill="#262626" text-anchor="middle" >G</text><text transform="translate(592.5 821.4) scale(0.832 1)" font-size="12.4" fill="#262626" text-anchor="middle" >E</text><text transform="translate(1295.5 362.9) scale(0.832 1)" font-size="12.4" fill="#262626" text-anchor="middle" >P</text><text transform="translate(1295.5 389.9) scale(0.832 1)" font-size="12.4" fill="#262626" text-anchor="middle" >A</text><text transform="translate(1295.5 416.9) scale(0.832 1)" font-size="12.4" fill="#262626" text-anchor="middle" >S</text><text transform="translate(1295.5 443.7) scale(0.832 1)" font-size="12.4" fill="#262626" text-anchor="middle" >S</text><text transform="translate(1295.5 470.4) scale(0.832 1)" font-size="12.4" fill="#262626" text-anchor="middle" >A</text><text transform="translate(1295.5 497.4) scale(0.832 1)" font-size="12.4" fill="#262626" text-anchor="middle" >G</text><text transform="translate(1295.5 524.4) scale(0.832 1)" font-size="12.4" fill="#262626" text-anchor="middle" >E</text><text transform="translate(1295.5 659.4) scale(0.832 1)" font-size="12.4" fill="#262626" text-anchor="middle" >P</text><text transform="translate(1295.5 686.4) scale(0.832 1)" font-size="12.4" fill="#262626" text-anchor="middle" >A</text><text transform="translate(1295.5 713.4) scale(0.832 1)" font-size="12.4" fill="#262626" text-anchor="middle" >S</text><text transform="translate(1295.5 740.4) scale(0.832 1)" font-size="12.4" fill="#262626" text-anchor="middle" >S</text><text transform="translate(1295.5 767.4) scale(0.832 1)" font-size="12.4" fill="#262626" text-anchor="middle" >A</text><text transform="translate(1295.5 794.4) scale(0.832 1)" font-size="12.4" fill="#262626" text-anchor="middle" >G</text><text transform="translate(1295.5 821.4) scale(0.832 1)" font-size="12.4" fill="#262626" text-anchor="middle" >E</text><text transform="translate(806 583.2) scale(0.832 1)" font-size="11.8" fill="#262626" text-anchor="middle" >P</text><text transform="translate(829 583.2) scale(0.832 1)" font-size="11.8" fill="#262626" text-anchor="middle" >A</text><text transform="translate(851 583.2) scale(0.832 1)" font-size="11.8" fill="#262626" text-anchor="middle" >S</text><text transform="translate(872 583.2) scale(0.832 1)" font-size="11.8" fill="#262626" text-anchor="middle" >S</text><text transform="translate(894 583.2) scale(0.832 1)" font-size="11.8" fill="#262626" text-anchor="middle" >A</text><text transform="translate(916 583.2) scale(0.832 1)" font-size="11.8" fill="#262626" text-anchor="middle" >G</text><text transform="translate(939 583.2) scale(0.832 1)" font-size="11.8" fill="#262626" text-anchor="middle" >E</text><text transform="translate(969.5 583.2) scale(0.832 1)" font-size="11.8" fill="#262626" text-anchor="middle" >5'0"</text><text transform="translate(1004 583.2) scale(0.832 1)" font-size="11.8" fill="#262626" text-anchor="middle" >W</text><text transform="translate(1026 583.2) scale(0.832 1)" font-size="11.8" fill="#262626" text-anchor="middle" >I</text><text transform="translate(1046 583.2) scale(0.832 1)" font-size="11.8" fill="#262626" text-anchor="middle" >D</text><text transform="translate(1068.5 583.2) scale(0.832 1)" font-size="11.8" fill="#262626" text-anchor="middle" >E</text><text transform="translate(55.5 848.9) scale(0.832 1)" font-size="12.4" fill="#262626" text-anchor="middle" >TOILET</text><text transform="translate(55.5 862.5) scale(0.832 1)" font-size="12.4" fill="#262626" text-anchor="middle" >4'6" X 7'0"</text><text transform="translate(314 856.9) scale(0.832 1)" font-size="12.4" fill="#262626" text-anchor="middle" >TOILET</text><text transform="translate(314 870.4) scale(0.832 1)" font-size="12.4" fill="#262626" text-anchor="middle" >4'0" X 7'0"</text><text transform="translate(374 818.4) scale(0.832 1)" font-size="12.4" fill="#262626" text-anchor="middle" >DRY</text><text transform="translate(374 832) scale(0.832 1)" font-size="12.4" fill="#262626" text-anchor="middle" >TERRACE</text><text transform="translate(374 845.6) scale(0.832 1)" font-size="12.4" fill="#262626" text-anchor="middle" >4'6" X 4'3"</text><text transform="translate(195.5 967.4) scale(0.832 1)" font-size="12.4" fill="#262626" text-anchor="middle" >M.BEDROOM</text><text transform="translate(195.5 981.2) scale(0.832 1)" font-size="12.4" fill="#262626" text-anchor="middle" >13'3" X 11'6"</text><text transform="translate(478.5 881.6) scale(0.875 1)" font-size="10.6" fill="#ff2020" text-anchor="middle" >108,308,508,708,908,1308</text><text transform="translate(476 894.4) scale(0.832 1)" font-size="12.4" fill="#262626" text-anchor="middle" >LIVING &amp; DINING</text><text transform="translate(476 907.7) scale(0.832 1)" font-size="12.4" fill="#262626" text-anchor="middle" >17'0" X 10'0"</text><text transform="translate(473.5 781.9) scale(0.832 1)" font-size="12.4" fill="#262626" text-anchor="middle" >KITCHEN</text><text transform="translate(473.5 795.5) scale(0.832 1)" font-size="12.4" fill="#262626" text-anchor="middle" >8'0" X 9'0"</text><text transform="translate(704 870.7) scale(0.875 1)" font-size="10.6" fill="#ff2020" text-anchor="middle" >107,307,507,707,907,1307</text><text transform="translate(702.5 883.4) scale(0.832 1)" font-size="12.4" fill="#262626" text-anchor="middle" >LIVING</text><text transform="translate(702.5 896.6) scale(0.832 1)" font-size="12.4" fill="#262626" text-anchor="middle" >14'0" X 10'0"</text><text transform="translate(692 778.4) scale(0.832 1)" font-size="12.4" fill="#262626" text-anchor="middle" >KITCHEN</text><text transform="translate(692 792) scale(0.832 1)" font-size="12.4" fill="#262626" text-anchor="middle" >7'6" X 8'0"</text><text transform="translate(824.5 868.4) scale(0.832 1)" font-size="12.4" fill="#262626" text-anchor="middle" >W.C</text><text transform="translate(824.5 882) scale(0.832 1)" font-size="12.4" fill="#262626" text-anchor="middle" >3'6" X 4'0"</text><text transform="translate(678.5 641.9) scale(0.832 1)" font-size="12.4" fill="#262626" text-anchor="middle" >DRY</text><text transform="translate(678.5 655.4) scale(0.832 1)" font-size="12.4" fill="#262626" text-anchor="middle" >TERRACE</text><text transform="translate(678.5 668.9) scale(0.832 1)" font-size="12.4" fill="#262626" text-anchor="middle" >3'6" X 6'9"</text><text transform="translate(900.5 737.4) scale(0.832 1)" font-size="12.4" fill="#262626" text-anchor="middle" >DUCT</text><text transform="translate(945 894.9) scale(0.832 1)" font-size="12.4" fill="#262626" text-anchor="middle" >DUCT</text><text transform="translate(1070.5 805.4) scale(0.832 1)" font-size="12.4" fill="#262626" text-anchor="middle" >DRY</text><text transform="translate(1070.5 818.9) scale(0.832 1)" font-size="12.4" fill="#262626" text-anchor="middle" >TERRACE</text><text transform="translate(1070.5 832.4) scale(0.832 1)" font-size="12.4" fill="#262626" text-anchor="middle" >6'0" X 4'3"</text><text transform="translate(1177.5 790.4) scale(0.832 1)" font-size="12.4" fill="#262626" text-anchor="middle" >KITCHEN</text><text transform="translate(1177.5 804.2) scale(0.832 1)" font-size="12.4" fill="#262626" text-anchor="middle" >7'6" X 8'0"</text><text transform="translate(1065 868.4) scale(0.832 1)" font-size="12.4" fill="#262626" text-anchor="middle" >W.C</text><text transform="translate(1065 882) scale(0.832 1)" font-size="12.4" fill="#262626" text-anchor="middle" >3'6" X 4'0"</text><text transform="translate(906.5 965.4) scale(0.832 1)" font-size="12.4" fill="#262626" text-anchor="middle" >BATH</text><text transform="translate(906.5 979.2) scale(0.832 1)" font-size="12.4" fill="#262626" text-anchor="middle" >6'0" X 4'0"</text><text transform="translate(982.5 965.4) scale(0.832 1)" font-size="12.4" fill="#262626" text-anchor="middle" >BATH</text><text transform="translate(982.5 979.2) scale(0.832 1)" font-size="12.4" fill="#262626" text-anchor="middle" >6'0" X 4'0"</text><text transform="translate(1185 869.2) scale(0.875 1)" font-size="10.6" fill="#ff2020" text-anchor="middle" >106,306,506,706,906,1306</text><text transform="translate(1188 882.4) scale(0.832 1)" font-size="12.4" fill="#262626" text-anchor="middle" >LIVING</text><text transform="translate(1188 896.2) scale(0.832 1)" font-size="12.4" fill="#262626" text-anchor="middle" >14'0" X 10'0"</text><text transform="translate(1413 881.8) scale(0.875 1)" font-size="10.6" fill="#ff2020" text-anchor="middle" >105,305,505,705,905,1305</text><text transform="translate(1415 894.9) scale(0.832 1)" font-size="12.4" fill="#262626" text-anchor="middle" >LIVING &amp; DINING</text><text transform="translate(1415 908.9) scale(0.832 1)" font-size="12.4" fill="#262626" text-anchor="middle" >17'0" X 10'0"</text><text transform="translate(1419.5 784.4) scale(0.832 1)" font-size="12.4" fill="#262626" text-anchor="middle" >KITCHEN</text><text transform="translate(1419.5 798.2) scale(0.832 1)" font-size="12.4" fill="#262626" text-anchor="middle" >8'0" X 9'0"</text><text transform="translate(1515.5 818.4) scale(0.832 1)" font-size="12.4" fill="#262626" text-anchor="middle" >DRY</text><text transform="translate(1515.5 831.9) scale(0.832 1)" font-size="12.4" fill="#262626" text-anchor="middle" >TERRACE</text><text transform="translate(1515.5 845.4) scale(0.832 1)" font-size="12.4" fill="#262626" text-anchor="middle" >4'6" X 4'3"</text><text transform="translate(1575 861.4) scale(0.832 1)" font-size="12.4" fill="#262626" text-anchor="middle" >TOILET</text><text transform="translate(1575 875.2) scale(0.832 1)" font-size="12.4" fill="#262626" text-anchor="middle" >4'0" X 7'0"</text><text transform="translate(1692.5 969.4) scale(0.832 1)" font-size="12.4" fill="#262626" text-anchor="middle" >M.BEDROOM</text><text transform="translate(1692.5 982.7) scale(0.832 1)" font-size="12.4" fill="#262626" text-anchor="middle" >13'3" X 11'6"</text><text transform="translate(142 1049.9) scale(0.832 1)" font-size="12.4" fill="#262626" text-anchor="middle" >TERRACE</text><text transform="translate(142 1063.5) scale(0.832 1)" font-size="12.4" fill="#262626" text-anchor="middle" >7'3" X 6'0"</text><text transform="translate(255 1063.4) scale(0.832 1)" font-size="12.4" fill="#262626" text-anchor="middle" >BEDROOM</text><text transform="translate(255 1077) scale(0.832 1)" font-size="12.4" fill="#262626" text-anchor="middle" >10'0" X 10'0"</text><text transform="translate(408 1049.9) scale(0.832 1)" font-size="12.4" fill="#262626" text-anchor="middle" >TERRACE</text><text transform="translate(408 1063.5) scale(0.832 1)" font-size="12.4" fill="#262626" text-anchor="middle" >8'3" X 8'0"</text><text transform="translate(747 1049.9) scale(0.832 1)" font-size="12.4" fill="#262626" text-anchor="middle" >TERRACE</text><text transform="translate(747 1063.5) scale(0.832 1)" font-size="12.4" fill="#262626" text-anchor="middle" >6'9" X 8'0"</text><text transform="translate(883 1062.4) scale(0.832 1)" font-size="12.4" fill="#262626" text-anchor="middle" >BEDROOM</text><text transform="translate(883 1076) scale(0.832 1)" font-size="12.4" fill="#262626" text-anchor="middle" >10'0" X 10'0"</text><text transform="translate(1002 1062.4) scale(0.832 1)" font-size="12.4" fill="#262626" text-anchor="middle" >BEDROOM</text><text transform="translate(1002 1076) scale(0.832 1)" font-size="12.4" fill="#262626" text-anchor="middle" >10'0" X 10'0"</text><text transform="translate(1143 1049.9) scale(0.832 1)" font-size="12.4" fill="#262626" text-anchor="middle" >TERRACE</text><text transform="translate(1143 1063.5) scale(0.832 1)" font-size="12.4" fill="#262626" text-anchor="middle" >6'9" X 8'0"</text><text transform="translate(1482 1053.4) scale(0.832 1)" font-size="12.4" fill="#262626" text-anchor="middle" >TERRACE</text><text transform="translate(1482 1067) scale(0.832 1)" font-size="12.4" fill="#262626" text-anchor="middle" >8'3" X 8'0"</text><text transform="translate(1638 1063.4) scale(0.832 1)" font-size="12.4" fill="#262626" text-anchor="middle" >BEDROOM</text><text transform="translate(1638 1077) scale(0.832 1)" font-size="12.4" fill="#262626" text-anchor="middle" >10'0" X 10'0"</text><text transform="translate(1748 1064.4) scale(0.832 1)" font-size="12.4" fill="#262626" text-anchor="middle" >TERRACE</text><text transform="translate(1748 1077.7) scale(0.832 1)" font-size="12.4" fill="#262626" text-anchor="middle" >7'3" X 10'0"</text><text transform="translate(1835.5 1040.4) scale(0.832 1)" font-size="12.4" fill="#262626" text-anchor="middle" >TOILET</text><text transform="translate(1835.5 1053.9) scale(0.832 1)" font-size="12.4" fill="#262626" text-anchor="middle" >4'0" X 7'0"</text><text transform="translate(1839 1096.4) scale(0.832 1)" font-size="12.4" fill="#262626" text-anchor="middle" >DUCT</text><text x="1845.5" y="283.8" font-size="10.5" font-weight="bold" fill="#444" text-anchor="middle" textLength="25.5" lengthAdjust="spacingAndGlyphs">TOILET</text><text x="1845.5" y="295.8" font-size="10.5" font-weight="bold" fill="#444" text-anchor="middle" textLength="45.5" lengthAdjust="spacingAndGlyphs">1220X2140</text><text x="1845.5" y="890.8" font-size="10.5" font-weight="bold" fill="#444" text-anchor="middle" textLength="25.5" lengthAdjust="spacingAndGlyphs">TOILET</text><text x="1845.5" y="902.8" font-size="10.5" font-weight="bold" fill="#444" text-anchor="middle" textLength="45.5" lengthAdjust="spacingAndGlyphs">1220X2140</text></g>
</svg></body></html>
